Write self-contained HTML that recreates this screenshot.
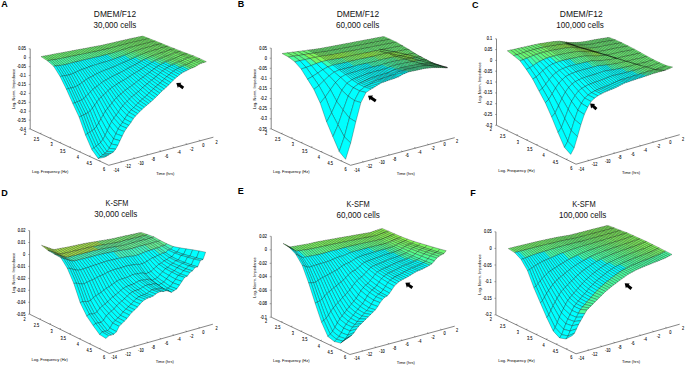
<!DOCTYPE html>
<html><head><meta charset="utf-8"><style>
html,body{margin:0;padding:0;background:#fff;}
svg{display:block;}
text{font-family:"Liberation Sans",sans-serif;}
.tl{font-size:4.6px;fill:#000;stroke:#000;stroke-width:0.08;}
.al{font-size:4px;fill:#000;}
.lt{font-size:9px;font-weight:bold;fill:#000;}
.tt{font-size:9px;fill:#111;}
</style></head><body>
<svg width="685" height="366" viewBox="0 0 685 366">
<rect width="685" height="366" fill="#fff"/>
<path d="M30.2 48.8V129L108.8 165.3L213.4 137.2" fill="none" stroke="#444" stroke-width="0.65"/>
<text transform="translate(25.9 50.3) scale(0.85 1)" text-anchor="end" class="tl">0.05</text>
<text transform="translate(25.9 59.3) scale(0.85 1)" text-anchor="end" class="tl">0</text>
<text transform="translate(25.9 68.2) scale(0.85 1)" text-anchor="end" class="tl">-0.05</text>
<text transform="translate(25.9 77.1) scale(0.85 1)" text-anchor="end" class="tl">-0.1</text>
<text transform="translate(25.9 86) scale(0.85 1)" text-anchor="end" class="tl">-0.15</text>
<text transform="translate(25.9 94.9) scale(0.85 1)" text-anchor="end" class="tl">-0.2</text>
<text transform="translate(25.9 103.8) scale(0.85 1)" text-anchor="end" class="tl">-0.25</text>
<text transform="translate(25.9 112.7) scale(0.85 1)" text-anchor="end" class="tl">-0.3</text>
<text transform="translate(25.9 121.6) scale(0.85 1)" text-anchor="end" class="tl">-0.35</text>
<text transform="translate(25.9 130.6) scale(0.85 1)" text-anchor="end" class="tl">-0.4</text>
<path d="M30.2 48.8h-1.5 M30.2 57.7h-1.5 M30.2 66.6h-1.5 M30.2 75.5h-1.5 M30.2 84.4h-1.5 M30.2 93.4h-1.5 M30.2 102.3h-1.5 M30.2 111.2h-1.5 M30.2 120.1h-1.5 M30.2 129h-1.5" stroke="#333" stroke-width="0.4"/>
<path d="M40 133.5l1.5 -0.4 M49.8 138.1l1.5 -0.4 M59.7 142.6l1.5 -0.4 M69.5 147.2l1.5 -0.4 M79.3 151.7l1.5 -0.4 M89.1 156.2l1.5 -0.4 M99 160.8l1.5 -0.4 M121.9 161.8l-1.5 -0.7 M134.9 158.3l-1.5 -0.7 M148 154.8l-1.5 -0.7 M161.1 151.2l-1.5 -0.7 M174.2 147.7l-1.5 -0.7 M187.2 144.2l-1.5 -0.7 M200.3 140.7l-1.5 -0.7" stroke="#333" stroke-width="0.4"/>
<text transform="translate(25.1 134.8) scale(0.85 1)" text-anchor="middle" class="tl">2</text>
<text transform="translate(36.4 140.6) scale(0.85 1)" text-anchor="middle" class="tl">2.5</text>
<text transform="translate(51.5 146.4) scale(0.85 1)" text-anchor="middle" class="tl">3</text>
<text transform="translate(62.8 152.6) scale(0.85 1)" text-anchor="middle" class="tl">3.5</text>
<text transform="translate(77.9 158.9) scale(0.85 1)" text-anchor="middle" class="tl">4</text>
<text transform="translate(89.2 165) scale(0.85 1)" text-anchor="middle" class="tl">4.5</text>
<text transform="translate(104.2 170.7) scale(0.85 1)" text-anchor="middle" class="tl">6</text>
<text transform="translate(116.3 171.9) scale(0.85 1)" text-anchor="middle" class="tl">-14</text>
<text transform="translate(128 168.2) scale(0.85 1)" text-anchor="middle" class="tl">-12</text>
<text transform="translate(140.9 164.9) scale(0.85 1)" text-anchor="middle" class="tl">-10</text>
<text transform="translate(153.2 161.1) scale(0.85 1)" text-anchor="middle" class="tl">-8</text>
<text transform="translate(166.5 158.1) scale(0.85 1)" text-anchor="middle" class="tl">-6</text>
<text transform="translate(179 154.4) scale(0.85 1)" text-anchor="middle" class="tl">-4</text>
<text transform="translate(191.6 151.1) scale(0.85 1)" text-anchor="middle" class="tl">-2</text>
<text transform="translate(203.4 147.2) scale(0.85 1)" text-anchor="middle" class="tl">0</text>
<text transform="translate(216.7 143.6) scale(0.85 1)" text-anchor="middle" class="tl">2</text>
<text x="50.2" y="173" text-anchor="middle" class="al">Log. Frequency (Hz)</text>
<text x="165.2" y="175" text-anchor="middle" class="al">Time (hrs)</text>
<text transform="translate(15.1 89) rotate(-90)" text-anchor="middle" class="al">Log. Norm. Impedance</text>
<g stroke="#000" stroke-width="0.28" stroke-linejoin="round">
<path d="M140.6 36.6 142.8 36.1 149.2 38.6 146.9 39.1z" fill="#74f567"/>
<path d="M138.4 37 140.6 36.6 146.9 39.1 144.7 39.6z" fill="#74f567"/>
<path d="M136.2 37.5 138.4 37 144.7 39.6 142.5 40.1z" fill="#74f567"/>
<path d="M133.9 38 136.2 37.5 142.5 40.1 140.3 40.6z" fill="#74f567"/>
<path d="M131.7 38.4 133.9 38 140.3 40.6 138.1 41.1z" fill="#74f567"/>
<path d="M129.5 38.9 131.7 38.4 138.1 41.1 135.9 41.6z" fill="#74f567"/>
<path d="M127.3 39.4 129.5 38.9 135.9 41.6 133.7 42.1z" fill="#74f567"/>
<path d="M146.9 39.1 149.2 38.6 155.5 41.1 153.3 41.6z" fill="#74f567"/>
<path d="M125.1 39.9 127.3 39.4 133.7 42.1 131.4 42.6z" fill="#74f567"/>
<path d="M144.7 39.6 146.9 39.1 153.3 41.6 151.1 42.1z" fill="#74f567"/>
<path d="M122.9 40.4 125.1 39.9 131.4 42.6 129.2 43.1z" fill="#74f567"/>
<path d="M142.5 40.1 144.7 39.6 151.1 42.1 148.9 42.6z" fill="#74f567"/>
<path d="M120.7 40.9 122.9 40.4 129.2 43.1 127 43.7z" fill="#73f568"/>
<path d="M140.3 40.6 142.5 40.1 148.9 42.6 146.6 43.2z" fill="#74f567"/>
<path d="M118.5 41.4 120.7 40.9 127 43.7 124.8 44.3z" fill="#72f569"/>
<path d="M138.1 41.1 140.3 40.6 146.6 43.2 144.4 43.8z" fill="#74f567"/>
<path d="M116.2 41.9 118.5 41.4 124.8 44.3 122.6 44.8z" fill="#71f56a"/>
<path d="M135.9 41.6 138.1 41.1 144.4 43.8 142.2 44.3z" fill="#74f567"/>
<path d="M114 42.5 116.2 41.9 122.6 44.8 120.4 45.4z" fill="#71f56b"/>
<path d="M133.7 42.1 135.9 41.6 142.2 44.3 140 44.8z" fill="#74f567"/>
<path d="M153.3 41.6 155.5 41.1 161.9 43.6 159.6 44.2z" fill="#74f567"/>
<path d="M111.8 43 114 42.5 120.4 45.4 118.2 46z" fill="#71f56b"/>
<path d="M131.4 42.6 133.7 42.1 140 44.8 137.8 45.4z" fill="#74f567"/>
<path d="M151.1 42.1 153.3 41.6 159.6 44.2 157.4 44.7z" fill="#74f567"/>
<path d="M109.6 43.5 111.8 43 118.2 46 116 46.6z" fill="#70f56b"/>
<path d="M129.2 43.1 131.4 42.6 137.8 45.4 135.6 46z" fill="#73f569"/>
<path d="M148.9 42.6 151.1 42.1 157.4 44.7 155.2 45.2z" fill="#74f567"/>
<path d="M107.4 44 109.6 43.5 116 46.6 113.7 47.2z" fill="#70f56c"/>
<path d="M127 43.7 129.2 43.1 135.6 46 133.4 46.6z" fill="#71f56a"/>
<path d="M146.6 43.2 148.9 42.6 155.2 45.2 153 45.9z" fill="#74f567"/>
<path d="M105.2 44.5 107.4 44 113.7 47.2 111.5 47.8z" fill="#6ff56c"/>
<path d="M124.8 44.3 127 43.7 133.4 46.6 131.2 47.2z" fill="#70f56c"/>
<path d="M144.4 43.8 146.6 43.2 153 45.9 150.8 46.6z" fill="#74f567"/>
<path d="M103 45 105.2 44.5 111.5 47.8 109.3 48.4z" fill="#6ff56d"/>
<path d="M122.6 44.8 124.8 44.3 131.2 47.2 128.9 47.8z" fill="#6ff56d"/>
<path d="M142.2 44.3 144.4 43.8 150.8 46.6 148.6 47.1z" fill="#74f567"/>
<path d="M100.8 45.5 103 45 109.3 48.4 107.1 48.9z" fill="#6ff56d"/>
<path d="M120.4 45.4 122.6 44.8 128.9 47.8 126.7 48.5z" fill="#6df56f"/>
<path d="M140 44.8 142.2 44.3 148.6 47.1 146.4 47.7z" fill="#74f568"/>
<path d="M159.6 44.2 161.9 43.6 168.2 46.2 166 46.7z" fill="#74f567"/>
<path d="M98.5 45.9 100.8 45.5 107.1 48.9 104.9 49.4z" fill="#6ef56d"/>
<path d="M118.2 46 120.4 45.4 126.7 48.5 124.5 49.2z" fill="#6cf570"/>
<path d="M137.8 45.4 140 44.8 146.4 47.7 144.1 48.3z" fill="#72f569"/>
<path d="M157.4 44.7 159.6 44.2 166 46.7 163.8 47.3z" fill="#74f567"/>
<path d="M96.3 46.3 98.5 45.9 104.9 49.4 102.7 49.9z" fill="#6ef56e"/>
<path d="M116 46.6 118.2 46 124.5 49.2 122.3 49.9z" fill="#6bf571"/>
<path d="M135.6 46 137.8 45.4 144.1 48.3 141.9 49z" fill="#71f56b"/>
<path d="M155.2 45.2 157.4 44.7 163.8 47.3 161.6 47.9z" fill="#74f567"/>
<path d="M94.1 46.7 96.3 46.3 102.7 49.9 100.5 50.4z" fill="#6ef56e"/>
<path d="M113.7 47.2 116 46.6 122.3 49.9 120.1 50.6z" fill="#6bf572"/>
<path d="M133.4 46.6 135.6 46 141.9 49 139.7 49.6z" fill="#6ff56c"/>
<path d="M153 45.9 155.2 45.2 161.6 47.9 159.3 48.6z" fill="#74f567"/>
<path d="M91.9 47.1 94.1 46.7 100.5 50.4 98.2 50.9z" fill="#6ef56e"/>
<path d="M111.5 47.8 113.7 47.2 120.1 50.6 117.9 51.3z" fill="#6af572"/>
<path d="M131.2 47.2 133.4 46.6 139.7 49.6 137.5 50.3z" fill="#6ef56e"/>
<path d="M150.8 46.6 153 45.9 159.3 48.6 157.1 49.4z" fill="#74f567"/>
<path d="M89.7 47.5 91.9 47.1 98.2 50.9 96 51.4z" fill="#6df56f"/>
<path d="M109.3 48.4 111.5 47.8 117.9 51.3 115.7 52z" fill="#69f573"/>
<path d="M128.9 47.8 131.2 47.2 137.5 50.3 135.3 51z" fill="#6cf570"/>
<path d="M148.6 47.1 150.8 46.6 157.1 49.4 154.9 50z" fill="#73f568"/>
<path d="M87.5 48 89.7 47.5 96 51.4 93.8 51.9z" fill="#6df56f"/>
<path d="M107.1 48.9 109.3 48.4 115.7 52 113.5 52.7z" fill="#67f677"/>
<path d="M126.7 48.5 128.9 47.8 135.3 51 133.1 51.8z" fill="#6bf571"/>
<path d="M146.4 47.7 148.6 47.1 154.9 50 152.7 50.6z" fill="#72f56a"/>
<path d="M166 46.7 168.2 46.2 174.6 48.7 172.3 49.3z" fill="#74f567"/>
<path d="M85.3 48.4 87.5 48 93.8 51.9 91.6 52.3z" fill="#6df56f"/>
<path d="M104.9 49.4 107.1 48.9 113.5 52.7 111.2 53.3z" fill="#64f67a"/>
<path d="M124.5 49.2 126.7 48.5 133.1 51.8 130.9 52.6z" fill="#68f575"/>
<path d="M144.1 48.3 146.4 47.7 152.7 50.6 150.5 51.3z" fill="#70f56b"/>
<path d="M163.8 47.3 166 46.7 172.3 49.3 170.1 49.9z" fill="#74f567"/>
<path d="M83 48.8 85.3 48.4 91.6 52.3 89.4 52.7z" fill="#6df56f"/>
<path d="M102.7 49.9 104.9 49.4 111.2 53.3 109 53.9z" fill="#62f77d"/>
<path d="M122.3 49.9 124.5 49.2 130.9 52.6 128.7 53.5z" fill="#61f77f"/>
<path d="M141.9 49 144.1 48.3 150.5 51.3 148.3 52z" fill="#6ff56d"/>
<path d="M161.6 47.9 163.8 47.3 170.1 49.9 167.9 50.5z" fill="#74f567"/>
<path d="M80.8 49.2 83 48.8 89.4 52.7 87.2 53.2z" fill="#6df56f"/>
<path d="M100.5 50.4 102.7 49.9 109 53.9 106.8 54.6z" fill="#60f780"/>
<path d="M120.1 50.6 122.3 49.9 128.7 53.5 126.4 54.4z" fill="#59f989"/>
<path d="M139.7 49.6 141.9 49 148.3 52 146.1 52.7z" fill="#6df56f"/>
<path d="M159.3 48.6 161.6 47.9 167.9 50.5 165.7 51.4z" fill="#74f567"/>
<path d="M78.6 49.6 80.8 49.2 87.2 53.2 85 53.6z" fill="#6cf570"/>
<path d="M98.2 50.9 100.5 50.4 106.8 54.6 104.6 55.2z" fill="#5df884"/>
<path d="M117.9 51.3 120.1 50.6 126.4 54.4 124.2 55.3z" fill="#52fb92"/>
<path d="M137.5 50.3 139.7 49.6 146.1 52.7 143.9 53.5z" fill="#6cf571"/>
<path d="M157.1 49.4 159.3 48.6 165.7 51.4 163.5 52.2z" fill="#73f568"/>
<path d="M76.4 50 78.6 49.6 85 53.6 82.8 54.1z" fill="#6cf570"/>
<path d="M96 51.4 98.2 50.9 104.6 55.2 102.4 55.7z" fill="#5bf987"/>
<path d="M115.7 52 117.9 51.3 124.2 55.3 122 56.1z" fill="#4dfc99"/>
<path d="M135.3 51 137.5 50.3 143.9 53.5 141.6 54.4z" fill="#6af572"/>
<path d="M154.9 50 157.1 49.4 163.5 52.2 161.3 52.9z" fill="#71f56a"/>
<path d="M74.2 50.4 76.4 50 82.8 54.1 80.5 54.5z" fill="#6cf570"/>
<path d="M93.8 51.9 96 51.4 102.4 55.7 100.2 56.3z" fill="#59f989"/>
<path d="M113.5 52.7 115.7 52 122 56.1 119.8 56.9z" fill="#47fea1"/>
<path d="M133.1 51.8 135.3 51 141.6 54.4 139.4 55.3z" fill="#62f77d"/>
<path d="M152.7 50.6 154.9 50 161.3 52.9 159.1 53.5z" fill="#70f56c"/>
<path d="M172.3 49.3 174.6 48.7 180.9 51.2 178.7 51.8z" fill="#74f567"/>
<path d="M72 50.8 74.2 50.4 80.5 54.5 78.3 54.9z" fill="#6cf570"/>
<path d="M91.6 52.3 93.8 51.9 100.2 56.3 98 56.8z" fill="#57fa8c"/>
<path d="M111.2 53.3 113.5 52.7 119.8 56.9 117.6 57.7z" fill="#41ffa9"/>
<path d="M130.9 52.6 133.1 51.8 139.4 55.3 137.2 56.2z" fill="#59f98a"/>
<path d="M150.5 51.3 152.7 50.6 159.1 53.5 156.8 54.3z" fill="#6ef56e"/>
<path d="M170.1 49.9 172.3 49.3 178.7 51.8 176.5 52.4z" fill="#74f567"/>
<path d="M69.8 51.3 72 50.8 78.3 54.9 76.1 55.4z" fill="#6cf570"/>
<path d="M89.4 52.7 91.6 52.3 98 56.8 95.7 57.3z" fill="#55fa8e"/>
<path d="M109 53.9 111.2 53.3 117.6 57.7 115.4 58.5z" fill="#3cffb0"/>
<path d="M128.7 53.5 130.9 52.6 137.2 56.2 135 57.3z" fill="#4ffc96"/>
<path d="M148.3 52 150.5 51.3 156.8 54.3 154.6 55.1z" fill="#6df56f"/>
<path d="M167.9 50.5 170.1 49.9 176.5 52.4 174.3 53.1z" fill="#74f567"/>
<path d="M67.6 51.7 69.8 51.3 76.1 55.4 73.9 55.9z" fill="#6cf570"/>
<path d="M87.2 53.2 89.4 52.7 95.7 57.3 93.5 57.8z" fill="#53fb91"/>
<path d="M106.8 54.6 109 53.9 115.4 58.5 113.2 59.3z" fill="#38ffb5"/>
<path d="M126.4 54.4 128.7 53.5 135 57.3 132.8 58.4z" fill="#46fea2"/>
<path d="M146.1 52.7 148.3 52 154.6 55.1 152.4 55.9z" fill="#6bf571"/>
<path d="M165.7 51.4 167.9 50.5 174.3 53.1 172 54.1z" fill="#74f567"/>
<path d="M65.3 52.1 67.6 51.7 73.9 55.9 71.7 56.3z" fill="#6cf571"/>
<path d="M85 53.6 87.2 53.2 93.5 57.8 91.3 58.3z" fill="#52fb93"/>
<path d="M104.6 55.2 106.8 54.6 113.2 59.3 111 60.1z" fill="#00ffff"/>
<path d="M124.2 55.3 126.4 54.4 132.8 58.4 130.6 59.4z" fill="#3effae"/>
<path d="M143.9 53.5 146.1 52.7 152.4 55.9 150.2 56.8z" fill="#68f575"/>
<path d="M163.5 52.2 165.7 51.4 172 54.1 169.8 55z" fill="#72f56a"/>
<path d="M63.1 52.5 65.3 52.1 71.7 56.3 69.5 56.7z" fill="#6bf571"/>
<path d="M82.8 54.1 85 53.6 91.3 58.3 89.1 58.8z" fill="#51fb94"/>
<path d="M102.4 55.7 104.6 55.2 111 60.1 108.7 60.8z" fill="#00ffff"/>
<path d="M122 56.1 124.2 55.3 130.6 59.4 128.4 60.4z" fill="#00ffff"/>
<path d="M141.6 54.4 143.9 53.5 150.2 56.8 148 57.8z" fill="#5df884"/>
<path d="M161.3 52.9 163.5 52.2 169.8 55 167.6 55.8z" fill="#70f56c"/>
<path d="M60.9 52.9 63.1 52.5 69.5 56.7 67.3 57.2z" fill="#6bf571"/>
<path d="M80.5 54.5 82.8 54.1 89.1 58.8 86.9 59.3z" fill="#50fc95"/>
<path d="M100.2 56.3 102.4 55.7 108.7 60.8 106.5 61.5z" fill="#00ffff"/>
<path d="M119.8 56.9 122 56.1 128.4 60.4 126.2 61.4z" fill="#00ffff"/>
<path d="M139.4 55.3 141.6 54.4 148 57.8 145.8 58.8z" fill="#51fb93"/>
<path d="M159.1 53.5 161.3 52.9 167.6 55.8 165.4 56.4z" fill="#6ef56e"/>
<path d="M178.7 51.8 180.9 51.2 187.2 53.6 185 54.2z" fill="#74f567"/>
<path d="M58.7 53.3 60.9 52.9 67.3 57.2 65.1 57.7z" fill="#6bf571"/>
<path d="M78.3 54.9 80.5 54.5 86.9 59.3 84.7 59.8z" fill="#4ffc96"/>
<path d="M98 56.8 100.2 56.3 106.5 61.5 104.3 62.2z" fill="#00ffff"/>
<path d="M117.6 57.7 119.8 56.9 126.2 61.4 123.9 62.4z" fill="#00ffff"/>
<path d="M137.2 56.2 139.4 55.3 145.8 58.8 143.6 59.9z" fill="#45fea3"/>
<path d="M156.8 54.3 159.1 53.5 165.4 56.4 163.2 57.3z" fill="#6cf570"/>
<path d="M176.5 52.4 178.7 51.8 185 54.2 182.8 54.8z" fill="#74f567"/>
<path d="M56.5 53.7 58.7 53.3 65.1 57.7 62.8 58.1z" fill="#6bf571"/>
<path d="M76.1 55.4 78.3 54.9 84.7 59.8 82.5 60.3z" fill="#4efc98"/>
<path d="M95.7 57.3 98 56.8 104.3 62.2 102.1 62.8z" fill="#00ffff"/>
<path d="M115.4 58.5 117.6 57.7 123.9 62.4 121.7 63.3z" fill="#00ffff"/>
<path d="M135 57.3 137.2 56.2 143.6 59.9 141.4 61.2z" fill="#39ffb4"/>
<path d="M154.6 55.1 156.8 54.3 163.2 57.3 161 58.2z" fill="#6bf572"/>
<path d="M174.3 53.1 176.5 52.4 182.8 54.8 180.6 55.5z" fill="#74f567"/>
<path d="M54.3 54.1 56.5 53.7 62.8 58.1 60.6 58.6z" fill="#6bf571"/>
<path d="M73.9 55.9 76.1 55.4 82.5 60.3 80.3 60.9z" fill="#4dfc99"/>
<path d="M93.5 57.8 95.7 57.3 102.1 62.8 99.9 63.4z" fill="#00ffff"/>
<path d="M113.2 59.3 115.4 58.5 121.7 63.3 119.5 64.3z" fill="#00ffff"/>
<path d="M132.8 58.4 135 57.3 141.4 61.2 139.1 62.4z" fill="#00ffff"/>
<path d="M152.4 55.9 154.6 55.1 161 58.2 158.8 59z" fill="#65f679"/>
<path d="M172 54.1 174.3 53.1 180.6 55.5 178.4 56.7z" fill="#73f568"/>
<path d="M52.1 54.5 54.3 54.1 60.6 58.6 58.4 59z" fill="#6bf571"/>
<path d="M71.7 56.3 73.9 55.9 80.3 60.9 78 61.4z" fill="#4cfd9b"/>
<path d="M91.3 58.3 93.5 57.8 99.9 63.4 97.7 64.1z" fill="#00ffff"/>
<path d="M111 60.1 113.2 59.3 119.5 64.3 117.3 65.3z" fill="#00ffff"/>
<path d="M130.6 59.4 132.8 58.4 139.1 62.4 136.9 63.7z" fill="#00ffff"/>
<path d="M150.2 56.8 152.4 55.9 158.8 59 156.6 60z" fill="#59f989"/>
<path d="M169.8 55 172 54.1 178.4 56.7 176.2 57.8z" fill="#71f56b"/>
<path d="M49.9 55 52.1 54.5 58.4 59 56.2 59.4z" fill="#6bf572"/>
<path d="M69.5 56.7 71.7 56.3 78 61.4 75.8 61.9z" fill="#4bfd9c"/>
<path d="M89.1 58.8 91.3 58.3 97.7 64.1 95.5 64.8z" fill="#00ffff"/>
<path d="M108.7 60.8 111 60.1 117.3 65.3 115.1 66.3z" fill="#00ffff"/>
<path d="M128.4 60.4 130.6 59.4 136.9 63.7 134.7 64.9z" fill="#00ffff"/>
<path d="M148 57.8 150.2 56.8 156.6 60 154.3 61.1z" fill="#4cfc9a"/>
<path d="M167.6 55.8 169.8 55 176.2 57.8 174 58.6z" fill="#6ff56d"/>
<path d="M47.6 55.4 49.9 55 56.2 59.4 54 59.7z" fill="#6bf572"/>
<path d="M67.3 57.2 69.5 56.7 75.8 61.9 73.6 62.4z" fill="#4afd9d"/>
<path d="M86.9 59.3 89.1 58.8 95.5 64.8 93.2 65.5z" fill="#00ffff"/>
<path d="M106.5 61.5 108.7 60.8 115.1 66.3 112.9 67.2z" fill="#00ffff"/>
<path d="M126.2 61.4 128.4 60.4 134.7 64.9 132.5 66.1z" fill="#00ffff"/>
<path d="M145.8 58.8 148 57.8 154.3 61.1 152.1 62.3z" fill="#3fffac"/>
<path d="M165.4 56.4 167.6 55.8 174 58.6 171.8 59.3z" fill="#6df56f"/>
<path d="M185 54.2 187.2 53.6 193.6 55.9 191.4 56.6z" fill="#74f567"/>
<path d="M45.4 55.8 47.6 55.4 54 59.7 51.8 60z" fill="#6bf572"/>
<path d="M65.1 57.7 67.3 57.2 73.6 62.4 71.4 63z" fill="#49fd9e"/>
<path d="M84.7 59.8 86.9 59.3 93.2 65.5 91 66.2z" fill="#00ffff"/>
<path d="M104.3 62.2 106.5 61.5 112.9 67.2 110.7 68z" fill="#00ffff"/>
<path d="M123.9 62.4 126.2 61.4 132.5 66.1 130.3 67.2z" fill="#00ffff"/>
<path d="M143.6 59.9 145.8 58.8 152.1 62.3 149.9 63.6z" fill="#00ffff"/>
<path d="M163.2 57.3 165.4 56.4 171.8 59.3 169.5 60.2z" fill="#6bf571"/>
<path d="M182.8 54.8 185 54.2 191.4 56.6 189.2 57.3z" fill="#74f567"/>
<path d="M43.2 56.2 45.4 55.8 51.8 60 49.6 60.4z" fill="#6af572"/>
<path d="M62.8 58.1 65.1 57.7 71.4 63 69.2 63.6z" fill="#48fda0"/>
<path d="M82.5 60.3 84.7 59.8 91 66.2 88.8 66.9z" fill="#00ffff"/>
<path d="M102.1 62.8 104.3 62.2 110.7 68 108.4 68.9z" fill="#00ffff"/>
<path d="M121.7 63.3 123.9 62.4 130.3 67.2 128.1 68.4z" fill="#00ffff"/>
<path d="M141.4 61.2 143.6 59.9 149.9 63.6 147.7 65z" fill="#00ffff"/>
<path d="M161 58.2 163.2 57.3 169.5 60.2 167.3 61.2z" fill="#66f678"/>
<path d="M180.6 55.5 182.8 54.8 189.2 57.3 187 58z" fill="#74f567"/>
<path d="M41 56.6 43.2 56.2 49.6 60.4 47.4 60.7z" fill="#6af573"/>
<path d="M60.6 58.6 62.8 58.1 69.2 63.6 67 64.2z" fill="#47fea1"/>
<path d="M80.3 60.9 82.5 60.3 88.8 66.9 86.6 67.9z" fill="#00ffff"/>
<path d="M99.9 63.4 102.1 62.8 108.4 68.9 106.2 69.7z" fill="#00ffff"/>
<path d="M119.5 64.3 121.7 63.3 128.1 68.4 125.9 69.6z" fill="#00ffff"/>
<path d="M139.1 62.4 141.4 61.2 147.7 65 145.5 66.5z" fill="#00ffff"/>
<path d="M158.8 59 161 58.2 167.3 61.2 165.1 62.1z" fill="#57fa8c"/>
<path d="M178.4 56.7 180.6 55.5 187 58 184.7 59.2z" fill="#73f569"/>
<path d="M58.4 59 60.6 58.6 67 64.2 64.8 64.7z" fill="#46fea2"/>
<path d="M78 61.4 80.3 60.9 86.6 67.9 84.4 68.7z" fill="#00ffff"/>
<path d="M97.7 64.1 99.9 63.4 106.2 69.7 104 70.6z" fill="#00ffff"/>
<path d="M117.3 65.3 119.5 64.3 125.9 69.6 123.7 70.8z" fill="#00ffff"/>
<path d="M136.9 63.7 139.1 62.4 145.5 66.5 143.3 68z" fill="#00ffff"/>
<path d="M156.6 60 158.8 59 165.1 62.1 162.9 63.2z" fill="#49fd9f"/>
<path d="M176.2 57.8 178.4 56.7 184.7 59.2 182.5 60.5z" fill="#70f56c"/>
<path d="M56.2 59.4 58.4 59 64.8 64.7 62.6 65.1z" fill="#46fea3"/>
<path d="M75.8 61.9 78 61.4 84.4 68.7 82.2 69.4z" fill="#00ffff"/>
<path d="M95.5 64.8 97.7 64.1 104 70.6 101.8 71.5z" fill="#00ffff"/>
<path d="M115.1 66.3 117.3 65.3 123.7 70.8 121.4 72z" fill="#00ffff"/>
<path d="M134.7 64.9 136.9 63.7 143.3 68 141.1 69.3z" fill="#00ffff"/>
<path d="M154.3 61.1 156.6 60 162.9 63.2 160.7 64.5z" fill="#3affb3"/>
<path d="M174 58.6 176.2 57.8 182.5 60.5 180.3 61.4z" fill="#6ef56e"/>
<path d="M54 59.7 56.2 59.4 62.6 65.1 60.3 65.4z" fill="#46fea2"/>
<path d="M73.6 62.4 75.8 61.9 82.2 69.4 80 70.3z" fill="#00ffff"/>
<path d="M93.2 65.5 95.5 64.8 101.8 71.5 99.6 72.5z" fill="#00ffff"/>
<path d="M112.9 67.2 115.1 66.3 121.4 72 119.2 73.2z" fill="#00ffff"/>
<path d="M132.5 66.1 134.7 64.9 141.1 69.3 138.9 70.7z" fill="#00ffff"/>
<path d="M152.1 62.3 154.3 61.1 160.7 64.5 158.5 65.9z" fill="#00ffff"/>
<path d="M171.8 59.3 174 58.6 180.3 61.4 178.1 62.1z" fill="#6cf570"/>
<path d="M191.4 56.6 193.6 55.9 200 58.7 197.7 59.4z" fill="#74f567"/>
<path d="M51.8 60 54 59.7 60.3 65.4 58.1 65.7z" fill="#47fea2"/>
<path d="M71.4 63 73.6 62.4 80 70.3 77.8 71.3z" fill="#00ffff"/>
<path d="M91 66.2 93.2 65.5 99.6 72.5 97.4 73.5z" fill="#00ffff"/>
<path d="M110.7 68 112.9 67.2 119.2 73.2 117 74.2z" fill="#00ffff"/>
<path d="M130.3 67.2 132.5 66.1 138.9 70.7 136.6 72.1z" fill="#00ffff"/>
<path d="M149.9 63.6 152.1 62.3 158.5 65.9 156.3 67.3z" fill="#00ffff"/>
<path d="M169.5 60.2 171.8 59.3 178.1 62.1 175.9 63.1z" fill="#6af572"/>
<path d="M189.2 57.3 191.4 56.6 197.7 59.4 195.5 60.1z" fill="#74f567"/>
<path d="M49.6 60.4 51.8 60 58.1 65.7 55.9 65.9z" fill="#45fea5"/>
<path d="M69.2 63.6 71.4 63 77.8 71.3 75.5 72.4z" fill="#00ffff"/>
<path d="M88.8 66.9 91 66.2 97.4 73.5 95.2 74.5z" fill="#00ffff"/>
<path d="M108.4 68.9 110.7 68 117 74.2 114.8 75.3z" fill="#00ffff"/>
<path d="M128.1 68.4 130.3 67.2 136.6 72.1 134.4 73.4z" fill="#00ffff"/>
<path d="M147.7 65 149.9 63.6 156.3 67.3 154.1 68.9z" fill="#00ffff"/>
<path d="M167.3 61.2 169.5 60.2 175.9 63.1 173.7 64.2z" fill="#59f989"/>
<path d="M187 58 189.2 57.3 195.5 60.1 193.3 60.9z" fill="#74f567"/>
<path d="M47.4 60.7 49.6 60.4 55.9 65.9 53.7 66.2z" fill="#3effad"/>
<path d="M67 64.2 69.2 63.6 75.5 72.4 73.3 73.4z" fill="#00ffff"/>
<path d="M86.6 67.9 88.8 66.9 95.2 74.5 93 75.9z" fill="#00ffff"/>
<path d="M106.2 69.7 108.4 68.9 114.8 75.3 112.6 76.4z" fill="#00ffff"/>
<path d="M125.9 69.6 128.1 68.4 134.4 73.4 132.2 74.8z" fill="#00ffff"/>
<path d="M145.5 66.5 147.7 65 154.1 68.9 151.8 70.7z" fill="#00ffff"/>
<path d="M165.1 62.1 167.3 61.2 173.7 64.2 171.5 65.2z" fill="#47fea1"/>
<path d="M184.7 59.2 187 58 193.3 60.9 191.1 62.2z" fill="#72f56a"/>
<path d="M64.8 64.7 67 64.2 73.3 73.4 71.1 74.3z" fill="#00ffff"/>
<path d="M84.4 68.7 86.6 67.9 93 75.9 90.7 77.1z" fill="#00ffff"/>
<path d="M104 70.6 106.2 69.7 112.6 76.4 110.4 77.5z" fill="#00ffff"/>
<path d="M123.7 70.8 125.9 69.6 132.2 74.8 130 76.3z" fill="#00ffff"/>
<path d="M143.3 68 145.5 66.5 151.8 70.7 149.6 72.4z" fill="#00ffff"/>
<path d="M162.9 63.2 165.1 62.1 171.5 65.2 169.3 66.4z" fill="#00ffff"/>
<path d="M182.5 60.5 184.7 59.2 191.1 62.2 188.9 63.5z" fill="#6ff56d"/>
<path d="M62.6 65.1 64.8 64.7 71.1 74.3 68.9 74.9z" fill="#00ffff"/>
<path d="M82.2 69.4 84.4 68.7 90.7 77.1 88.5 78.2z" fill="#00ffff"/>
<path d="M101.8 71.5 104 70.6 110.4 77.5 108.2 78.8z" fill="#00ffff"/>
<path d="M121.4 72 123.7 70.8 130 76.3 127.8 77.7z" fill="#00ffff"/>
<path d="M141.1 69.3 143.3 68 149.6 72.4 147.4 74z" fill="#00ffff"/>
<path d="M160.7 64.5 162.9 63.2 169.3 66.4 167 67.8z" fill="#00ffff"/>
<path d="M180.3 61.4 182.5 60.5 188.9 63.5 186.7 64.5z" fill="#6df56f"/>
<path d="M60.3 65.4 62.6 65.1 68.9 74.9 66.7 75.4z" fill="#00ffff"/>
<path d="M80 70.3 82.2 69.4 88.5 78.2 86.3 79.5z" fill="#00ffff"/>
<path d="M99.6 72.5 101.8 71.5 108.2 78.8 105.9 80z" fill="#00ffff"/>
<path d="M119.2 73.2 121.4 72 127.8 77.7 125.6 79.1z" fill="#00ffff"/>
<path d="M138.9 70.7 141.1 69.3 147.4 74 145.2 75.6z" fill="#00ffff"/>
<path d="M158.5 65.9 160.7 64.5 167 67.8 164.8 69.3z" fill="#00ffff"/>
<path d="M178.1 62.1 180.3 61.4 186.7 64.5 184.5 65.2z" fill="#6bf572"/>
<path d="M197.7 59.4 200 58.7 206.3 61.7 204.1 62.4z" fill="#70f56c"/>
<path d="M58.1 65.7 60.3 65.4 66.7 75.4 64.5 75.7z" fill="#00ffff"/>
<path d="M77.8 71.3 80 70.3 86.3 79.5 84.1 81z" fill="#00ffff"/>
<path d="M97.4 73.5 99.6 72.5 105.9 80 103.7 81.3z" fill="#00ffff"/>
<path d="M117 74.2 119.2 73.2 125.6 79.1 123.4 80.4z" fill="#00ffff"/>
<path d="M136.6 72.1 138.9 70.7 145.2 75.6 143 77.2z" fill="#00ffff"/>
<path d="M156.3 67.3 158.5 65.9 164.8 69.3 162.6 71z" fill="#00ffff"/>
<path d="M175.9 63.1 178.1 62.1 184.5 65.2 182.2 66.3z" fill="#5df883"/>
<path d="M195.5 60.1 197.7 59.4 204.1 62.4 201.9 63.1z" fill="#6ff56c"/>
<path d="M55.9 65.9 58.1 65.7 64.5 75.7 62.3 76.1z" fill="#00ffff"/>
<path d="M75.5 72.4 77.8 71.3 84.1 81 81.9 82.7z" fill="#00ffff"/>
<path d="M95.2 74.5 97.4 73.5 103.7 81.3 101.5 82.7z" fill="#00ffff"/>
<path d="M114.8 75.3 117 74.2 123.4 80.4 121.1 81.6z" fill="#00ffff"/>
<path d="M134.4 73.4 136.6 72.1 143 77.2 140.8 78.8z" fill="#00ffff"/>
<path d="M154.1 68.9 156.3 67.3 162.6 71 160.4 72.8z" fill="#00ffff"/>
<path d="M173.7 64.2 175.9 63.1 182.2 66.3 180 67.4z" fill="#44fea5"/>
<path d="M193.3 60.9 195.5 60.1 201.9 63.1 199.7 63.9z" fill="#6ff56d"/>
<path d="M53.7 66.2 55.9 65.9 62.3 76.1 60.1 76.5z" fill="#00ffff"/>
<path d="M73.3 73.4 75.5 72.4 81.9 82.7 79.7 84.4z" fill="#00ffff"/>
<path d="M93 75.9 95.2 74.5 101.5 82.7 99.3 84.6z" fill="#00ffff"/>
<path d="M112.6 76.4 114.8 75.3 121.1 81.6 118.9 82.9z" fill="#00ffff"/>
<path d="M132.2 74.8 134.4 73.4 140.8 78.8 138.6 80.4z" fill="#00ffff"/>
<path d="M151.8 70.7 154.1 68.9 160.4 72.8 158.2 74.7z" fill="#00ffff"/>
<path d="M171.5 65.2 173.7 64.2 180 67.4 177.8 68.5z" fill="#00ffff"/>
<path d="M191.1 62.2 193.3 60.9 199.7 63.9 197.4 65.3z" fill="#6ef56e"/>
<path d="M71.1 74.3 73.3 73.4 79.7 84.4 77.5 85.7z" fill="#00ffff"/>
<path d="M90.7 77.1 93 75.9 99.3 84.6 97.1 86.3z" fill="#00ffff"/>
<path d="M110.4 77.5 112.6 76.4 118.9 82.9 116.7 84.4z" fill="#00ffff"/>
<path d="M130 76.3 132.2 74.8 138.6 80.4 136.4 82.1z" fill="#00ffff"/>
<path d="M149.6 72.4 151.8 70.7 158.2 74.7 156 76.7z" fill="#00ffff"/>
<path d="M169.3 66.4 171.5 65.2 177.8 68.5 175.6 69.8z" fill="#00ffff"/>
<path d="M188.9 63.5 191.1 62.2 197.4 65.3 195.2 66.7z" fill="#6df56f"/>
<path d="M68.9 74.9 71.1 74.3 77.5 85.7 75.3 86.8z" fill="#00ffff"/>
<path d="M88.5 78.2 90.7 77.1 97.1 86.3 94.9 87.8z" fill="#00ffff"/>
<path d="M108.2 78.8 110.4 77.5 116.7 84.4 114.5 85.8z" fill="#00ffff"/>
<path d="M127.8 77.7 130 76.3 136.4 82.1 134.1 83.9z" fill="#00ffff"/>
<path d="M147.4 74 149.6 72.4 156 76.7 153.8 78.5z" fill="#00ffff"/>
<path d="M167 67.8 169.3 66.4 175.6 69.8 173.4 71.3z" fill="#00ffff"/>
<path d="M186.7 64.5 188.9 63.5 195.2 66.7 193 67.7z" fill="#6bf571"/>
<path d="M66.7 75.4 68.9 74.9 75.3 86.8 73 87.5z" fill="#00ffff"/>
<path d="M86.3 79.5 88.5 78.2 94.9 87.8 92.7 89.5z" fill="#00ffff"/>
<path d="M105.9 80 108.2 78.8 114.5 85.8 112.3 87.3z" fill="#00ffff"/>
<path d="M125.6 79.1 127.8 77.7 134.1 83.9 131.9 85.6z" fill="#00ffff"/>
<path d="M145.2 75.6 147.4 74 153.8 78.5 151.6 80.3z" fill="#00ffff"/>
<path d="M164.8 69.3 167 67.8 173.4 71.3 171.2 73z" fill="#00ffff"/>
<path d="M184.5 65.2 186.7 64.5 193 67.7 190.8 68.4z" fill="#64f67b"/>
<path d="M64.5 75.7 66.7 75.4 73 87.5 70.8 88z" fill="#00ffff"/>
<path d="M84.1 81 86.3 79.5 92.7 89.5 90.5 91.8z" fill="#00ffff"/>
<path d="M103.7 81.3 105.9 80 112.3 87.3 110.1 88.9z" fill="#00ffff"/>
<path d="M123.4 80.4 125.6 79.1 131.9 85.6 129.7 87.1z" fill="#00ffff"/>
<path d="M143 77.2 145.2 75.6 151.6 80.3 149.3 82.1z" fill="#00ffff"/>
<path d="M162.6 71 164.8 69.3 171.2 73 169 74.8z" fill="#00ffff"/>
<path d="M182.2 66.3 184.5 65.2 190.8 68.4 188.6 69.6z" fill="#46fea3"/>
<path d="M62.3 76.1 64.5 75.7 70.8 88 68.6 88.6z" fill="#00ffff"/>
<path d="M81.9 82.7 84.1 81 90.5 91.8 88.2 94.2z" fill="#00ffff"/>
<path d="M101.5 82.7 103.7 81.3 110.1 88.9 107.9 90.7z" fill="#00ffff"/>
<path d="M121.1 81.6 123.4 80.4 129.7 87.1 127.5 88.7z" fill="#00ffff"/>
<path d="M140.8 78.8 143 77.2 149.3 82.1 147.1 83.9z" fill="#00ffff"/>
<path d="M160.4 72.8 162.6 71 169 74.8 166.8 76.7z" fill="#00ffff"/>
<path d="M180 67.4 182.2 66.3 188.6 69.6 186.4 70.7z" fill="#00ffff"/>
<path d="M60.1 76.5 62.3 76.1 68.6 88.6 66.4 89.2z" fill="#00ffff"/>
<path d="M79.7 84.4 81.9 82.7 88.2 94.2 86 96.5z" fill="#00ffff"/>
<path d="M99.3 84.6 101.5 82.7 107.9 90.7 105.7 93.1z" fill="#00ffff"/>
<path d="M118.9 82.9 121.1 81.6 127.5 88.7 125.3 90.3z" fill="#00ffff"/>
<path d="M138.6 80.4 140.8 78.8 147.1 83.9 144.9 85.8z" fill="#00ffff"/>
<path d="M158.2 74.7 160.4 72.8 166.8 76.7 164.5 78.9z" fill="#00ffff"/>
<path d="M177.8 68.5 180 67.4 186.4 70.7 184.2 71.8z" fill="#00ffff"/>
<path d="M77.5 85.7 79.7 84.4 86 96.5 83.8 98.5z" fill="#00ffff"/>
<path d="M97.1 86.3 99.3 84.6 105.7 93.1 103.4 95.2z" fill="#00ffff"/>
<path d="M116.7 84.4 118.9 82.9 125.3 90.3 123.1 92.1z" fill="#00ffff"/>
<path d="M136.4 82.1 138.6 80.4 144.9 85.8 142.7 87.7z" fill="#00ffff"/>
<path d="M156 76.7 158.2 74.7 164.5 78.9 162.3 81z" fill="#00ffff"/>
<path d="M175.6 69.8 177.8 68.5 184.2 71.8 182 73.1z" fill="#00ffff"/>
<path d="M75.3 86.8 77.5 85.7 83.8 98.5 81.6 100z" fill="#00ffff"/>
<path d="M94.9 87.8 97.1 86.3 103.4 95.2 101.2 97z" fill="#00ffff"/>
<path d="M114.5 85.8 116.7 84.4 123.1 92.1 120.9 94z" fill="#00ffff"/>
<path d="M134.1 83.9 136.4 82.1 142.7 87.7 140.5 89.7z" fill="#00ffff"/>
<path d="M153.8 78.5 156 76.7 162.3 81 160.1 83z" fill="#00ffff"/>
<path d="M173.4 71.3 175.6 69.8 182 73.1 179.7 74.7z" fill="#00ffff"/>
<path d="M73 87.5 75.3 86.8 81.6 100 79.4 101z" fill="#00ffff"/>
<path d="M92.7 89.5 94.9 87.8 101.2 97 99 99.3z" fill="#00ffff"/>
<path d="M112.3 87.3 114.5 85.8 120.9 94 118.6 95.9z" fill="#00ffff"/>
<path d="M131.9 85.6 134.1 83.9 140.5 89.7 138.3 91.7z" fill="#00ffff"/>
<path d="M151.6 80.3 153.8 78.5 160.1 83 157.9 84.9z" fill="#00ffff"/>
<path d="M171.2 73 173.4 71.3 179.7 74.7 177.5 76.5z" fill="#00ffff"/>
<path d="M70.8 88 73 87.5 79.4 101 77.2 101.8z" fill="#00ffff"/>
<path d="M90.5 91.8 92.7 89.5 99 99.3 96.8 102.1z" fill="#00ffff"/>
<path d="M110.1 88.9 112.3 87.3 118.6 95.9 116.4 97.9z" fill="#00ffff"/>
<path d="M129.7 87.1 131.9 85.6 138.3 91.7 136.1 93.5z" fill="#00ffff"/>
<path d="M149.3 82.1 151.6 80.3 157.9 84.9 155.7 86.9z" fill="#00ffff"/>
<path d="M169 74.8 171.2 73 177.5 76.5 175.3 78.3z" fill="#00ffff"/>
<path d="M68.6 88.6 70.8 88 77.2 101.8 75 102.7z" fill="#00ffff"/>
<path d="M88.2 94.2 90.5 91.8 96.8 102.1 94.6 105.2z" fill="#00ffff"/>
<path d="M107.9 90.7 110.1 88.9 116.4 97.9 114.2 100.1z" fill="#00ffff"/>
<path d="M127.5 88.7 129.7 87.1 136.1 93.5 133.8 95.3z" fill="#00ffff"/>
<path d="M147.1 83.9 149.3 82.1 155.7 86.9 153.5 88.9z" fill="#00ffff"/>
<path d="M166.8 76.7 169 74.8 175.3 78.3 173.1 80.4z" fill="#00ffff"/>
<path d="M66.4 89.2 68.6 88.6 75 102.7 72.8 103.5z" fill="#00ffff"/>
<path d="M86 96.5 88.2 94.2 94.6 105.2 92.4 108.2z" fill="#00ffff"/>
<path d="M105.7 93.1 107.9 90.7 114.2 100.1 112 103.2z" fill="#00ffff"/>
<path d="M125.3 90.3 127.5 88.7 133.8 95.3 131.6 97.1z" fill="#00ffff"/>
<path d="M144.9 85.8 147.1 83.9 153.5 88.9 151.3 91z" fill="#00ffff"/>
<path d="M164.5 78.9 166.8 76.7 173.1 80.4 170.9 82.7z" fill="#00ffff"/>
<path d="M83.8 98.5 86 96.5 92.4 108.2 90.2 110.8z" fill="#00ffff"/>
<path d="M103.4 95.2 105.7 93.1 112 103.2 109.8 105.9z" fill="#00ffff"/>
<path d="M123.1 92.1 125.3 90.3 131.6 97.1 129.4 99.2z" fill="#00ffff"/>
<path d="M142.7 87.7 144.9 85.8 151.3 91 149.1 93z" fill="#00ffff"/>
<path d="M162.3 81 164.5 78.9 170.9 82.7 168.7 84.9z" fill="#00ffff"/>
<path d="M81.6 100 83.8 98.5 90.2 110.8 88 112.7z" fill="#00ffff"/>
<path d="M101.2 97 103.4 95.2 109.8 105.9 107.6 108.3z" fill="#00ffff"/>
<path d="M120.9 94 123.1 92.1 129.4 99.2 127.2 101.3z" fill="#00ffff"/>
<path d="M140.5 89.7 142.7 87.7 149.1 93 146.8 95.2z" fill="#00ffff"/>
<path d="M160.1 83 162.3 81 168.7 84.9 166.5 86.9z" fill="#00ffff"/>
<path d="M79.4 101 81.6 100 88 112.7 85.7 113.9z" fill="#00ffff"/>
<path d="M99 99.3 101.2 97 107.6 108.3 105.4 111.2z" fill="#00ffff"/>
<path d="M118.6 95.9 120.9 94 127.2 101.3 125 103.5z" fill="#00ffff"/>
<path d="M138.3 91.7 140.5 89.7 146.8 95.2 144.6 97.3z" fill="#00ffff"/>
<path d="M157.9 84.9 160.1 83 166.5 86.9 164.3 89z" fill="#00ffff"/>
<path d="M77.2 101.8 79.4 101 85.7 113.9 83.5 115z" fill="#00ffff"/>
<path d="M96.8 102.1 99 99.3 105.4 111.2 103.2 115z" fill="#00ffff"/>
<path d="M116.4 97.9 118.6 95.9 125 103.5 122.8 105.9z" fill="#00ffff"/>
<path d="M136.1 93.5 138.3 91.7 144.6 97.3 142.4 99.2z" fill="#00ffff"/>
<path d="M155.7 86.9 157.9 84.9 164.3 89 162 91.1z" fill="#00ffff"/>
<path d="M75 102.7 77.2 101.8 83.5 115 81.3 116z" fill="#00ffff"/>
<path d="M94.6 105.2 96.8 102.1 103.2 115 100.9 119z" fill="#00ffff"/>
<path d="M114.2 100.1 116.4 97.9 122.8 105.9 120.6 108.5z" fill="#00ffff"/>
<path d="M133.8 95.3 136.1 93.5 142.4 99.2 140.2 101.2z" fill="#00ffff"/>
<path d="M153.5 88.9 155.7 86.9 162 91.1 159.8 93.2z" fill="#00ffff"/>
<path d="M72.8 103.5 75 102.7 81.3 116 79.1 117.1z" fill="#00ffff"/>
<path d="M92.4 108.2 94.6 105.2 100.9 119 98.7 123z" fill="#00ffff"/>
<path d="M112 103.2 114.2 100.1 120.6 108.5 118.4 112.1z" fill="#00ffff"/>
<path d="M131.6 97.1 133.8 95.3 140.2 101.2 138 103.1z" fill="#00ffff"/>
<path d="M151.3 91 153.5 88.9 159.8 93.2 157.6 95.4z" fill="#00ffff"/>
<path d="M90.2 110.8 92.4 108.2 98.7 123 96.5 126.4z" fill="#00ffff"/>
<path d="M109.8 105.9 112 103.2 118.4 112.1 116.1 115.2z" fill="#00ffff"/>
<path d="M129.4 99.2 131.6 97.1 138 103.1 135.8 105.3z" fill="#00ffff"/>
<path d="M149.1 93 151.3 91 157.6 95.4 155.4 97.5z" fill="#00ffff"/>
<path d="M88 112.7 90.2 110.8 96.5 126.4 94.3 129z" fill="#00ffff"/>
<path d="M107.6 108.3 109.8 105.9 116.1 115.2 113.9 118.1z" fill="#00ffff"/>
<path d="M127.2 101.3 129.4 99.2 135.8 105.3 133.6 107.6z" fill="#00ffff"/>
<path d="M146.8 95.2 149.1 93 155.4 97.5 153.2 99.7z" fill="#00ffff"/>
<path d="M85.7 113.9 88 112.7 94.3 129 92.1 130.6z" fill="#00ffff"/>
<path d="M105.4 111.2 107.6 108.3 113.9 118.1 111.7 121.5z" fill="#00ffff"/>
<path d="M125 103.5 127.2 101.3 133.6 107.6 131.3 109.9z" fill="#00ffff"/>
<path d="M144.6 97.3 146.8 95.2 153.2 99.7 151 101.8z" fill="#00ffff"/>
<path d="M83.5 115 85.7 113.9 92.1 130.6 89.9 132.1z" fill="#00ffff"/>
<path d="M103.2 115 105.4 111.2 111.7 121.5 109.5 125.9z" fill="#00ffff"/>
<path d="M122.8 105.9 125 103.5 131.3 109.9 129.1 112.4z" fill="#00ffff"/>
<path d="M142.4 99.2 144.6 97.3 151 101.8 148.8 103.6z" fill="#00ffff"/>
<path d="M81.3 116 83.5 115 89.9 132.1 87.7 133.5z" fill="#00ffff"/>
<path d="M100.9 119 103.2 115 109.5 125.9 107.3 130.7z" fill="#00ffff"/>
<path d="M120.6 108.5 122.8 105.9 129.1 112.4 126.9 115.3z" fill="#00ffff"/>
<path d="M140.2 101.2 142.4 99.2 148.8 103.6 146.5 105.4z" fill="#00ffff"/>
<path d="M79.1 117.1 81.3 116 87.7 133.5 85.5 134.9z" fill="#00ffff"/>
<path d="M98.7 123 100.9 119 107.3 130.7 105.1 135.5z" fill="#00ffff"/>
<path d="M118.4 112.1 120.6 108.5 126.9 115.3 124.7 119z" fill="#00ffff"/>
<path d="M138 103.1 140.2 101.2 146.5 105.4 144.3 107.3z" fill="#00ffff"/>
<path d="M96.5 126.4 98.7 123 105.1 135.5 102.9 139.5z" fill="#00ffff"/>
<path d="M116.1 115.2 118.4 112.1 124.7 119 122.5 122.4z" fill="#00ffff"/>
<path d="M135.8 105.3 138 103.1 144.3 107.3 142.1 109.4z" fill="#00ffff"/>
<path d="M94.3 129 96.5 126.4 102.9 139.5 100.7 142.5z" fill="#00ffff"/>
<path d="M113.9 118.1 116.1 115.2 122.5 122.4 120.3 125.5z" fill="#00ffff"/>
<path d="M133.6 107.6 135.8 105.3 142.1 109.4 139.9 111.5z" fill="#00ffff"/>
<path d="M92.1 130.6 94.3 129 100.7 142.5 98.4 144.5z" fill="#00ffff"/>
<path d="M111.7 121.5 113.9 118.1 120.3 125.5 118.1 129.1z" fill="#00ffff"/>
<path d="M131.3 109.9 133.6 107.6 139.9 111.5 137.7 113.7z" fill="#00ffff"/>
<path d="M89.9 132.1 92.1 130.6 98.4 144.5 96.2 146.1z" fill="#00ffff"/>
<path d="M109.5 125.9 111.7 121.5 118.1 129.1 115.9 133.8z" fill="#00ffff"/>
<path d="M129.1 112.4 131.3 109.9 137.7 113.7 135.5 116z" fill="#00ffff"/>
<path d="M87.7 133.5 89.9 132.1 96.2 146.1 94 147.8z" fill="#00ffff"/>
<path d="M107.3 130.7 109.5 125.9 115.9 133.8 113.6 138.9z" fill="#00ffff"/>
<path d="M126.9 115.3 129.1 112.4 135.5 116 133.3 118.7z" fill="#00ffff"/>
<path d="M85.5 134.9 87.7 133.5 94 147.8 91.8 149.5z" fill="#00ffff"/>
<path d="M105.1 135.5 107.3 130.7 113.6 138.9 111.4 144z" fill="#00ffff"/>
<path d="M124.7 119 126.9 115.3 133.3 118.7 131.1 122.3z" fill="#00ffff"/>
<path d="M102.9 139.5 105.1 135.5 111.4 144 109.2 148.3z" fill="#00ffff"/>
<path d="M122.5 122.4 124.7 119 131.1 122.3 128.8 125.4z" fill="#00ffff"/>
<path d="M100.7 142.5 102.9 139.5 109.2 148.3 107 151.5z" fill="#00ffff"/>
<path d="M120.3 125.5 122.5 122.4 128.8 125.4 126.6 128.2z" fill="#00ffff"/>
<path d="M98.4 144.5 100.7 142.5 107 151.5 104.8 153.4z" fill="#00ffff"/>
<path d="M118.1 129.1 120.3 125.5 126.6 128.2 124.4 131.6z" fill="#00ffff"/>
<path d="M96.2 146.1 98.4 144.5 104.8 153.4 102.6 155.1z" fill="#00ffff"/>
<path d="M115.9 133.8 118.1 129.1 124.4 131.6 122.2 136z" fill="#00ffff"/>
<path d="M94 147.8 96.2 146.1 102.6 155.1 100.4 156.8z" fill="#00ffff"/>
<path d="M113.6 138.9 115.9 133.8 122.2 136 120 140.7z" fill="#00ffff"/>
<path d="M91.8 149.5 94 147.8 100.4 156.8 98.2 158.5z" fill="#00ffff"/>
<path d="M111.4 144 113.6 138.9 120 140.7 117.8 145.4z" fill="#00ffff"/>
<path d="M109.2 148.3 111.4 144 117.8 145.4 115.6 149.2z" fill="#00ffff"/>
<path d="M107 151.5 109.2 148.3 115.6 149.2 113.4 152z" fill="#00ffff"/>
<path d="M104.8 153.4 107 151.5 113.4 152 111.1 153.5z" fill="#00ffff"/>
<path d="M102.6 155.1 104.8 153.4 111.1 153.5 108.9 154.8z" fill="#00ffff"/>
<path d="M100.4 156.8 102.6 155.1 108.9 154.8 106.7 156z" fill="#00ffff"/>
<path d="M98.2 158.5 100.4 156.8 106.7 156 104.5 157.3z" fill="#00ffff"/>
</g>

<g transform="translate(176.3 83.1) rotate(34.4)"><path d="M0 0L4 -3.1L4 -1.5L8.5 -1.5L8.5 1.5L4 1.5L4 3.1z" fill="#000"/></g>
<text x="1.2" y="7" class="lt">A</text>
<text x="115" y="17" text-anchor="middle" class="tt" textLength="42.3" lengthAdjust="spacingAndGlyphs">DMEM/F12</text>
<text x="114.9" y="27.7" text-anchor="middle" class="tt" textLength="42.7" lengthAdjust="spacingAndGlyphs">30,000 cells</text>
<path d="M271.2 48.1V128.9L350.6 165.3L454.7 137.7" fill="none" stroke="#444" stroke-width="0.65"/>
<text transform="translate(266.9 49.6) scale(0.85 1)" text-anchor="end" class="tl">0.05</text>
<text transform="translate(266.9 59.8) scale(0.85 1)" text-anchor="end" class="tl">0</text>
<text transform="translate(266.9 69.9) scale(0.85 1)" text-anchor="end" class="tl">-0.05</text>
<text transform="translate(266.9 80) scale(0.85 1)" text-anchor="end" class="tl">-0.1</text>
<text transform="translate(266.9 90) scale(0.85 1)" text-anchor="end" class="tl">-0.15</text>
<text transform="translate(266.9 100.2) scale(0.85 1)" text-anchor="end" class="tl">-0.2</text>
<text transform="translate(266.9 110.3) scale(0.85 1)" text-anchor="end" class="tl">-0.25</text>
<text transform="translate(266.9 120.4) scale(0.85 1)" text-anchor="end" class="tl">-0.3</text>
<text transform="translate(266.9 130.5) scale(0.85 1)" text-anchor="end" class="tl">-0.35</text>
<path d="M271.2 48.1h-1.5 M271.2 58.2h-1.5 M271.2 68.3h-1.5 M271.2 78.4h-1.5 M271.2 88.5h-1.5 M271.2 98.6h-1.5 M271.2 108.7h-1.5 M271.2 118.8h-1.5 M271.2 128.9h-1.5" stroke="#333" stroke-width="0.4"/>
<path d="M281.1 133.5l1.5 -0.4 M291.1 138l1.5 -0.4 M301 142.6l1.5 -0.4 M310.9 147.1l1.5 -0.4 M320.8 151.7l1.5 -0.4 M330.8 156.2l1.5 -0.4 M340.7 160.8l1.5 -0.4 M363.6 161.9l-1.5 -0.7 M376.6 158.4l-1.5 -0.7 M389.6 154.9l-1.5 -0.7 M402.6 151.5l-1.5 -0.7 M415.7 148.1l-1.5 -0.7 M428.7 144.6l-1.5 -0.7 M441.7 141.1l-1.5 -0.7" stroke="#333" stroke-width="0.4"/>
<text transform="translate(266.2 134.8) scale(0.85 1)" text-anchor="middle" class="tl">2</text>
<text transform="translate(277.7 140.6) scale(0.85 1)" text-anchor="middle" class="tl">2.5</text>
<text transform="translate(292.8 146.2) scale(0.85 1)" text-anchor="middle" class="tl">3</text>
<text transform="translate(304.6 152.6) scale(0.85 1)" text-anchor="middle" class="tl">3.5</text>
<text transform="translate(318.9 158.9) scale(0.85 1)" text-anchor="middle" class="tl">4</text>
<text transform="translate(330.2 164.9) scale(0.85 1)" text-anchor="middle" class="tl">4.5</text>
<text transform="translate(345.5 171.4) scale(0.85 1)" text-anchor="middle" class="tl">6</text>
<text transform="translate(356.8 171.9) scale(0.85 1)" text-anchor="middle" class="tl">-14</text>
<text transform="translate(369.4 167.7) scale(0.85 1)" text-anchor="middle" class="tl">-12</text>
<text transform="translate(381.9 164.4) scale(0.85 1)" text-anchor="middle" class="tl">-10</text>
<text transform="translate(394.5 160.6) scale(0.85 1)" text-anchor="middle" class="tl">-8</text>
<text transform="translate(407 157.4) scale(0.85 1)" text-anchor="middle" class="tl">-6</text>
<text transform="translate(419.6 153.9) scale(0.85 1)" text-anchor="middle" class="tl">-4</text>
<text transform="translate(432.9 150.1) scale(0.85 1)" text-anchor="middle" class="tl">-2</text>
<text transform="translate(444.7 146.2) scale(0.85 1)" text-anchor="middle" class="tl">0</text>
<text transform="translate(457.2 143.1) scale(0.85 1)" text-anchor="middle" class="tl">2</text>
<text x="291.3" y="173" text-anchor="middle" class="al">Log. Frequency (Hz)</text>
<text x="405.8" y="174.8" text-anchor="middle" class="al">Time (hrs)</text>
<text transform="translate(255.7 89) rotate(-90)" text-anchor="middle" class="al">Log. Norm. Impedance</text>
<g stroke="#000" stroke-width="0.28" stroke-linejoin="round">
<path d="M381.8 36.9 383.9 36.5 390.2 39.3 388.1 39.7z" fill="#6af573"/>
<path d="M379.7 37.3 381.8 36.9 388.1 39.7 386 40.1z" fill="#6af573"/>
<path d="M377.5 37.7 379.7 37.3 386 40.1 383.9 40.5z" fill="#6af573"/>
<path d="M375.4 38.1 377.5 37.7 383.9 40.5 381.8 40.9z" fill="#6af573"/>
<path d="M373.3 38.5 375.4 38.1 381.8 40.9 379.6 41.3z" fill="#6af573"/>
<path d="M371.2 38.9 373.3 38.5 379.6 41.3 377.5 41.7z" fill="#6af573"/>
<path d="M388.1 39.7 390.2 39.3 396.6 42.3 394.5 42.6z" fill="#6af573"/>
<path d="M369.1 39.3 371.2 38.9 377.5 41.7 375.4 42.1z" fill="#6af573"/>
<path d="M386 40.1 388.1 39.7 394.5 42.6 392.4 43z" fill="#6af573"/>
<path d="M366.9 39.7 369.1 39.3 375.4 42.1 373.3 42.5z" fill="#6af573"/>
<path d="M383.9 40.5 386 40.1 392.4 43 390.2 43.4z" fill="#6af573"/>
<path d="M364.8 40.1 366.9 39.7 373.3 42.5 371.2 42.9z" fill="#6af573"/>
<path d="M381.8 40.9 383.9 40.5 390.2 43.4 388.1 43.8z" fill="#6af573"/>
<path d="M362.7 40.5 364.8 40.1 371.2 42.9 369 43.3z" fill="#6af573"/>
<path d="M379.6 41.3 381.8 40.9 388.1 43.8 386 44.2z" fill="#6af573"/>
<path d="M360.6 40.9 362.7 40.5 369 43.3 366.9 43.7z" fill="#6af573"/>
<path d="M377.5 41.7 379.6 41.3 386 44.2 383.9 44.6z" fill="#6af573"/>
<path d="M394.5 42.6 396.6 42.3 402.9 45.9 400.8 46z" fill="#6af573"/>
<path d="M358.4 41.3 360.6 40.9 366.9 43.7 364.8 44.2z" fill="#6af573"/>
<path d="M375.4 42.1 377.5 41.7 383.9 44.6 381.8 45z" fill="#6af573"/>
<path d="M392.4 43 394.5 42.6 400.8 46 398.7 46.4z" fill="#6af573"/>
<path d="M356.3 41.7 358.4 41.3 364.8 44.2 362.7 44.6z" fill="#6af573"/>
<path d="M373.3 42.5 375.4 42.1 381.8 45 379.6 45.4z" fill="#6af573"/>
<path d="M390.2 43.4 392.4 43 398.7 46.4 396.6 46.8z" fill="#6af573"/>
<path d="M354.2 42.1 356.3 41.7 362.7 44.6 360.6 45z" fill="#6af573"/>
<path d="M371.2 42.9 373.3 42.5 379.6 45.4 377.5 45.8z" fill="#6af573"/>
<path d="M388.1 43.8 390.2 43.4 396.6 46.8 394.5 47.2z" fill="#6af573"/>
<path d="M352.1 42.5 354.2 42.1 360.6 45 358.4 45.4z" fill="#6af573"/>
<path d="M369 43.3 371.2 42.9 377.5 45.8 375.4 46.2z" fill="#6af573"/>
<path d="M386 44.2 388.1 43.8 394.5 47.2 392.3 47.6z" fill="#6af573"/>
<path d="M350 42.9 352.1 42.5 358.4 45.4 356.3 45.8z" fill="#6af573"/>
<path d="M366.9 43.7 369 43.3 375.4 46.2 373.3 46.6z" fill="#6af573"/>
<path d="M383.9 44.6 386 44.2 392.3 47.6 390.2 48z" fill="#6af573"/>
<path d="M347.8 43.3 350 42.9 356.3 45.8 354.2 46.2z" fill="#6af573"/>
<path d="M400.8 46 402.9 45.9 409.3 49.7 407.2 49.5z" fill="#6af573"/>
<path d="M364.8 44.2 366.9 43.7 373.3 46.6 371.1 47.1z" fill="#6af573"/>
<path d="M381.8 45 383.9 44.6 390.2 48 388.1 48.4z" fill="#6af573"/>
<path d="M345.7 43.7 347.8 43.3 354.2 46.2 352.1 46.6z" fill="#6af573"/>
<path d="M398.7 46.4 400.8 46 407.2 49.5 405.1 49.9z" fill="#6af573"/>
<path d="M362.7 44.6 364.8 44.2 371.1 47.1 369 47.5z" fill="#6af573"/>
<path d="M379.6 45.4 381.8 45 388.1 48.4 386 48.8z" fill="#6af573"/>
<path d="M343.6 44.1 345.7 43.7 352.1 46.6 350 47z" fill="#6af573"/>
<path d="M396.6 46.8 398.7 46.4 405.1 49.9 402.9 50.3z" fill="#6af573"/>
<path d="M360.6 45 362.7 44.6 369 47.5 366.9 47.9z" fill="#6af573"/>
<path d="M377.5 45.8 379.6 45.4 386 48.8 383.9 49.2z" fill="#6af573"/>
<path d="M341.5 44.5 343.6 44.1 350 47 347.8 47.4z" fill="#6af573"/>
<path d="M394.5 47.2 396.6 46.8 402.9 50.3 400.8 50.7z" fill="#6af573"/>
<path d="M358.4 45.4 360.6 45 366.9 47.9 364.8 48.3z" fill="#6af573"/>
<path d="M375.4 46.2 377.5 45.8 383.9 49.2 381.7 49.6z" fill="#6af573"/>
<path d="M339.4 44.9 341.5 44.5 347.8 47.4 345.7 47.8z" fill="#6af573"/>
<path d="M392.3 47.6 394.5 47.2 400.8 50.7 398.7 51.1z" fill="#6af573"/>
<path d="M356.3 45.8 358.4 45.4 364.8 48.3 362.7 48.7z" fill="#6af573"/>
<path d="M373.3 46.6 375.4 46.2 381.7 49.6 379.6 50z" fill="#6af573"/>
<path d="M337.2 45.3 339.4 44.9 345.7 47.8 343.6 48.2z" fill="#6af573"/>
<path d="M390.2 48 392.3 47.6 398.7 51.1 396.6 51.5z" fill="#68f574"/>
<path d="M354.2 46.2 356.3 45.8 362.7 48.7 360.5 49.2z" fill="#6af573"/>
<path d="M407.2 49.5 409.3 49.7 415.6 53.8 413.5 53.3z" fill="#6af573"/>
<path d="M371.1 47.1 373.3 46.6 379.6 50 377.5 50.5z" fill="#6af573"/>
<path d="M335.1 45.7 337.2 45.3 343.6 48.2 341.5 48.6z" fill="#6af573"/>
<path d="M388.1 48.4 390.2 48 396.6 51.5 394.5 51.9z" fill="#67f576"/>
<path d="M352.1 46.6 354.2 46.2 360.5 49.2 358.4 49.6z" fill="#6af573"/>
<path d="M405.1 49.9 407.2 49.5 413.5 53.3 411.4 53.7z" fill="#6af573"/>
<path d="M369 47.5 371.1 47.1 377.5 50.5 375.4 50.9z" fill="#69f574"/>
<path d="M333 46.1 335.1 45.7 341.5 48.6 339.4 49z" fill="#6af573"/>
<path d="M386 48.8 388.1 48.4 394.5 51.9 392.3 52.3z" fill="#6df56f"/>
<path d="M350 47 352.1 46.6 358.4 49.6 356.3 50z" fill="#6af573"/>
<path d="M402.9 50.3 405.1 49.9 411.4 53.7 409.3 54.1z" fill="#6af573"/>
<path d="M366.9 47.9 369 47.5 375.4 50.9 373.3 51.3z" fill="#67f576"/>
<path d="M330.9 46.5 333 46.1 339.4 49 337.2 49.4z" fill="#6af573"/>
<path d="M383.9 49.2 386 48.8 392.3 52.3 390.2 52.7z" fill="#71f56a"/>
<path d="M347.8 47.4 350 47 356.3 50 354.2 50.4z" fill="#6af573"/>
<path d="M400.8 50.7 402.9 50.3 409.3 54.1 407.2 54.5z" fill="#6ef56e"/>
<path d="M364.8 48.3 366.9 47.9 373.3 51.3 371.1 51.8z" fill="#66f678"/>
<path d="M328.8 46.9 330.9 46.5 337.2 49.4 335.1 49.8z" fill="#6af573"/>
<path d="M381.7 49.6 383.9 49.2 390.2 52.7 388.1 53.1z" fill="#75f566"/>
<path d="M345.7 47.8 347.8 47.4 354.2 50.4 352.1 50.8z" fill="#6af573"/>
<path d="M398.7 51.1 400.8 50.7 407.2 54.5 405 54.9z" fill="#76f566"/>
<path d="M362.7 48.7 364.8 48.3 371.1 51.8 369 52.3z" fill="#64f67a"/>
<path d="M326.6 47.3 328.8 46.9 335.1 49.8 333 50.2z" fill="#6af573"/>
<path d="M379.6 50 381.7 49.6 388.1 53.1 386 53.5z" fill="#79f562"/>
<path d="M343.6 48.2 345.7 47.8 352.1 50.8 349.9 51.2z" fill="#6af573"/>
<path d="M396.6 51.5 398.7 51.1 405 54.9 402.9 55.3z" fill="#7ef55d"/>
<path d="M360.5 49.2 362.7 48.7 369 52.3 366.9 52.7z" fill="#64f67b"/>
<path d="M324.5 47.7 326.6 47.3 333 50.2 330.9 50.6z" fill="#6af573"/>
<path d="M413.5 53.3 415.6 53.8 422 57.4 419.9 56.7z" fill="#6af573"/>
<path d="M377.5 50.5 379.6 50 386 53.5 383.8 53.9z" fill="#7df55d"/>
<path d="M341.5 48.6 343.6 48.2 349.9 51.2 347.8 51.6z" fill="#6af573"/>
<path d="M394.5 51.9 396.6 51.5 402.9 55.3 400.8 55.7z" fill="#86f554"/>
<path d="M358.4 49.6 360.5 49.2 366.9 52.7 364.8 53.1z" fill="#6cf570"/>
<path d="M322.4 48.1 324.5 47.7 330.9 50.6 328.7 51z" fill="#6af573"/>
<path d="M411.4 53.7 413.5 53.3 419.9 56.7 417.8 57z" fill="#69f574"/>
<path d="M375.4 50.9 377.5 50.5 383.8 53.9 381.7 54.4z" fill="#82f559"/>
<path d="M339.4 49 341.5 48.6 347.8 51.6 345.7 52z" fill="#6af573"/>
<path d="M392.3 52.3 394.5 51.9 400.8 55.7 398.7 56.1z" fill="#8ef54b"/>
<path d="M356.3 50 358.4 49.6 364.8 53.1 362.7 53.5z" fill="#70f56c"/>
<path d="M320.3 48.5 322.4 48.1 328.7 51 326.6 51.4z" fill="#6af573"/>
<path d="M409.3 54.1 411.4 53.7 417.8 57 415.6 57.3z" fill="#75f567"/>
<path d="M373.3 51.3 375.4 50.9 381.7 54.4 379.6 54.9z" fill="#86f554"/>
<path d="M337.2 49.4 339.4 49 345.7 52 343.6 52.4z" fill="#6af573"/>
<path d="M390.2 52.7 392.3 52.3 398.7 56.1 396.6 56.5z" fill="#96f543"/>
<path d="M354.2 50.4 356.3 50 362.7 53.5 360.5 54z" fill="#74f568"/>
<path d="M318.2 48.8 320.3 48.5 326.6 51.4 324.5 51.7z" fill="#6af573"/>
<path d="M407.2 54.5 409.3 54.1 415.6 57.3 413.5 57.7z" fill="#80f55a"/>
<path d="M371.1 51.8 373.3 51.3 379.6 54.9 377.5 55.3z" fill="#8bf54f"/>
<path d="M335.1 49.8 337.2 49.4 343.6 52.4 341.5 52.8z" fill="#6af573"/>
<path d="M388.1 53.1 390.2 52.7 396.6 56.5 394.4 56.9z" fill="#92f546"/>
<path d="M352.1 50.8 354.2 50.4 360.5 54 358.4 54.4z" fill="#77f564"/>
<path d="M316 49.1 318.2 48.8 324.5 51.7 322.4 52z" fill="#6af573"/>
<path d="M405 54.9 407.2 54.5 413.5 57.7 411.4 58z" fill="#8cf54d"/>
<path d="M369 52.3 371.1 51.8 377.5 55.3 375.4 55.9z" fill="#8ff54a"/>
<path d="M333 50.2 335.1 49.8 341.5 52.8 339.3 53.3z" fill="#69f574"/>
<path d="M386 53.5 388.1 53.1 394.4 56.9 392.3 57.3z" fill="#8af54f"/>
<path d="M349.9 51.2 352.1 50.8 358.4 54.4 356.3 54.8z" fill="#7bf560"/>
<path d="M313.9 49.4 316 49.1 322.4 52 320.3 52.3z" fill="#6af573"/>
<path d="M402.9 55.3 405 54.9 411.4 58 409.3 58.4z" fill="#98f541"/>
<path d="M366.9 52.7 369 52.3 375.4 55.9 373.2 56.4z" fill="#94f544"/>
<path d="M330.9 50.6 333 50.2 339.3 53.3 337.2 53.7z" fill="#68f575"/>
<path d="M419.9 56.7 422 57.4 428.3 60.8 426.2 59.8z" fill="#66f678"/>
<path d="M383.8 53.9 386 53.5 392.3 57.3 390.2 57.7z" fill="#86f554"/>
<path d="M347.8 51.6 349.9 51.2 356.3 54.8 354.2 55.2z" fill="#7ff55c"/>
<path d="M311.8 49.7 313.9 49.4 320.3 52.3 318.1 52.6z" fill="#6af573"/>
<path d="M400.8 55.7 402.9 55.3 409.3 58.4 407.2 58.8z" fill="#8cf54d"/>
<path d="M364.8 53.1 366.9 52.7 373.2 56.4 371.1 56.9z" fill="#97f541"/>
<path d="M328.7 51 330.9 50.6 337.2 53.7 335.1 54.1z" fill="#6af572"/>
<path d="M417.8 57 419.9 56.7 426.2 59.8 424.1 60z" fill="#65f679"/>
<path d="M381.7 54.4 383.8 53.9 390.2 57.7 388.1 58.2z" fill="#82f559"/>
<path d="M345.7 52 347.8 51.6 354.2 55.2 352.1 55.7z" fill="#82f558"/>
<path d="M309.7 49.9 311.8 49.7 318.1 52.6 316 52.9z" fill="#6af573"/>
<path d="M398.7 56.1 400.8 55.7 407.2 58.8 405 59.2z" fill="#84f556"/>
<path d="M362.7 53.5 364.8 53.1 371.1 56.9 369 57.3z" fill="#93f546"/>
<path d="M326.6 51.4 328.7 51 335.1 54.1 333 54.6z" fill="#6df56e"/>
<path d="M415.6 57.3 417.8 57 424.1 60 422 60.2z" fill="#62f77d"/>
<path d="M379.6 54.9 381.7 54.4 388.1 58.2 386 58.7z" fill="#7df55e"/>
<path d="M343.6 52.4 345.7 52 352.1 55.7 349.9 56.1z" fill="#86f554"/>
<path d="M307.6 50.2 309.7 49.9 316 52.9 313.9 53.2z" fill="#6af573"/>
<path d="M396.6 56.5 398.7 56.1 405 59.2 402.9 59.6z" fill="#7cf55f"/>
<path d="M360.5 54 362.7 53.5 369 57.3 366.9 57.8z" fill="#8ff54a"/>
<path d="M324.5 51.7 326.6 51.4 333 54.6 330.9 54.9z" fill="#70f56b"/>
<path d="M413.5 57.7 415.6 57.3 422 60.2 419.9 60.5z" fill="#60f780"/>
<path d="M377.5 55.3 379.6 54.9 386 58.7 383.8 59.1z" fill="#78f563"/>
<path d="M341.5 52.8 343.6 52.4 349.9 56.1 347.8 56.5z" fill="#8af550"/>
<path d="M302.5 50.9 307.6 50.2 313.9 53.2 308.8 53.9z" fill="#6af573"/>
<path d="M394.4 56.9 396.6 56.5 402.9 59.6 400.8 60.1z" fill="#74f568"/>
<path d="M358.4 54.4 360.5 54 366.9 57.8 364.8 58.2z" fill="#8af54f"/>
<path d="M322.4 52 324.5 51.7 330.9 54.9 328.7 55.2z" fill="#72f569"/>
<path d="M411.4 58 413.5 57.7 419.9 60.5 417.7 60.8z" fill="#5ef883"/>
<path d="M375.4 55.9 377.5 55.3 383.8 59.1 381.7 59.6z" fill="#73f568"/>
<path d="M339.3 53.3 341.5 52.8 347.8 56.5 345.7 57z" fill="#8df54c"/>
<path d="M297.4 51.5 302.5 50.9 308.8 53.9 303.7 54.7z" fill="#6af573"/>
<path d="M392.3 57.3 394.4 56.9 400.8 60.1 398.7 60.5z" fill="#6cf570"/>
<path d="M356.3 54.8 358.4 54.4 364.8 58.2 362.6 58.7z" fill="#86f554"/>
<path d="M320.3 52.3 322.4 52 328.7 55.2 326.6 55.5z" fill="#74f567"/>
<path d="M409.3 58.4 411.4 58 417.7 60.8 415.6 61.1z" fill="#8cf54d"/>
<path d="M373.2 56.4 375.4 55.9 381.7 59.6 379.6 60.2z" fill="#6ef56e"/>
<path d="M337.2 53.7 339.3 53.3 345.7 57 343.6 57.4z" fill="#91f548"/>
<path d="M426.2 59.8 428.3 60.8 434.7 64 432.6 63z" fill="#61f77e"/>
<path d="M292.3 52.2 297.4 51.5 303.7 54.7 298.6 55.5z" fill="#6af573"/>
<path d="M390.2 57.7 392.3 57.3 398.7 60.5 396.6 60.9z" fill="#51fb94"/>
<path d="M354.2 55.2 356.3 54.8 362.6 58.7 360.5 59.1z" fill="#82f558"/>
<path d="M318.1 52.6 320.3 52.3 326.6 55.5 324.5 55.8z" fill="#76f565"/>
<path d="M407.2 58.8 409.3 58.4 415.6 61.1 413.5 61.4z" fill="#81f55a"/>
<path d="M371.1 56.9 373.2 56.4 379.6 60.2 377.5 60.8z" fill="#4dfc9a"/>
<path d="M335.1 54.1 337.2 53.7 343.6 57.4 341.4 57.9z" fill="#95f543"/>
<path d="M424.1 60 426.2 59.8 432.6 63 430.5 63.1z" fill="#61f77f"/>
<path d="M287.2 52.8 292.3 52.2 298.6 55.5 293.5 56.2z" fill="#6af573"/>
<path d="M388.1 58.2 390.2 57.7 396.6 60.9 394.4 61.3z" fill="#4ffc97"/>
<path d="M352.1 55.7 354.2 55.2 360.5 59.1 358.4 59.6z" fill="#7ef55c"/>
<path d="M316 52.9 318.1 52.6 324.5 55.8 322.4 56.1z" fill="#78f563"/>
<path d="M405 59.2 407.2 58.8 413.5 61.4 411.4 61.9z" fill="#75f567"/>
<path d="M369 57.3 371.1 56.9 377.5 60.8 375.4 61.4z" fill="#4bfd9c"/>
<path d="M333 54.6 335.1 54.1 341.4 57.9 339.3 58.4z" fill="#97f541"/>
<path d="M422 60.2 424.1 60 430.5 63.1 428.3 63.3z" fill="#5ef882"/>
<path d="M282.1 53.5 287.2 52.8 293.5 56.2 288.5 57z" fill="#6af573"/>
<path d="M386 58.7 388.1 58.2 394.4 61.3 392.3 61.7z" fill="#4dfc99"/>
<path d="M349.9 56.1 352.1 55.7 358.4 59.6 356.3 60z" fill="#7bf560"/>
<path d="M313.9 53.2 316 52.9 322.4 56.1 320.2 56.4z" fill="#7af561"/>
<path d="M402.9 59.6 405 59.2 411.4 61.9 409.3 62.3z" fill="#55fa8f"/>
<path d="M366.9 57.8 369 57.3 375.4 61.4 373.2 61.8z" fill="#49fd9f"/>
<path d="M330.9 54.9 333 54.6 339.3 58.4 337.2 58.7z" fill="#94f545"/>
<path d="M419.9 60.5 422 60.2 428.3 63.3 426.2 63.4z" fill="#5cf986"/>
<path d="M383.8 59.1 386 58.7 392.3 61.7 390.2 62.3z" fill="#4bfd9c"/>
<path d="M347.8 56.5 349.9 56.1 356.3 60 354.2 60.5z" fill="#77f564"/>
<path d="M308.8 53.9 313.9 53.2 320.2 56.4 315.2 57.3z" fill="#7ef55c"/>
<path d="M400.8 60.1 402.9 59.6 409.3 62.3 407.1 62.7z" fill="#52fb92"/>
<path d="M364.8 58.2 366.9 57.8 373.2 61.8 371.1 62.3z" fill="#47fea1"/>
<path d="M328.7 55.2 330.9 54.9 337.2 58.7 335.1 59.1z" fill="#91f548"/>
<path d="M417.7 60.8 419.9 60.5 426.2 63.4 424.1 63.6z" fill="#59f989"/>
<path d="M381.7 59.6 383.8 59.1 390.2 62.3 388.1 62.8z" fill="#49fd9f"/>
<path d="M345.7 57 347.8 56.5 354.2 60.5 352 60.9z" fill="#73f569"/>
<path d="M303.7 54.7 308.8 53.9 315.2 57.3 310.1 58.4z" fill="#85f555"/>
<path d="M398.7 60.5 400.8 60.1 407.1 62.7 405 63.1z" fill="#50fc95"/>
<path d="M362.6 58.7 364.8 58.2 371.1 62.3 369 62.8z" fill="#46fea3"/>
<path d="M326.6 55.5 328.7 55.2 335.1 59.1 333 59.4z" fill="#8ef54b"/>
<path d="M415.6 61.1 417.7 60.8 424.1 63.6 422 63.9z" fill="#57fa8c"/>
<path d="M379.6 60.2 381.7 59.6 388.1 62.8 385.9 63.4z" fill="#46fea2"/>
<path d="M343.6 57.4 345.7 57 352 60.9 349.9 61.4z" fill="#6ff56d"/>
<path d="M432.6 63 434.7 64 441 66 438.9 65.3z" fill="#5df884"/>
<path d="M298.6 55.5 303.7 54.7 310.1 58.4 305 59.6z" fill="#5df883"/>
<path d="M396.6 60.9 398.7 60.5 405 63.1 402.9 63.6z" fill="#4dfc99"/>
<path d="M360.5 59.1 362.6 58.7 369 62.8 366.9 63.3z" fill="#44ffa5"/>
<path d="M324.5 55.8 326.6 55.5 333 59.4 330.8 59.8z" fill="#8cf54d"/>
<path d="M413.5 61.4 415.6 61.1 422 63.9 419.9 64.1z" fill="#55fa8e"/>
<path d="M377.5 60.8 379.6 60.2 385.9 63.4 383.8 64z" fill="#43ffa6"/>
<path d="M341.4 57.9 343.6 57.4 349.9 61.4 347.8 62z" fill="#6af572"/>
<path d="M430.5 63.1 432.6 63 438.9 65.3 436.8 65.3z" fill="#5cf885"/>
<path d="M293.5 56.2 298.6 55.5 305 59.6 299.9 60.7z" fill="#56fa8d"/>
<path d="M394.4 61.3 396.6 60.9 402.9 63.6 400.8 64z" fill="#4bfd9c"/>
<path d="M358.4 59.6 360.5 59.1 366.9 63.3 364.8 63.7z" fill="#43ffa7"/>
<path d="M322.4 56.1 324.5 55.8 330.8 59.8 328.7 60.1z" fill="#8af550"/>
<path d="M411.4 61.9 413.5 61.4 419.9 64.1 417.7 64.4z" fill="#54fb90"/>
<path d="M375.4 61.4 377.5 60.8 383.8 64 381.7 64.8z" fill="#40ffaa"/>
<path d="M339.3 58.4 341.4 57.9 347.8 62 345.7 62.5z" fill="#47fea1"/>
<path d="M428.3 63.3 430.5 63.1 436.8 65.3 434.7 65.3z" fill="#5af988"/>
<path d="M288.5 57 293.5 56.2 299.9 60.7 294.8 61.8z" fill="#49fd9f"/>
<path d="M392.3 61.7 394.4 61.3 400.8 64 398.7 64.4z" fill="#48fda0"/>
<path d="M356.3 60 358.4 59.6 364.8 63.7 362.6 64.2z" fill="#41ffa9"/>
<path d="M320.2 56.4 322.4 56.1 328.7 60.1 326.6 60.5z" fill="#87f552"/>
<path d="M409.3 62.3 411.4 61.9 417.7 64.4 415.6 64.8z" fill="#52fb93"/>
<path d="M373.2 61.8 375.4 61.4 381.7 64.8 379.6 65.4z" fill="#3effad"/>
<path d="M337.2 58.7 339.3 58.4 345.7 62.5 343.6 62.9z" fill="#46fea3"/>
<path d="M426.2 63.4 428.3 63.3 434.7 65.3 432.6 65.4z" fill="#58fa8b"/>
<path d="M390.2 62.3 392.3 61.7 398.7 64.4 396.5 64.8z" fill="#46fea3"/>
<path d="M354.2 60.5 356.3 60 362.6 64.2 360.5 64.7z" fill="#3fffac"/>
<path d="M315.2 57.3 320.2 56.4 326.6 60.5 321.5 61.8z" fill="#81f559"/>
<path d="M407.1 62.7 409.3 62.3 415.6 64.8 413.5 65.3z" fill="#50fc95"/>
<path d="M371.1 62.3 373.2 61.8 379.6 65.4 377.5 65.9z" fill="#3cffb0"/>
<path d="M335.1 59.1 337.2 58.7 343.6 62.9 341.4 63.4z" fill="#45fea4"/>
<path d="M424.1 63.6 426.2 63.4 432.6 65.4 430.4 65.4z" fill="#56fa8e"/>
<path d="M388.1 62.8 390.2 62.3 396.5 64.8 394.4 65.4z" fill="#44ffa6"/>
<path d="M352 60.9 354.2 60.5 360.5 64.7 358.4 65.1z" fill="#3dffae"/>
<path d="M310.1 58.4 315.2 57.3 321.5 61.8 316.4 63.5z" fill="#76f565"/>
<path d="M405 63.1 407.1 62.7 413.5 65.3 411.4 65.7z" fill="#4efc99"/>
<path d="M369 62.8 371.1 62.3 377.5 65.9 375.3 66.4z" fill="#3affb2"/>
<path d="M333 59.4 335.1 59.1 341.4 63.4 339.3 63.8z" fill="#43ffa6"/>
<path d="M422 63.9 424.1 63.6 430.4 65.4 428.3 65.5z" fill="#54fb90"/>
<path d="M385.9 63.4 388.1 62.8 394.4 65.4 392.3 66.1z" fill="#41ffa9"/>
<path d="M349.9 61.4 352 60.9 358.4 65.1 356.3 65.6z" fill="#3bffb1"/>
<path d="M438.9 65.3 441 66 447.4 67.9 445.3 67.8z" fill="#56fa8d"/>
<path d="M305 59.6 310.1 58.4 316.4 63.5 311.3 65.5z" fill="#41ffaa"/>
<path d="M402.9 63.6 405 63.1 411.4 65.7 409.2 66.1z" fill="#4bfd9c"/>
<path d="M366.9 63.3 369 62.8 375.3 66.4 373.2 66.9z" fill="#39ffb5"/>
<path d="M330.8 59.8 333 59.4 339.3 63.8 337.2 64.2z" fill="#42ffa8"/>
<path d="M419.9 64.1 422 63.9 428.3 65.5 426.2 65.7z" fill="#52fb93"/>
<path d="M383.8 64 385.9 63.4 392.3 66.1 390.2 66.7z" fill="#3effad"/>
<path d="M347.8 62 349.9 61.4 356.3 65.6 354.1 66.2z" fill="#39ffb3"/>
<path d="M436.8 65.3 438.9 65.3 445.3 67.8 443.2 67.7z" fill="#55fa8e"/>
<path d="M299.9 60.7 305 59.6 311.3 65.5 306.2 67.4z" fill="#00ffff"/>
<path d="M400.8 64 402.9 63.6 409.2 66.1 407.1 66.6z" fill="#48fd9f"/>
<path d="M364.8 63.7 366.9 63.3 373.2 66.9 371.1 67.4z" fill="#00ffff"/>
<path d="M328.7 60.1 330.8 59.8 337.2 64.2 335.1 64.6z" fill="#41ffaa"/>
<path d="M417.7 64.4 419.9 64.1 426.2 65.7 424.1 65.9z" fill="#50fc95"/>
<path d="M381.7 64.8 383.8 64 390.2 66.7 388.1 67.6z" fill="#3bffb1"/>
<path d="M345.7 62.5 347.8 62 354.1 66.2 352 66.9z" fill="#00ffff"/>
<path d="M434.7 65.3 436.8 65.3 443.2 67.7 441 67.6z" fill="#53fb91"/>
<path d="M294.8 61.8 299.9 60.7 306.2 67.4 301.2 69.1z" fill="#00ffff"/>
<path d="M398.7 64.4 400.8 64 407.1 66.6 405 67z" fill="#46fea3"/>
<path d="M362.6 64.2 364.8 63.7 371.1 67.4 369 68z" fill="#00ffff"/>
<path d="M326.6 60.5 328.7 60.1 335.1 64.6 332.9 65.1z" fill="#3fffac"/>
<path d="M415.6 64.8 417.7 64.4 424.1 65.9 422 66.2z" fill="#4efc98"/>
<path d="M379.6 65.4 381.7 64.8 388.1 67.6 385.9 68.4z" fill="#00ffff"/>
<path d="M343.6 62.9 345.7 62.5 352 66.9 349.9 67.4z" fill="#00ffff"/>
<path d="M432.6 65.4 434.7 65.3 441 67.6 438.9 67.6z" fill="#52fb93"/>
<path d="M396.5 64.8 398.7 64.4 405 67 402.9 67.4z" fill="#43ffa6"/>
<path d="M360.5 64.7 362.6 64.2 369 68 366.9 68.5z" fill="#00ffff"/>
<path d="M321.5 61.8 326.6 60.5 332.9 65.1 327.9 66.9z" fill="#3bffb2"/>
<path d="M413.5 65.3 415.6 64.8 422 66.2 419.8 66.6z" fill="#4cfc9a"/>
<path d="M377.5 65.9 379.6 65.4 385.9 68.4 383.8 69.2z" fill="#00ffff"/>
<path d="M341.4 63.4 343.6 62.9 349.9 67.4 347.8 67.9z" fill="#00ffff"/>
<path d="M430.4 65.4 432.6 65.4 438.9 67.6 436.8 67.6z" fill="#51fb94"/>
<path d="M394.4 65.4 396.5 64.8 402.9 67.4 400.8 67.9z" fill="#41ffaa"/>
<path d="M358.4 65.1 360.5 64.7 366.9 68.5 364.7 69z" fill="#00ffff"/>
<path d="M316.4 63.5 321.5 61.8 327.9 66.9 322.8 69.7z" fill="#00ffff"/>
<path d="M411.4 65.7 413.5 65.3 419.8 66.6 417.7 67z" fill="#4bfd9c"/>
<path d="M375.3 66.4 377.5 65.9 383.8 69.2 381.7 69.8z" fill="#00ffff"/>
<path d="M339.3 63.8 341.4 63.4 347.8 67.9 345.7 68.4z" fill="#00ffff"/>
<path d="M428.3 65.5 430.4 65.4 436.8 67.6 434.7 67.6z" fill="#50fc96"/>
<path d="M392.3 66.1 394.4 65.4 400.8 67.9 398.6 68.5z" fill="#3effae"/>
<path d="M356.3 65.6 358.4 65.1 364.7 69 362.6 69.5z" fill="#00ffff"/>
<path d="M311.3 65.5 316.4 63.5 322.8 69.7 317.7 73z" fill="#00ffff"/>
<path d="M409.2 66.1 411.4 65.7 417.7 67 415.6 67.5z" fill="#49fd9e"/>
<path d="M373.2 66.9 375.3 66.4 381.7 69.8 379.6 70.4z" fill="#00ffff"/>
<path d="M337.2 64.2 339.3 63.8 345.7 68.4 343.5 68.9z" fill="#00ffff"/>
<path d="M426.2 65.7 428.3 65.5 434.7 67.6 432.6 67.6z" fill="#4efc97"/>
<path d="M390.2 66.7 392.3 66.1 398.6 68.5 396.5 69.2z" fill="#3bffb2"/>
<path d="M354.1 66.2 356.3 65.6 362.6 69.5 360.5 70.1z" fill="#00ffff"/>
<path d="M306.2 67.4 311.3 65.5 317.7 73 312.6 76.4z" fill="#00ffff"/>
<path d="M407.1 66.6 409.2 66.1 415.6 67.5 413.5 67.9z" fill="#48fea0"/>
<path d="M371.1 67.4 373.2 66.9 379.6 70.4 377.4 70.9z" fill="#00ffff"/>
<path d="M335.1 64.6 337.2 64.2 343.5 68.9 341.4 69.4z" fill="#00ffff"/>
<path d="M424.1 65.9 426.2 65.7 432.6 67.6 430.4 67.8z" fill="#4dfc9a"/>
<path d="M388.1 67.6 390.2 66.7 396.5 69.2 394.4 69.9z" fill="#00ffff"/>
<path d="M352 66.9 354.1 66.2 360.5 70.1 358.4 70.8z" fill="#00ffff"/>
<path d="M301.2 69.1 306.2 67.4 312.6 76.4 307.5 79.2z" fill="#00ffff"/>
<path d="M405 67 407.1 66.6 413.5 67.9 411.4 68.4z" fill="#45fea4"/>
<path d="M369 68 371.1 67.4 377.4 70.9 375.3 71.5z" fill="#00ffff"/>
<path d="M332.9 65.1 335.1 64.6 341.4 69.4 339.3 69.9z" fill="#00ffff"/>
<path d="M422 66.2 424.1 65.9 430.4 67.8 428.3 68z" fill="#4bfd9c"/>
<path d="M385.9 68.4 388.1 67.6 394.4 69.9 392.3 70.9z" fill="#00ffff"/>
<path d="M349.9 67.4 352 66.9 358.4 70.8 356.3 71.5z" fill="#00ffff"/>
<path d="M402.9 67.4 405 67 411.4 68.4 409.2 68.8z" fill="#42ffa7"/>
<path d="M366.9 68.5 369 68 375.3 71.5 373.2 72.1z" fill="#00ffff"/>
<path d="M327.9 66.9 332.9 65.1 339.3 69.9 334.2 72.1z" fill="#00ffff"/>
<path d="M419.8 66.6 422 66.2 428.3 68 426.2 68.2z" fill="#49fd9e"/>
<path d="M383.8 69.2 385.9 68.4 392.3 70.9 390.2 72z" fill="#00ffff"/>
<path d="M347.8 67.9 349.9 67.4 356.3 71.5 354.1 72.1z" fill="#00ffff"/>
<path d="M400.8 67.9 402.9 67.4 409.2 68.8 407.1 69.2z" fill="#40ffab"/>
<path d="M364.7 69 366.9 68.5 373.2 72.1 371.1 72.7z" fill="#00ffff"/>
<path d="M322.8 69.7 327.9 66.9 334.2 72.1 329.1 75.8z" fill="#00ffff"/>
<path d="M417.7 67 419.8 66.6 426.2 68.2 424.1 68.6z" fill="#48fea0"/>
<path d="M381.7 69.8 383.8 69.2 390.2 72 388 72.8z" fill="#00ffff"/>
<path d="M345.7 68.4 347.8 67.9 354.1 72.1 352 72.7z" fill="#00ffff"/>
<path d="M398.6 68.5 400.8 67.9 407.1 69.2 405 69.7z" fill="#3dffaf"/>
<path d="M362.6 69.5 364.7 69 371.1 72.7 369 73.2z" fill="#00ffff"/>
<path d="M317.7 73 322.8 69.7 329.1 75.8 324 80.6z" fill="#00ffff"/>
<path d="M415.6 67.5 417.7 67 424.1 68.6 421.9 69z" fill="#46fea3"/>
<path d="M379.6 70.4 381.7 69.8 388 72.8 385.9 73.4z" fill="#00ffff"/>
<path d="M343.5 68.9 345.7 68.4 352 72.7 349.9 73.3z" fill="#00ffff"/>
<path d="M396.5 69.2 398.6 68.5 405 69.7 402.9 70.4z" fill="#3affb3"/>
<path d="M360.5 70.1 362.6 69.5 369 73.2 366.8 73.9z" fill="#00ffff"/>
<path d="M312.6 76.4 317.7 73 324 80.6 318.9 85.5z" fill="#00ffff"/>
<path d="M413.5 67.9 415.6 67.5 421.9 69 419.8 69.5z" fill="#44fea5"/>
<path d="M377.4 70.9 379.6 70.4 385.9 73.4 383.8 74.1z" fill="#00ffff"/>
<path d="M341.4 69.4 343.5 68.9 349.9 73.3 347.8 74z" fill="#00ffff"/>
<path d="M394.4 69.9 396.5 69.2 402.9 70.4 400.8 71.2z" fill="#00ffff"/>
<path d="M358.4 70.8 360.5 70.1 366.8 73.9 364.7 74.7z" fill="#00ffff"/>
<path d="M307.5 79.2 312.6 76.4 318.9 85.5 313.9 89.4z" fill="#00ffff"/>
<path d="M411.4 68.4 413.5 67.9 419.8 69.5 417.7 69.9z" fill="#43ffa7"/>
<path d="M375.3 71.5 377.4 70.9 383.8 74.1 381.7 74.7z" fill="#00ffff"/>
<path d="M339.3 69.9 341.4 69.4 347.8 74 345.7 74.6z" fill="#00ffff"/>
<path d="M392.3 70.9 394.4 69.9 400.8 71.2 398.6 72z" fill="#00ffff"/>
<path d="M356.3 71.5 358.4 70.8 364.7 74.7 362.6 75.5z" fill="#00ffff"/>
<path d="M409.2 68.8 411.4 68.4 417.7 69.9 415.6 70.4z" fill="#42ffa9"/>
<path d="M373.2 72.1 375.3 71.5 381.7 74.7 379.6 75.3z" fill="#00ffff"/>
<path d="M334.2 72.1 339.3 69.9 345.7 74.6 340.6 77.4z" fill="#00ffff"/>
<path d="M390.2 72 392.3 70.9 398.6 72 396.5 73.2z" fill="#00ffff"/>
<path d="M354.1 72.1 356.3 71.5 362.6 75.5 360.5 76.3z" fill="#00ffff"/>
<path d="M407.1 69.2 409.2 68.8 415.6 70.4 413.5 70.8z" fill="#40ffaa"/>
<path d="M371.1 72.7 373.2 72.1 379.6 75.3 377.4 75.9z" fill="#00ffff"/>
<path d="M329.1 75.8 334.2 72.1 340.6 77.4 335.5 82.5z" fill="#00ffff"/>
<path d="M388 72.8 390.2 72 396.5 73.2 394.4 74.4z" fill="#00ffff"/>
<path d="M352 72.7 354.1 72.1 360.5 76.3 358.4 77.2z" fill="#00ffff"/>
<path d="M405 69.7 407.1 69.2 413.5 70.8 411.3 71.3z" fill="#3effae"/>
<path d="M369 73.2 371.1 72.7 377.4 75.9 375.3 76.6z" fill="#00ffff"/>
<path d="M324 80.6 329.1 75.8 335.5 82.5 330.4 89.7z" fill="#00ffff"/>
<path d="M385.9 73.4 388 72.8 394.4 74.4 392.3 75.2z" fill="#00ffff"/>
<path d="M349.9 73.3 352 72.7 358.4 77.2 356.2 78z" fill="#00ffff"/>
<path d="M402.9 70.4 405 69.7 411.3 71.3 409.2 71.7z" fill="#3bffb2"/>
<path d="M366.8 73.9 369 73.2 375.3 76.6 373.2 77.2z" fill="#00ffff"/>
<path d="M318.9 85.5 324 80.6 330.4 89.7 325.3 97z" fill="#00ffff"/>
<path d="M383.8 74.1 385.9 73.4 392.3 75.2 390.1 75.9z" fill="#00ffff"/>
<path d="M347.8 74 349.9 73.3 356.2 78 354.1 78.8z" fill="#00ffff"/>
<path d="M400.8 71.2 402.9 70.4 409.2 71.7 407.1 72.5z" fill="#00ffff"/>
<path d="M364.7 74.7 366.8 73.9 373.2 77.2 371.1 78z" fill="#00ffff"/>
<path d="M313.9 89.4 318.9 85.5 325.3 97 320.2 103z" fill="#00ffff"/>
<path d="M381.7 74.7 383.8 74.1 390.1 75.9 388 76.6z" fill="#00ffff"/>
<path d="M345.7 74.6 347.8 74 354.1 78.8 352 79.7z" fill="#00ffff"/>
<path d="M398.6 72 400.8 71.2 407.1 72.5 405 73.4z" fill="#00ffff"/>
<path d="M362.6 75.5 364.7 74.7 371.1 78 369 78.9z" fill="#00ffff"/>
<path d="M379.6 75.3 381.7 74.7 388 76.6 385.9 77.3z" fill="#00ffff"/>
<path d="M340.6 77.4 345.7 74.6 352 79.7 346.9 83.3z" fill="#00ffff"/>
<path d="M396.5 73.2 398.6 72 405 73.4 402.9 74.2z" fill="#00ffff"/>
<path d="M360.5 76.3 362.6 75.5 369 78.9 366.8 79.9z" fill="#00ffff"/>
<path d="M377.4 75.9 379.6 75.3 385.9 77.3 383.8 78z" fill="#00ffff"/>
<path d="M335.5 82.5 340.6 77.4 346.9 83.3 341.8 90.4z" fill="#00ffff"/>
<path d="M394.4 74.4 396.5 73.2 402.9 74.2 400.7 75.6z" fill="#00ffff"/>
<path d="M358.4 77.2 360.5 76.3 366.8 79.9 364.7 80.9z" fill="#00ffff"/>
<path d="M375.3 76.6 377.4 75.9 383.8 78 381.7 78.7z" fill="#00ffff"/>
<path d="M330.4 89.7 335.5 82.5 341.8 90.4 336.7 101.3z" fill="#00ffff"/>
<path d="M392.3 75.2 394.4 74.4 400.7 75.6 398.6 76.8z" fill="#00ffff"/>
<path d="M356.2 78 358.4 77.2 364.7 80.9 362.6 82z" fill="#00ffff"/>
<path d="M373.2 77.2 375.3 76.6 381.7 78.7 379.5 79.4z" fill="#00ffff"/>
<path d="M325.3 97 330.4 89.7 336.7 101.3 331.6 112.8z" fill="#00ffff"/>
<path d="M390.1 75.9 392.3 75.2 398.6 76.8 396.5 77.6z" fill="#00ffff"/>
<path d="M354.1 78.8 356.2 78 362.6 82 360.5 82.9z" fill="#00ffff"/>
<path d="M371.1 78 373.2 77.2 379.5 79.4 377.4 80.1z" fill="#00ffff"/>
<path d="M320.2 103 325.3 97 331.6 112.8 326.6 121.8z" fill="#00ffff"/>
<path d="M388 76.6 390.1 75.9 396.5 77.6 394.4 78.4z" fill="#00ffff"/>
<path d="M352 79.7 354.1 78.8 360.5 82.9 358.4 84z" fill="#00ffff"/>
<path d="M369 78.9 371.1 78 377.4 80.1 375.3 81z" fill="#00ffff"/>
<path d="M385.9 77.3 388 76.6 394.4 78.4 392.3 79.1z" fill="#00ffff"/>
<path d="M346.9 83.3 352 79.7 358.4 84 353.3 87.7z" fill="#00ffff"/>
<path d="M366.8 79.9 369 78.9 375.3 81 373.2 82.2z" fill="#00ffff"/>
<path d="M383.8 78 385.9 77.3 392.3 79.1 390.1 79.8z" fill="#00ffff"/>
<path d="M341.8 90.4 346.9 83.3 353.3 87.7 348.2 96.2z" fill="#00ffff"/>
<path d="M364.7 80.9 366.8 79.9 373.2 82.2 371.1 83.4z" fill="#00ffff"/>
<path d="M381.7 78.7 383.8 78 390.1 79.8 388 80.5z" fill="#00ffff"/>
<path d="M336.7 101.3 341.8 90.4 348.2 96.2 343.1 110.1z" fill="#00ffff"/>
<path d="M362.6 82 364.7 80.9 371.1 83.4 368.9 84.6z" fill="#00ffff"/>
<path d="M379.5 79.4 381.7 78.7 388 80.5 385.9 81.3z" fill="#00ffff"/>
<path d="M331.6 112.8 336.7 101.3 343.1 110.1 338 125z" fill="#00ffff"/>
<path d="M360.5 82.9 362.6 82 368.9 84.6 366.8 85.8z" fill="#00ffff"/>
<path d="M377.4 80.1 379.5 79.4 385.9 81.3 383.8 82z" fill="#00ffff"/>
<path d="M326.6 121.8 331.6 112.8 338 125 332.9 136.7z" fill="#00ffff"/>
<path d="M358.4 84 360.5 82.9 366.8 85.8 364.7 87z" fill="#00ffff"/>
<path d="M375.3 81 377.4 80.1 383.8 82 381.7 82.7z" fill="#00ffff"/>
<path d="M353.3 87.7 358.4 84 364.7 87 359.6 90.9z" fill="#00ffff"/>
<path d="M373.2 82.2 375.3 81 381.7 82.7 379.5 83.9z" fill="#00ffff"/>
<path d="M348.2 96.2 353.3 87.7 359.6 90.9 354.5 100.6z" fill="#00ffff"/>
<path d="M371.1 83.4 373.2 82.2 379.5 83.9 377.4 85.2z" fill="#00ffff"/>
<path d="M343.1 110.1 348.2 96.2 354.5 100.6 349.4 118z" fill="#00ffff"/>
<path d="M368.9 84.6 371.1 83.4 377.4 85.2 375.3 86.6z" fill="#00ffff"/>
<path d="M338 125 343.1 110.1 349.4 118 344.3 136.9z" fill="#00ffff"/>
<path d="M366.8 85.8 368.9 84.6 375.3 86.6 373.2 87.9z" fill="#00ffff"/>
<path d="M332.9 136.7 338 125 344.3 136.9 339.2 151.5z" fill="#00ffff"/>
<path d="M364.7 87 366.8 85.8 373.2 87.9 371.1 89.1z" fill="#00ffff"/>
<path d="M359.6 90.9 364.7 87 371.1 89.1 366 92.5z" fill="#00ffff"/>
<path d="M354.5 100.6 359.6 90.9 366 92.5 360.9 102.6z" fill="#00ffff"/>
<path d="M349.4 118 354.5 100.6 360.9 102.6 355.8 121.8z" fill="#00ffff"/>
<path d="M344.3 136.9 349.4 118 355.8 121.8 350.7 143z" fill="#00ffff"/>
<path d="M339.2 151.5 344.3 136.9 350.7 143 345.6 159.3z" fill="#00ffff"/>
</g>
<path d="M380 49.2 395 52 410.6 55.3 431 62.5 447 67.4" fill="none" stroke="#000" stroke-opacity="0.7" stroke-width="0.6" stroke-linecap="round"/>
<path d="M380 51.2 395 54.5 410.6 57.9 425 62 441 66 447 67.4" fill="none" stroke="#000" stroke-opacity="0.7" stroke-width="0.6" stroke-linecap="round"/>
<path d="M390.2 54.3 405 59 420.9 63.5 435 66.5 447 67.4" fill="none" stroke="#000" stroke-opacity="0.7" stroke-width="0.5" stroke-linecap="round"/>
<g transform="translate(368 95.7) rotate(34.2)"><path d="M0 0L4 -3.1L4 -1.5L9.4 -1.5L9.4 1.5L4 1.5L4 3.1z" fill="#000"/></g>
<text x="237.8" y="7" class="lt">B</text>
<text x="357.9" y="17" text-anchor="middle" class="tt" textLength="42.5" lengthAdjust="spacingAndGlyphs">DMEM/F12</text>
<text x="357.6" y="27.7" text-anchor="middle" class="tt" textLength="43.4" lengthAdjust="spacingAndGlyphs">60,000 cells</text>
<path d="M496.5 38.8V125.3L576 164.2L679.7 134.7" fill="none" stroke="#444" stroke-width="0.65"/>
<text transform="translate(492.2 40.3) scale(0.85 1)" text-anchor="end" class="tl">0.1</text>
<text transform="translate(492.2 51.2) scale(0.85 1)" text-anchor="end" class="tl">0.05</text>
<text transform="translate(492.2 62) scale(0.85 1)" text-anchor="end" class="tl">0</text>
<text transform="translate(492.2 72.8) scale(0.85 1)" text-anchor="end" class="tl">-0.05</text>
<text transform="translate(492.2 83.6) scale(0.85 1)" text-anchor="end" class="tl">-0.1</text>
<text transform="translate(492.2 94.4) scale(0.85 1)" text-anchor="end" class="tl">-0.15</text>
<text transform="translate(492.2 105.2) scale(0.85 1)" text-anchor="end" class="tl">-0.2</text>
<text transform="translate(492.2 116) scale(0.85 1)" text-anchor="end" class="tl">-0.25</text>
<text transform="translate(492.2 126.8) scale(0.85 1)" text-anchor="end" class="tl">-0.3</text>
<path d="M496.5 38.8h-1.5 M496.5 49.6h-1.5 M496.5 60.4h-1.5 M496.5 71.2h-1.5 M496.5 82h-1.5 M496.5 92.9h-1.5 M496.5 103.7h-1.5 M496.5 114.5h-1.5 M496.5 125.3h-1.5" stroke="#333" stroke-width="0.4"/>
<path d="M506.4 130.2l1.5 -0.4 M516.4 135l1.5 -0.4 M526.3 139.9l1.5 -0.4 M536.2 144.8l1.5 -0.4 M546.2 149.6l1.5 -0.4 M556.1 154.5l1.5 -0.4 M566.1 159.3l1.5 -0.4 M589 160.5l-1.4 -0.7 M601.9 156.8l-1.4 -0.7 M614.9 153.1l-1.4 -0.7 M627.9 149.4l-1.4 -0.7 M640.8 145.8l-1.4 -0.7 M653.8 142.1l-1.4 -0.7 M666.7 138.4l-1.4 -0.7" stroke="#333" stroke-width="0.4"/>
<text transform="translate(490.9 131) scale(0.85 1)" text-anchor="middle" class="tl">2</text>
<text transform="translate(502.7 137.6) scale(0.85 1)" text-anchor="middle" class="tl">2.5</text>
<text transform="translate(517.8 143.8) scale(0.85 1)" text-anchor="middle" class="tl">3</text>
<text transform="translate(529.6 150.6) scale(0.85 1)" text-anchor="middle" class="tl">3.5</text>
<text transform="translate(543.6 156.9) scale(0.85 1)" text-anchor="middle" class="tl">4</text>
<text transform="translate(555.4 163.7) scale(0.85 1)" text-anchor="middle" class="tl">4.5</text>
<text transform="translate(571.3 169.9) scale(0.85 1)" text-anchor="middle" class="tl">6</text>
<text transform="translate(581.3 170.7) scale(0.85 1)" text-anchor="middle" class="tl">-14</text>
<text transform="translate(594.6 166.4) scale(0.85 1)" text-anchor="middle" class="tl">-12</text>
<text transform="translate(607.7 163.2) scale(0.85 1)" text-anchor="middle" class="tl">-10</text>
<text transform="translate(619.7 159.4) scale(0.85 1)" text-anchor="middle" class="tl">-8</text>
<text transform="translate(632.8 155.6) scale(0.85 1)" text-anchor="middle" class="tl">-6</text>
<text transform="translate(645.3 152.1) scale(0.85 1)" text-anchor="middle" class="tl">-4</text>
<text transform="translate(658.4 148.1) scale(0.85 1)" text-anchor="middle" class="tl">-2</text>
<text transform="translate(670.4 144.2) scale(0.85 1)" text-anchor="middle" class="tl">0</text>
<text transform="translate(683 140.6) scale(0.85 1)" text-anchor="middle" class="tl">2</text>
<text x="516.5" y="172.2" text-anchor="middle" class="al">Log. Frequency (Hz)</text>
<text x="631" y="173.8" text-anchor="middle" class="al">Time (hrs)</text>
<text transform="translate(481.4 82.7) rotate(-90)" text-anchor="middle" class="al">Log. Norm. Impedance</text>
<g stroke="#000" stroke-width="0.28" stroke-linejoin="round">
<path d="M607 37.7 609.2 37.4 615.5 39.9 613.4 40.3z" fill="#6af573"/>
<path d="M604.9 38.1 607 37.7 613.4 40.3 611.2 40.7z" fill="#6af573"/>
<path d="M602.7 38.4 604.9 38.1 611.2 40.7 609.1 41z" fill="#6af573"/>
<path d="M600.6 38.7 602.7 38.4 609.1 41 606.9 41.3z" fill="#6af573"/>
<path d="M598.4 39.1 600.6 38.7 606.9 41.3 604.7 41.7z" fill="#6af573"/>
<path d="M596.2 39.4 598.4 39.1 604.7 41.7 602.6 42z" fill="#6af573"/>
<path d="M613.4 40.3 615.5 39.9 621.9 42.8 619.7 43.2z" fill="#6af573"/>
<path d="M594.1 39.8 596.2 39.4 602.6 42 600.4 42.4z" fill="#6af573"/>
<path d="M611.2 40.7 613.4 40.3 619.7 43.2 617.6 43.6z" fill="#6af573"/>
<path d="M591.9 40.2 594.1 39.8 600.4 42.4 598.2 42.9z" fill="#6af573"/>
<path d="M609.1 41 611.2 40.7 617.6 43.6 615.4 43.9z" fill="#6af573"/>
<path d="M589.7 40.7 591.9 40.2 598.2 42.9 596.1 43.3z" fill="#6af573"/>
<path d="M606.9 41.3 609.1 41 615.4 43.9 613.2 44.3z" fill="#6af573"/>
<path d="M587.6 41.1 589.7 40.7 596.1 43.3 593.9 43.8z" fill="#6af573"/>
<path d="M604.7 41.7 606.9 41.3 613.2 44.3 611.1 44.6z" fill="#6af573"/>
<path d="M585.4 41.6 587.6 41.1 593.9 43.8 591.8 44.2z" fill="#6af573"/>
<path d="M602.6 42 604.7 41.7 611.1 44.6 608.9 45z" fill="#6af573"/>
<path d="M583.3 41.8 585.4 41.6 591.8 44.2 589.6 44.5z" fill="#6af573"/>
<path d="M619.7 43.2 621.9 42.8 628.2 46 626.1 46.4z" fill="#6af573"/>
<path d="M600.4 42.4 602.6 42 608.9 45 606.7 45.4z" fill="#6af573"/>
<path d="M581.1 42.1 583.3 41.8 589.6 44.5 587.4 44.8z" fill="#6af573"/>
<path d="M617.6 43.6 619.7 43.2 626.1 46.4 623.9 46.8z" fill="#6af573"/>
<path d="M598.2 42.9 600.4 42.4 606.7 45.4 604.6 45.8z" fill="#6af573"/>
<path d="M578.9 42.3 581.1 42.1 587.4 44.8 585.3 45z" fill="#6af573"/>
<path d="M615.4 43.9 617.6 43.6 623.9 46.8 621.7 47.2z" fill="#6af573"/>
<path d="M596.1 43.3 598.2 42.9 604.6 45.8 602.4 46.3z" fill="#6af573"/>
<path d="M576.8 42.5 578.9 42.3 585.3 45 583.1 45.2z" fill="#6af573"/>
<path d="M613.2 44.3 615.4 43.9 621.7 47.2 619.6 47.6z" fill="#6af573"/>
<path d="M593.9 43.8 596.1 43.3 602.4 46.3 600.3 46.8z" fill="#6af573"/>
<path d="M574.6 42.5 576.8 42.5 583.1 45.2 581 45.2z" fill="#6af573"/>
<path d="M611.1 44.6 613.2 44.3 619.6 47.6 617.4 48z" fill="#6af573"/>
<path d="M591.8 44.2 593.9 43.8 600.3 46.8 598.1 47.2z" fill="#6af573"/>
<path d="M572.5 42.5 574.6 42.5 581 45.2 578.8 45.3z" fill="#6af573"/>
<path d="M608.9 45 611.1 44.6 617.4 48 615.3 48.3z" fill="#6af573"/>
<path d="M589.6 44.5 591.8 44.2 598.1 47.2 595.9 47.5z" fill="#6af573"/>
<path d="M626.1 46.4 628.2 46 634.6 49.3 632.4 49.8z" fill="#6af573"/>
<path d="M570.3 42.5 572.5 42.5 578.8 45.3 576.6 45.3z" fill="#6df56f"/>
<path d="M606.7 45.4 608.9 45 615.3 48.3 613.1 48.7z" fill="#6af573"/>
<path d="M587.4 44.8 589.6 44.5 595.9 47.5 593.8 47.8z" fill="#6af573"/>
<path d="M623.9 46.8 626.1 46.4 632.4 49.8 630.2 50.3z" fill="#6af573"/>
<path d="M568.1 42.4 570.3 42.5 576.6 45.3 574.5 45.2z" fill="#72f56a"/>
<path d="M604.6 45.8 606.7 45.4 613.1 48.7 610.9 49.2z" fill="#6af573"/>
<path d="M585.3 45 587.4 44.8 593.8 47.8 591.6 48.1z" fill="#6af573"/>
<path d="M621.7 47.2 623.9 46.8 630.2 50.3 628.1 50.7z" fill="#6af573"/>
<path d="M566 42.1 568.1 42.4 574.5 45.2 572.3 44.9z" fill="#75f566"/>
<path d="M602.4 46.3 604.6 45.8 610.9 49.2 608.8 49.7z" fill="#6af573"/>
<path d="M583.1 45.2 585.3 45 591.6 48.1 589.5 48.3z" fill="#6af573"/>
<path d="M619.6 47.6 621.7 47.2 628.1 50.7 625.9 51.1z" fill="#6af573"/>
<path d="M563.8 41.8 566 42.1 572.3 44.9 570.1 44.6z" fill="#78f563"/>
<path d="M600.3 46.8 602.4 46.3 608.8 49.7 606.6 50.2z" fill="#6af573"/>
<path d="M581 45.2 583.1 45.2 589.5 48.3 587.3 48.3z" fill="#71f56b"/>
<path d="M617.4 48 619.6 47.6 625.9 51.1 623.8 51.5z" fill="#6af573"/>
<path d="M561.6 41.5 563.8 41.8 570.1 44.6 568 44.4z" fill="#76f566"/>
<path d="M598.1 47.2 600.3 46.8 606.6 50.2 604.4 50.7z" fill="#6af573"/>
<path d="M578.8 45.3 581 45.2 587.3 48.3 585.1 48.4z" fill="#77f564"/>
<path d="M615.3 48.3 617.4 48 623.8 51.5 621.6 51.9z" fill="#6af573"/>
<path d="M559.5 41.2 561.6 41.5 568 44.4 565.8 44.2z" fill="#74f568"/>
<path d="M595.9 47.5 598.1 47.2 604.4 50.7 602.3 51z" fill="#6af573"/>
<path d="M632.4 49.8 634.6 49.3 640.9 52.8 638.7 53.4z" fill="#6af573"/>
<path d="M576.6 45.3 578.8 45.3 585.1 48.4 583 48.4z" fill="#7df55e"/>
<path d="M613.1 48.7 615.3 48.3 621.6 51.9 619.4 52.3z" fill="#6af573"/>
<path d="M557.3 41.3 559.5 41.2 565.8 44.2 563.7 44.3z" fill="#74f567"/>
<path d="M593.8 47.8 595.9 47.5 602.3 51 600.1 51.3z" fill="#6af573"/>
<path d="M630.2 50.3 632.4 49.8 638.7 53.4 636.6 53.9z" fill="#6af573"/>
<path d="M574.5 45.2 576.6 45.3 583 48.4 580.8 48.3z" fill="#82f559"/>
<path d="M610.9 49.2 613.1 48.7 619.4 52.3 617.3 52.8z" fill="#6af573"/>
<path d="M555.2 41.5 557.3 41.3 563.7 44.3 561.5 44.5z" fill="#77f565"/>
<path d="M591.6 48.1 593.8 47.8 600.1 51.3 598 51.6z" fill="#6df56f"/>
<path d="M628.1 50.7 630.2 50.3 636.6 53.9 634.4 54.4z" fill="#6af573"/>
<path d="M572.3 44.9 574.5 45.2 580.8 48.3 578.6 48.1z" fill="#85f555"/>
<path d="M608.8 49.7 610.9 49.2 617.3 52.8 615.1 53.3z" fill="#6af573"/>
<path d="M553 41.6 555.2 41.5 561.5 44.5 559.3 44.7z" fill="#79f562"/>
<path d="M589.5 48.3 591.6 48.1 598 51.6 595.8 51.8z" fill="#77f564"/>
<path d="M625.9 51.1 628.1 50.7 634.4 54.4 632.3 54.9z" fill="#6af573"/>
<path d="M570.1 44.6 572.3 44.9 578.6 48.1 576.5 47.9z" fill="#88f552"/>
<path d="M606.6 50.2 608.8 49.7 615.1 53.3 612.9 53.8z" fill="#6af573"/>
<path d="M550.8 42 553 41.6 559.3 44.7 557.2 45z" fill="#7df55e"/>
<path d="M587.3 48.3 589.5 48.3 595.8 51.8 593.6 51.9z" fill="#80f55b"/>
<path d="M623.8 51.5 625.9 51.1 632.3 54.9 630.1 55.3z" fill="#6af573"/>
<path d="M568 44.4 570.1 44.6 576.5 47.9 574.3 47.6z" fill="#8bf54f"/>
<path d="M604.4 50.7 606.6 50.2 612.9 53.8 610.8 54.3z" fill="#6af573"/>
<path d="M548.7 42.3 550.8 42 557.2 45 555 45.4z" fill="#7ef55c"/>
<path d="M585.1 48.4 587.3 48.3 593.6 51.9 591.5 52z" fill="#87f552"/>
<path d="M621.6 51.9 623.8 51.5 630.1 55.3 627.9 55.7z" fill="#6af573"/>
<path d="M565.8 44.2 568 44.4 574.3 47.6 572.2 47.4z" fill="#8ef54c"/>
<path d="M602.3 51 604.4 50.7 610.8 54.3 608.6 54.7z" fill="#6af573"/>
<path d="M638.7 53.4 640.9 52.8 647.2 56.3 645.1 56.9z" fill="#6af573"/>
<path d="M546.5 42.6 548.7 42.3 555 45.4 552.9 45.7z" fill="#80f55b"/>
<path d="M583 48.4 585.1 48.4 591.5 52 589.3 52.1z" fill="#8ff54a"/>
<path d="M619.4 52.3 621.6 51.9 627.9 55.7 625.8 56.2z" fill="#6af573"/>
<path d="M563.7 44.3 565.8 44.2 572.2 47.4 570 47.6z" fill="#93f546"/>
<path d="M600.1 51.3 602.3 51 608.6 54.7 606.5 55z" fill="#6af573"/>
<path d="M636.6 53.9 638.7 53.4 645.1 56.9 642.9 57.5z" fill="#6af573"/>
<path d="M544.4 43 546.5 42.6 552.9 45.7 550.7 46.1z" fill="#81f559"/>
<path d="M580.8 48.3 583 48.4 589.3 52.1 587.2 52.1z" fill="#91f547"/>
<path d="M617.3 52.8 619.4 52.3 625.8 56.2 623.6 56.7z" fill="#6af573"/>
<path d="M561.5 44.5 563.7 44.3 570 47.6 567.8 47.8z" fill="#92f547"/>
<path d="M598 51.6 600.1 51.3 606.5 55 604.3 55.4z" fill="#6af573"/>
<path d="M634.4 54.4 636.6 53.9 642.9 57.5 640.8 58.1z" fill="#6af573"/>
<path d="M542.2 43.3 544.4 43 550.7 46.1 548.5 46.4z" fill="#82f558"/>
<path d="M578.6 48.1 580.8 48.3 587.2 52.1 585 51.9z" fill="#8df54c"/>
<path d="M615.1 53.3 617.3 52.8 623.6 56.7 621.4 57.2z" fill="#6af573"/>
<path d="M559.3 44.7 561.5 44.5 567.8 47.8 565.7 48z" fill="#8ff54a"/>
<path d="M595.8 51.8 598 51.6 604.3 55.4 602.1 55.7z" fill="#6af573"/>
<path d="M632.3 54.9 634.4 54.4 640.8 58.1 638.6 58.6z" fill="#6af573"/>
<path d="M540 43.6 542.2 43.3 548.5 46.4 546.4 46.8z" fill="#84f556"/>
<path d="M576.5 47.9 578.6 48.1 585 51.9 582.8 51.8z" fill="#8af54f"/>
<path d="M612.9 53.8 615.1 53.3 621.4 57.2 619.3 57.7z" fill="#6af573"/>
<path d="M557.2 45 559.3 44.7 565.7 48 563.5 48.4z" fill="#8bf54e"/>
<path d="M593.6 51.9 595.8 51.8 602.1 55.7 600 55.8z" fill="#92f546"/>
<path d="M630.1 55.3 632.3 54.9 638.6 58.6 636.4 59z" fill="#6af573"/>
<path d="M537.9 44 540 43.6 546.4 46.8 544.2 47.2z" fill="#85f555"/>
<path d="M574.3 47.6 576.5 47.9 582.8 51.8 580.7 51.6z" fill="#87f553"/>
<path d="M610.8 54.3 612.9 53.8 619.3 57.7 617.1 58.3z" fill="#6af573"/>
<path d="M555 45.4 557.2 45 563.5 48.4 561.4 48.8z" fill="#87f553"/>
<path d="M591.5 52 593.6 51.9 600 55.8 597.8 56z" fill="#8df54c"/>
<path d="M627.9 55.7 630.1 55.3 636.4 59 634.3 59.5z" fill="#6af573"/>
<path d="M534.5 44.7 537.9 44 544.2 47.2 540.8 47.9z" fill="#6af573"/>
<path d="M572.2 47.4 574.3 47.6 580.7 51.6 578.5 51.5z" fill="#83f557"/>
<path d="M608.6 54.7 610.8 54.3 617.1 58.3 615 58.7z" fill="#6af573"/>
<path d="M645.1 56.9 647.2 56.3 653.6 59.8 651.4 60.4z" fill="#6af573"/>
<path d="M552.9 45.7 555 45.4 561.4 48.8 559.2 49.2z" fill="#82f558"/>
<path d="M589.3 52.1 591.5 52 597.8 56 595.7 56.2z" fill="#85f555"/>
<path d="M625.8 56.2 627.9 55.7 634.3 59.5 632.1 60z" fill="#6af573"/>
<path d="M531.1 45.4 534.5 44.7 540.8 47.9 537.4 48.7z" fill="#6af573"/>
<path d="M570 47.6 572.2 47.4 578.5 51.5 576.3 51.8z" fill="#7df55d"/>
<path d="M606.5 55 608.6 54.7 615 58.7 612.8 59.1z" fill="#6af573"/>
<path d="M642.9 57.5 645.1 56.9 651.4 60.4 649.3 61.1z" fill="#6af573"/>
<path d="M550.7 46.1 552.9 45.7 559.2 49.2 557 49.5z" fill="#7df55d"/>
<path d="M587.2 52.1 589.3 52.1 595.7 56.2 593.5 56.2z" fill="#7df55e"/>
<path d="M623.6 56.7 625.8 56.2 632.1 60 629.9 60.5z" fill="#6af573"/>
<path d="M527.7 46.2 531.1 45.4 537.4 48.7 534 49.5z" fill="#6af573"/>
<path d="M567.8 47.8 570 47.6 576.3 51.8 574.2 52.1z" fill="#75f566"/>
<path d="M604.3 55.4 606.5 55 612.8 59.1 610.6 59.5z" fill="#6af573"/>
<path d="M640.8 58.1 642.9 57.5 649.3 61.1 647.1 61.8z" fill="#6af573"/>
<path d="M548.5 46.4 550.7 46.1 557 49.5 554.9 49.9z" fill="#7cf55f"/>
<path d="M585 51.9 587.2 52.1 593.5 56.2 591.3 56.1z" fill="#76f565"/>
<path d="M621.4 57.2 623.6 56.7 629.9 60.5 627.8 61z" fill="#6af573"/>
<path d="M524.3 47 527.7 46.2 534 49.5 530.6 50.5z" fill="#6af573"/>
<path d="M565.7 48 567.8 47.8 574.2 52.1 572 52.4z" fill="#6ef56e"/>
<path d="M602.1 55.7 604.3 55.4 610.6 59.5 608.5 59.9z" fill="#6af573"/>
<path d="M638.6 58.6 640.8 58.1 647.1 61.8 644.9 62.4z" fill="#6af573"/>
<path d="M546.4 46.8 548.5 46.4 554.9 49.9 552.7 50.3z" fill="#7af560"/>
<path d="M582.8 51.8 585 51.9 591.3 56.1 589.2 56.1z" fill="#71f56b"/>
<path d="M619.3 57.7 621.4 57.2 627.8 61 625.6 61.6z" fill="#6af573"/>
<path d="M520.9 47.7 524.3 47 530.6 50.5 527.2 51.4z" fill="#6af573"/>
<path d="M563.5 48.4 565.7 48 572 52.4 569.9 52.8z" fill="#6af573"/>
<path d="M600 55.8 602.1 55.7 608.5 59.9 606.3 60.1z" fill="#6af573"/>
<path d="M636.4 59 638.6 58.6 644.9 62.4 642.8 62.9z" fill="#6af573"/>
<path d="M544.2 47.2 546.4 46.8 552.7 50.3 550.5 50.7z" fill="#79f562"/>
<path d="M580.7 51.6 582.8 51.8 589.2 56.1 587 56z" fill="#6bf571"/>
<path d="M617.1 58.3 619.3 57.7 625.6 61.6 623.5 62.2z" fill="#6af573"/>
<path d="M517.5 48.5 520.9 47.7 527.2 51.4 523.8 52.5z" fill="#6af573"/>
<path d="M561.4 48.8 563.5 48.4 569.9 52.8 567.7 53.2z" fill="#6af573"/>
<path d="M597.8 56 600 55.8 606.3 60.1 604.2 60.3z" fill="#6af573"/>
<path d="M634.3 59.5 636.4 59 642.8 62.9 640.6 63.3z" fill="#6af573"/>
<path d="M540.8 47.9 544.2 47.2 550.5 50.7 547.2 51.4z" fill="#76f566"/>
<path d="M578.5 51.5 580.7 51.6 587 56 584.8 56z" fill="#6af573"/>
<path d="M615 58.7 617.1 58.3 623.5 62.2 621.3 62.6z" fill="#6af573"/>
<path d="M651.4 60.4 653.6 59.8 659.9 62.8 657.8 63.5z" fill="#6af573"/>
<path d="M514.1 49.3 517.5 48.5 523.8 52.5 520.4 53.6z" fill="#6af573"/>
<path d="M559.2 49.2 561.4 48.8 567.7 53.2 565.5 53.6z" fill="#6af573"/>
<path d="M595.7 56.2 597.8 56 604.2 60.3 602 60.6z" fill="#6af573"/>
<path d="M632.1 60 634.3 59.5 640.6 63.3 638.4 63.8z" fill="#6af573"/>
<path d="M537.4 48.7 540.8 47.9 547.2 51.4 543.8 52.3z" fill="#71f56b"/>
<path d="M576.3 51.8 578.5 51.5 584.8 56 582.7 56.4z" fill="#6af573"/>
<path d="M612.8 59.1 615 58.7 621.3 62.6 619.1 63.1z" fill="#6af573"/>
<path d="M649.3 61.1 651.4 60.4 657.8 63.5 655.6 64.3z" fill="#6af573"/>
<path d="M510.7 50 514.1 49.3 520.4 53.6 517 54.7z" fill="#6af573"/>
<path d="M557 49.5 559.2 49.2 565.5 53.6 563.4 54z" fill="#6af573"/>
<path d="M593.5 56.2 595.7 56.2 602 60.6 599.8 60.7z" fill="#6af573"/>
<path d="M629.9 60.5 632.1 60 638.4 63.8 636.3 64.4z" fill="#6af573"/>
<path d="M534 49.5 537.4 48.7 543.8 52.3 540.4 53.2z" fill="#6af573"/>
<path d="M574.2 52.1 576.3 51.8 582.7 56.4 580.5 56.7z" fill="#6af573"/>
<path d="M610.6 59.5 612.8 59.1 619.1 63.1 617 63.5z" fill="#6af573"/>
<path d="M647.1 61.8 649.3 61.1 655.6 64.3 653.4 65.1z" fill="#6af573"/>
<path d="M507.3 50.8 510.7 50 517 54.7 513.6 55.6z" fill="#6af573"/>
<path d="M554.9 49.9 557 49.5 563.4 54 561.2 54.4z" fill="#6af573"/>
<path d="M591.3 56.1 593.5 56.2 599.8 60.7 597.7 60.8z" fill="#69f574"/>
<path d="M627.8 61 629.9 60.5 636.3 64.4 634.1 65z" fill="#6af573"/>
<path d="M530.6 50.5 534 49.5 540.4 53.2 537 54.3z" fill="#6af573"/>
<path d="M572 52.4 574.2 52.1 580.5 56.7 578.4 57.1z" fill="#6af573"/>
<path d="M608.5 59.9 610.6 59.5 617 63.5 614.8 63.9z" fill="#6af573"/>
<path d="M644.9 62.4 647.1 61.8 653.4 65.1 651.3 65.7z" fill="#6af573"/>
<path d="M552.7 50.3 554.9 49.9 561.2 54.4 559.1 54.8z" fill="#6af573"/>
<path d="M589.2 56.1 591.3 56.1 597.7 60.8 595.5 60.8z" fill="#66f678"/>
<path d="M625.6 61.6 627.8 61 634.1 65 632 65.6z" fill="#6af573"/>
<path d="M527.2 51.4 530.6 50.5 537 54.3 533.6 55.4z" fill="#6af573"/>
<path d="M569.9 52.8 572 52.4 578.4 57.1 576.2 57.6z" fill="#69f574"/>
<path d="M606.3 60.1 608.5 59.9 614.8 63.9 612.7 64.3z" fill="#66f678"/>
<path d="M642.8 62.9 644.9 62.4 651.3 65.7 649.1 66.3z" fill="#6af573"/>
<path d="M550.5 50.7 552.7 50.3 559.1 54.8 556.9 55.3z" fill="#6af573"/>
<path d="M587 56 589.2 56.1 595.5 60.8 593.3 60.9z" fill="#63f77c"/>
<path d="M623.5 62.2 625.6 61.6 632 65.6 629.8 66.2z" fill="#6af573"/>
<path d="M523.8 52.5 527.2 51.4 533.6 55.4 530.2 56.8z" fill="#6af573"/>
<path d="M567.7 53.2 569.9 52.8 576.2 57.6 574 58z" fill="#65f679"/>
<path d="M604.2 60.3 606.3 60.1 612.7 64.3 610.5 64.6z" fill="#60f780"/>
<path d="M640.6 63.3 642.8 62.9 649.1 66.3 647 66.8z" fill="#6af573"/>
<path d="M547.2 51.4 550.5 50.7 556.9 55.3 553.5 56.2z" fill="#6af573"/>
<path d="M584.8 56 587 56 593.3 60.9 591.2 61z" fill="#60f780"/>
<path d="M621.3 62.6 623.5 62.2 629.8 66.2 627.6 66.7z" fill="#6af573"/>
<path d="M657.8 63.5 659.9 62.8 666.3 65.6 664.1 66.4z" fill="#6af573"/>
<path d="M520.4 53.6 523.8 52.5 530.2 56.8 526.8 58.2z" fill="#6af573"/>
<path d="M565.5 53.6 567.7 53.2 574 58 571.9 58.5z" fill="#61f77e"/>
<path d="M602 60.6 604.2 60.3 610.5 64.6 608.3 64.9z" fill="#5af988"/>
<path d="M638.4 63.8 640.6 63.3 647 66.8 644.8 67.3z" fill="#6af573"/>
<path d="M543.8 52.3 547.2 51.4 553.5 56.2 550.1 57.1z" fill="#6af573"/>
<path d="M582.7 56.4 584.8 56 591.2 61 589 61.5z" fill="#5bf986"/>
<path d="M619.1 63.1 621.3 62.6 627.6 66.7 625.5 67.2z" fill="#67f576"/>
<path d="M655.6 64.3 657.8 63.5 664.1 66.4 661.9 67.3z" fill="#6af573"/>
<path d="M517 54.7 520.4 53.6 526.8 58.2 523.4 59.7z" fill="#64f67a"/>
<path d="M563.4 54 565.5 53.6 571.9 58.5 569.7 58.9z" fill="#5df883"/>
<path d="M599.8 60.7 602 60.6 608.3 64.9 606.2 65.1z" fill="#54fb90"/>
<path d="M636.3 64.4 638.4 63.8 644.8 67.3 642.6 67.9z" fill="#6af573"/>
<path d="M540.4 53.2 543.8 52.3 550.1 57.1 546.7 58.2z" fill="#64f67a"/>
<path d="M580.5 56.7 582.7 56.4 589 61.5 586.9 62z" fill="#56fa8e"/>
<path d="M617 63.5 619.1 63.1 625.5 67.2 623.3 67.7z" fill="#5ff881"/>
<path d="M653.4 65.1 655.6 64.3 661.9 67.3 659.8 68.2z" fill="#6af573"/>
<path d="M513.6 55.6 517 54.7 523.4 59.7 520 60.8z" fill="#48fea1"/>
<path d="M561.2 54.4 563.4 54 569.7 58.9 567.6 59.4z" fill="#59f989"/>
<path d="M597.7 60.8 599.8 60.7 606.2 65.1 604 65.3z" fill="#50fc96"/>
<path d="M634.1 65 636.3 64.4 642.6 67.9 640.5 68.5z" fill="#6af573"/>
<path d="M537 54.3 540.4 53.2 546.7 58.2 543.3 59.7z" fill="#5df884"/>
<path d="M578.4 57.1 580.5 56.7 586.9 62 584.7 62.4z" fill="#50fb95"/>
<path d="M614.8 63.9 617 63.5 623.3 67.7 621.2 68.2z" fill="#56fa8d"/>
<path d="M651.3 65.7 653.4 65.1 659.8 68.2 657.6 68.9z" fill="#6af573"/>
<path d="M559.1 54.8 561.2 54.4 567.6 59.4 565.4 59.9z" fill="#55fa8f"/>
<path d="M595.5 60.8 597.7 60.8 604 65.3 601.8 65.5z" fill="#4cfd9b"/>
<path d="M632 65.6 634.1 65 640.5 68.5 638.3 69.2z" fill="#6af573"/>
<path d="M533.6 55.4 537 54.3 543.3 59.7 539.9 61.3z" fill="#54fb90"/>
<path d="M576.2 57.6 578.4 57.1 584.7 62.4 582.5 63z" fill="#4afd9d"/>
<path d="M612.7 64.3 614.8 63.9 621.2 68.2 619 68.7z" fill="#4efc97"/>
<path d="M649.1 66.3 651.3 65.7 657.6 68.9 655.5 69.5z" fill="#6af573"/>
<path d="M556.9 55.3 559.1 54.8 565.4 59.9 563.2 60.4z" fill="#50fb95"/>
<path d="M593.3 60.9 595.5 60.8 601.8 65.5 599.7 65.6z" fill="#48fda0"/>
<path d="M629.8 66.2 632 65.6 638.3 69.2 636.1 69.8z" fill="#64f67b"/>
<path d="M530.2 56.8 533.6 55.4 539.9 61.3 536.5 63.3z" fill="#48fea0"/>
<path d="M574 58 576.2 57.6 582.5 63 580.4 63.5z" fill="#45fea4"/>
<path d="M610.5 64.6 612.7 64.3 619 68.7 616.8 69.1z" fill="#47fea1"/>
<path d="M647 66.8 649.1 66.3 655.5 69.5 653.3 70z" fill="#6af573"/>
<path d="M553.5 56.2 556.9 55.3 563.2 60.4 559.8 61.3z" fill="#49fd9f"/>
<path d="M591.2 61 593.3 60.9 599.7 65.6 597.5 65.9z" fill="#44ffa5"/>
<path d="M627.6 66.7 629.8 66.2 636.1 69.8 634 70.4z" fill="#5af987"/>
<path d="M664.1 66.4 666.3 65.6 672.6 67.1 670.4 68z" fill="#6af573"/>
<path d="M526.8 58.2 530.2 56.8 536.5 63.3 533.1 65.6z" fill="#3affb3"/>
<path d="M571.9 58.5 574 58 580.4 63.5 578.2 64z" fill="#40ffaa"/>
<path d="M608.3 64.9 610.5 64.6 616.8 69.1 614.7 69.5z" fill="#40ffab"/>
<path d="M644.8 67.3 647 66.8 653.3 70 651.1 70.6z" fill="#6af573"/>
<path d="M550.1 57.1 553.5 56.2 559.8 61.3 556.4 62.5z" fill="#3effad"/>
<path d="M589 61.5 591.2 61 597.5 65.9 595.4 66.5z" fill="#3effad"/>
<path d="M625.5 67.2 627.6 66.7 634 70.4 631.8 71z" fill="#51fb94"/>
<path d="M661.9 67.3 664.1 66.4 670.4 68 668.3 68.9z" fill="#6af573"/>
<path d="M523.4 59.7 526.8 58.2 533.1 65.6 529.7 67.8z" fill="#00ffff"/>
<path d="M569.7 58.9 571.9 58.5 578.2 64 576.1 64.5z" fill="#3bffb1"/>
<path d="M606.2 65.1 608.3 64.9 614.7 69.5 612.5 69.9z" fill="#39ffb4"/>
<path d="M642.6 67.9 644.8 67.3 651.1 70.6 649 71.2z" fill="#6af573"/>
<path d="M546.7 58.2 550.1 57.1 556.4 62.5 553 63.8z" fill="#00ffff"/>
<path d="M586.9 62 589 61.5 595.4 66.5 593.2 67.1z" fill="#38ffb5"/>
<path d="M623.3 67.7 625.5 67.2 631.8 71 629.7 71.6z" fill="#47fea2"/>
<path d="M659.8 68.2 661.9 67.3 668.3 68.9 666.1 69.8z" fill="#6af573"/>
<path d="M520 60.8 523.4 59.7 529.7 67.8 526.3 69.4z" fill="#00ffff"/>
<path d="M567.6 59.4 569.7 58.9 576.1 64.5 573.9 65.1z" fill="#00ffff"/>
<path d="M604 65.3 606.2 65.1 612.5 69.9 610.3 70.2z" fill="#00ffff"/>
<path d="M640.5 68.5 642.6 67.9 649 71.2 646.8 71.8z" fill="#64f67a"/>
<path d="M543.3 59.7 546.7 58.2 553 63.8 549.6 65.6z" fill="#00ffff"/>
<path d="M584.7 62.4 586.9 62 593.2 67.1 591 67.7z" fill="#00ffff"/>
<path d="M621.2 68.2 623.3 67.7 629.7 71.6 627.5 72.2z" fill="#3dffaf"/>
<path d="M657.6 68.9 659.8 68.2 666.1 69.8 664 70.6z" fill="#6af573"/>
<path d="M565.4 59.9 567.6 59.4 573.9 65.1 571.7 65.6z" fill="#00ffff"/>
<path d="M601.8 65.5 604 65.3 610.3 70.2 608.2 70.5z" fill="#00ffff"/>
<path d="M638.3 69.2 640.5 68.5 646.8 71.8 644.6 72.5z" fill="#5bf986"/>
<path d="M539.9 61.3 543.3 59.7 549.6 65.6 546.2 67.8z" fill="#00ffff"/>
<path d="M582.5 63 584.7 62.4 591 67.7 588.9 68.3z" fill="#00ffff"/>
<path d="M619 68.7 621.2 68.2 627.5 72.2 625.3 72.7z" fill="#00ffff"/>
<path d="M655.5 69.5 657.6 68.9 664 70.6 661.8 71.2z" fill="#6af573"/>
<path d="M563.2 60.4 565.4 59.9 571.7 65.6 569.6 66.2z" fill="#00ffff"/>
<path d="M599.7 65.6 601.8 65.5 608.2 70.5 606 70.8z" fill="#00ffff"/>
<path d="M636.1 69.8 638.3 69.2 644.6 72.5 642.5 73.2z" fill="#51fb93"/>
<path d="M536.5 63.3 539.9 61.3 546.2 67.8 542.9 70.7z" fill="#00ffff"/>
<path d="M580.4 63.5 582.5 63 588.9 68.3 586.7 68.9z" fill="#00ffff"/>
<path d="M616.8 69.1 619 68.7 625.3 72.7 623.2 73.3z" fill="#00ffff"/>
<path d="M653.3 70 655.5 69.5 661.8 71.2 659.6 71.7z" fill="#68f574"/>
<path d="M559.8 61.3 563.2 60.4 569.6 66.2 566.2 67.3z" fill="#00ffff"/>
<path d="M597.5 65.9 599.7 65.6 606 70.8 603.9 71.3z" fill="#00ffff"/>
<path d="M634 70.4 636.1 69.8 642.5 73.2 640.3 73.9z" fill="#47fea1"/>
<path d="M533.1 65.6 536.5 63.3 542.9 70.7 539.5 73.9z" fill="#00ffff"/>
<path d="M578.2 64 580.4 63.5 586.7 68.9 584.6 69.4z" fill="#00ffff"/>
<path d="M614.7 69.5 616.8 69.1 623.2 73.3 621 73.8z" fill="#00ffff"/>
<path d="M651.1 70.6 653.3 70 659.6 71.7 657.5 72.3z" fill="#66f678"/>
<path d="M556.4 62.5 559.8 61.3 566.2 67.3 562.8 68.6z" fill="#00ffff"/>
<path d="M595.4 66.5 597.5 65.9 603.9 71.3 601.7 72.1z" fill="#00ffff"/>
<path d="M631.8 71 634 70.4 640.3 73.9 638.2 74.6z" fill="#3cffaf"/>
<path d="M529.7 67.8 533.1 65.6 539.5 73.9 536.1 77z" fill="#00ffff"/>
<path d="M576.1 64.5 578.2 64 584.6 69.4 582.4 70z" fill="#00ffff"/>
<path d="M612.5 69.9 614.7 69.5 621 73.8 618.9 74.3z" fill="#00ffff"/>
<path d="M649 71.2 651.1 70.6 657.5 72.3 655.3 72.9z" fill="#61f77e"/>
<path d="M553 63.8 556.4 62.5 562.8 68.6 559.4 70.3z" fill="#00ffff"/>
<path d="M593.2 67.1 595.4 66.5 601.7 72.1 599.5 72.8z" fill="#00ffff"/>
<path d="M629.7 71.6 631.8 71 638.2 74.6 636 75.3z" fill="#00ffff"/>
<path d="M526.3 69.4 529.7 67.8 536.1 77 532.7 79z" fill="#00ffff"/>
<path d="M573.9 65.1 576.1 64.5 582.4 70 580.2 70.6z" fill="#00ffff"/>
<path d="M610.3 70.2 612.5 69.9 618.9 74.3 616.7 74.8z" fill="#00ffff"/>
<path d="M646.8 71.8 649 71.2 655.3 72.9 653.1 73.6z" fill="#58f98a"/>
<path d="M549.6 65.6 553 63.8 559.4 70.3 556 72.7z" fill="#00ffff"/>
<path d="M591 67.7 593.2 67.1 599.5 72.8 597.4 73.5z" fill="#00ffff"/>
<path d="M627.5 72.2 629.7 71.6 636 75.3 633.8 75.9z" fill="#00ffff"/>
<path d="M571.7 65.6 573.9 65.1 580.2 70.6 578.1 71.2z" fill="#00ffff"/>
<path d="M608.2 70.5 610.3 70.2 616.7 74.8 614.5 75.3z" fill="#00ffff"/>
<path d="M644.6 72.5 646.8 71.8 653.1 73.6 651 74.3z" fill="#4ffc97"/>
<path d="M546.2 67.8 549.6 65.6 556 72.7 552.6 75.6z" fill="#00ffff"/>
<path d="M588.9 68.3 591 67.7 597.4 73.5 595.2 74.2z" fill="#00ffff"/>
<path d="M625.3 72.7 627.5 72.2 633.8 75.9 631.7 76.6z" fill="#00ffff"/>
<path d="M569.6 66.2 571.7 65.6 578.1 71.2 575.9 71.9z" fill="#00ffff"/>
<path d="M606 70.8 608.2 70.5 614.5 75.3 612.4 75.8z" fill="#00ffff"/>
<path d="M642.5 73.2 644.6 72.5 651 74.3 648.8 75z" fill="#46fea3"/>
<path d="M542.9 70.7 546.2 67.8 552.6 75.6 549.2 79.6z" fill="#00ffff"/>
<path d="M586.7 68.9 588.9 68.3 595.2 74.2 593.1 74.9z" fill="#00ffff"/>
<path d="M623.2 73.3 625.3 72.7 631.7 76.6 629.5 77.3z" fill="#00ffff"/>
<path d="M566.2 67.3 569.6 66.2 575.9 71.9 572.5 73.2z" fill="#00ffff"/>
<path d="M603.9 71.3 606 70.8 612.4 75.8 610.2 76.5z" fill="#00ffff"/>
<path d="M640.3 73.9 642.5 73.2 648.8 75 646.7 75.8z" fill="#3dffaf"/>
<path d="M539.5 73.9 542.9 70.7 549.2 79.6 545.8 84.1z" fill="#00ffff"/>
<path d="M584.6 69.4 586.7 68.9 593.1 74.9 590.9 75.5z" fill="#00ffff"/>
<path d="M621 73.8 623.2 73.3 629.5 77.3 627.4 77.9z" fill="#00ffff"/>
<path d="M562.8 68.6 566.2 67.3 572.5 73.2 569.1 74.7z" fill="#00ffff"/>
<path d="M601.7 72.1 603.9 71.3 610.2 76.5 608 77.4z" fill="#00ffff"/>
<path d="M638.2 74.6 640.3 73.9 646.7 75.8 644.5 76.5z" fill="#00ffff"/>
<path d="M536.1 77 539.5 73.9 545.8 84.1 542.4 88.4z" fill="#00ffff"/>
<path d="M582.4 70 584.6 69.4 590.9 75.5 588.7 76.2z" fill="#00ffff"/>
<path d="M618.9 74.3 621 73.8 627.4 77.9 625.2 78.6z" fill="#00ffff"/>
<path d="M559.4 70.3 562.8 68.6 569.1 74.7 565.7 76.5z" fill="#00ffff"/>
<path d="M599.5 72.8 601.7 72.1 608 77.4 605.9 78.3z" fill="#00ffff"/>
<path d="M636 75.3 638.2 74.6 644.5 76.5 642.3 77.2z" fill="#00ffff"/>
<path d="M532.7 79 536.1 77 542.4 88.4 539 91.1z" fill="#00ffff"/>
<path d="M580.2 70.6 582.4 70 588.7 76.2 586.6 76.8z" fill="#00ffff"/>
<path d="M616.7 74.8 618.9 74.3 625.2 78.6 623 79.2z" fill="#00ffff"/>
<path d="M556 72.7 559.4 70.3 565.7 76.5 562.3 79.5z" fill="#00ffff"/>
<path d="M597.4 73.5 599.5 72.8 605.9 78.3 603.7 79.2z" fill="#00ffff"/>
<path d="M633.8 75.9 636 75.3 642.3 77.2 640.2 77.9z" fill="#00ffff"/>
<path d="M578.1 71.2 580.2 70.6 586.6 76.8 584.4 77.6z" fill="#00ffff"/>
<path d="M614.5 75.3 616.7 74.8 623 79.2 620.9 79.8z" fill="#00ffff"/>
<path d="M552.6 75.6 556 72.7 562.3 79.5 558.9 83.2z" fill="#00ffff"/>
<path d="M595.2 74.2 597.4 73.5 603.7 79.2 601.6 80z" fill="#00ffff"/>
<path d="M631.7 76.6 633.8 75.9 640.2 77.9 638 78.6z" fill="#00ffff"/>
<path d="M575.9 71.9 578.1 71.2 584.4 77.6 582.2 78.3z" fill="#00ffff"/>
<path d="M612.4 75.8 614.5 75.3 620.9 79.8 618.7 80.5z" fill="#00ffff"/>
<path d="M549.2 79.6 552.6 75.6 558.9 83.2 555.5 88.1z" fill="#00ffff"/>
<path d="M593.1 74.9 595.2 74.2 601.6 80 599.4 80.8z" fill="#00ffff"/>
<path d="M629.5 77.3 631.7 76.6 638 78.6 635.9 79.3z" fill="#00ffff"/>
<path d="M572.5 73.2 575.9 71.9 582.2 78.3 578.9 79.8z" fill="#00ffff"/>
<path d="M610.2 76.5 612.4 75.8 618.7 80.5 616.5 81.5z" fill="#00ffff"/>
<path d="M545.8 84.1 549.2 79.6 555.5 88.1 552.1 93.9z" fill="#00ffff"/>
<path d="M590.9 75.5 593.1 74.9 599.4 80.8 597.2 81.5z" fill="#00ffff"/>
<path d="M627.4 77.9 629.5 77.3 635.9 79.3 633.7 80z" fill="#00ffff"/>
<path d="M569.1 74.7 572.5 73.2 578.9 79.8 575.5 81.5z" fill="#00ffff"/>
<path d="M608 77.4 610.2 76.5 616.5 81.5 614.4 82.5z" fill="#00ffff"/>
<path d="M542.4 88.4 545.8 84.1 552.1 93.9 548.7 99.4z" fill="#00ffff"/>
<path d="M588.7 76.2 590.9 75.5 597.2 81.5 595.1 82.2z" fill="#00ffff"/>
<path d="M625.2 78.6 627.4 77.9 633.7 80 631.5 80.7z" fill="#00ffff"/>
<path d="M565.7 76.5 569.1 74.7 575.5 81.5 572.1 83.8z" fill="#00ffff"/>
<path d="M605.9 78.3 608 77.4 614.4 82.5 612.2 83.5z" fill="#00ffff"/>
<path d="M539 91.1 542.4 88.4 548.7 99.4 545.3 102.7z" fill="#00ffff"/>
<path d="M586.6 76.8 588.7 76.2 595.1 82.2 592.9 83z" fill="#00ffff"/>
<path d="M623 79.2 625.2 78.6 631.5 80.7 629.4 81.5z" fill="#00ffff"/>
<path d="M562.3 79.5 565.7 76.5 572.1 83.8 568.7 87.5z" fill="#00ffff"/>
<path d="M603.7 79.2 605.9 78.3 612.2 83.5 610.1 84.6z" fill="#00ffff"/>
<path d="M584.4 77.6 586.6 76.8 592.9 83 590.8 83.8z" fill="#00ffff"/>
<path d="M620.9 79.8 623 79.2 629.4 81.5 627.2 82.2z" fill="#00ffff"/>
<path d="M558.9 83.2 562.3 79.5 568.7 87.5 565.3 92.1z" fill="#00ffff"/>
<path d="M601.6 80 603.7 79.2 610.1 84.6 607.9 85.5z" fill="#00ffff"/>
<path d="M582.2 78.3 584.4 77.6 590.8 83.8 588.6 84.7z" fill="#00ffff"/>
<path d="M618.7 80.5 620.9 79.8 627.2 82.2 625 82.9z" fill="#00ffff"/>
<path d="M555.5 88.1 558.9 83.2 565.3 92.1 561.9 98.5z" fill="#00ffff"/>
<path d="M599.4 80.8 601.6 80 607.9 85.5 605.7 86.3z" fill="#00ffff"/>
<path d="M578.9 79.8 582.2 78.3 588.6 84.7 585.2 86.4z" fill="#00ffff"/>
<path d="M616.5 81.5 618.7 80.5 625 82.9 622.9 84z" fill="#00ffff"/>
<path d="M552.1 93.9 555.5 88.1 561.9 98.5 558.5 105.9z" fill="#00ffff"/>
<path d="M597.2 81.5 599.4 80.8 605.7 86.3 603.6 87.2z" fill="#00ffff"/>
<path d="M575.5 81.5 578.9 79.8 585.2 86.4 581.8 88.4z" fill="#00ffff"/>
<path d="M614.4 82.5 616.5 81.5 622.9 84 620.7 85.1z" fill="#00ffff"/>
<path d="M548.7 99.4 552.1 93.9 558.5 105.9 555.1 113z" fill="#00ffff"/>
<path d="M595.1 82.2 597.2 81.5 603.6 87.2 601.4 88z" fill="#00ffff"/>
<path d="M572.1 83.8 575.5 81.5 581.8 88.4 578.4 91.1z" fill="#00ffff"/>
<path d="M612.2 83.5 614.4 82.5 620.7 85.1 618.6 86.2z" fill="#00ffff"/>
<path d="M545.3 102.7 548.7 99.4 555.1 113 551.7 117.1z" fill="#00ffff"/>
<path d="M592.9 83 595.1 82.2 601.4 88 599.3 88.8z" fill="#00ffff"/>
<path d="M568.7 87.5 572.1 83.8 578.4 91.1 575 95.6z" fill="#00ffff"/>
<path d="M610.1 84.6 612.2 83.5 618.6 86.2 616.4 87.3z" fill="#00ffff"/>
<path d="M590.8 83.8 592.9 83 599.3 88.8 597.1 89.8z" fill="#00ffff"/>
<path d="M565.3 92.1 568.7 87.5 575 95.6 571.6 101.4z" fill="#00ffff"/>
<path d="M607.9 85.5 610.1 84.6 616.4 87.3 614.2 88.3z" fill="#00ffff"/>
<path d="M588.6 84.7 590.8 83.8 597.1 89.8 594.9 90.8z" fill="#00ffff"/>
<path d="M561.9 98.5 565.3 92.1 571.6 101.4 568.2 109.3z" fill="#00ffff"/>
<path d="M605.7 86.3 607.9 85.5 614.2 88.3 612.1 89.2z" fill="#00ffff"/>
<path d="M585.2 86.4 588.6 84.7 594.9 90.8 591.5 92.7z" fill="#00ffff"/>
<path d="M558.5 105.9 561.9 98.5 568.2 109.3 564.8 118.6z" fill="#00ffff"/>
<path d="M603.6 87.2 605.7 86.3 612.1 89.2 609.9 90z" fill="#00ffff"/>
<path d="M581.8 88.4 585.2 86.4 591.5 92.7 588.1 95z" fill="#00ffff"/>
<path d="M555.1 113 558.5 105.9 564.8 118.6 561.4 127.5z" fill="#00ffff"/>
<path d="M601.4 88 603.6 87.2 609.9 90 607.8 90.9z" fill="#00ffff"/>
<path d="M578.4 91.1 581.8 88.4 588.1 95 584.7 98.1z" fill="#00ffff"/>
<path d="M551.7 117.1 555.1 113 561.4 127.5 558 132.5z" fill="#00ffff"/>
<path d="M599.3 88.8 601.4 88 607.8 90.9 605.6 91.8z" fill="#00ffff"/>
<path d="M575 95.6 578.4 91.1 584.7 98.1 581.3 103.4z" fill="#00ffff"/>
<path d="M597.1 89.8 599.3 88.8 605.6 91.8 603.4 92.8z" fill="#00ffff"/>
<path d="M571.6 101.4 575 95.6 581.3 103.4 577.9 110.2z" fill="#00ffff"/>
<path d="M594.9 90.8 597.1 89.8 603.4 92.8 601.3 93.9z" fill="#00ffff"/>
<path d="M568.2 109.3 571.6 101.4 577.9 110.2 574.6 119.6z" fill="#00ffff"/>
<path d="M591.5 92.7 594.9 90.8 601.3 93.9 597.9 95.8z" fill="#00ffff"/>
<path d="M564.8 118.6 568.2 109.3 574.6 119.6 571.2 130.7z" fill="#00ffff"/>
<path d="M588.1 95 591.5 92.7 597.9 95.8 594.5 98.2z" fill="#00ffff"/>
<path d="M561.4 127.5 564.8 118.6 571.2 130.7 567.8 141.3z" fill="#00ffff"/>
<path d="M584.7 98.1 588.1 95 594.5 98.2 591.1 101.5z" fill="#00ffff"/>
<path d="M558 132.5 561.4 127.5 567.8 141.3 564.4 147.3z" fill="#00ffff"/>
<path d="M581.3 103.4 584.7 98.1 591.1 101.5 587.7 107.2z" fill="#00ffff"/>
<path d="M577.9 110.2 581.3 103.4 587.7 107.2 584.3 114.5z" fill="#00ffff"/>
<path d="M574.6 119.6 577.9 110.2 584.3 114.5 580.9 124.7z" fill="#00ffff"/>
<path d="M571.2 130.7 574.6 119.6 580.9 124.7 577.5 136.6z" fill="#00ffff"/>
<path d="M567.8 141.3 571.2 130.7 577.5 136.6 574.1 148z" fill="#00ffff"/>
<path d="M564.4 147.3 567.8 141.3 574.1 148 570.7 154.4z" fill="#00ffff"/>
</g>
<path d="M566 42.8 580.2 47.5 589.4 50.1 602.6 54 615.7 58" fill="none" stroke="#000" stroke-opacity="0.7" stroke-width="1.2" stroke-linecap="round"/>
<path d="M615.7 58 628.8 62 640 65.2" fill="none" stroke="#000" stroke-opacity="0.7" stroke-width="0.8" stroke-linecap="round"/>
<path d="M640 65.2 655 69.5 665 70.5" fill="none" stroke="#000" stroke-opacity="0.7" stroke-width="0.5" stroke-linecap="round"/>
<g transform="translate(590.1 103.6) rotate(41.1)"><path d="M0 0L4 -3.1L4 -1.5L8.4 -1.5L8.4 1.5L4 1.5L4 3.1z" fill="#000"/></g>
<text x="472" y="7.5" class="lt">C</text>
<text x="581.2" y="17" text-anchor="middle" class="tt" textLength="42.9" lengthAdjust="spacingAndGlyphs">DMEM/F12</text>
<text x="580" y="27.7" text-anchor="middle" class="tt" textLength="47.6" lengthAdjust="spacingAndGlyphs">100,000 cells</text>
<path d="M29.6 230.6V314.2L109.2 353.5L212.9 324.2" fill="none" stroke="#444" stroke-width="0.65"/>
<text transform="translate(25.3 232.2) scale(0.85 1)" text-anchor="end" class="tl">0.02</text>
<text transform="translate(25.3 244.1) scale(0.85 1)" text-anchor="end" class="tl">0.01</text>
<text transform="translate(25.3 256) scale(0.85 1)" text-anchor="end" class="tl">0</text>
<text transform="translate(25.3 268) scale(0.85 1)" text-anchor="end" class="tl">-0.01</text>
<text transform="translate(25.3 279.9) scale(0.85 1)" text-anchor="end" class="tl">-0.02</text>
<text transform="translate(25.3 291.9) scale(0.85 1)" text-anchor="end" class="tl">-0.03</text>
<text transform="translate(25.3 303.8) scale(0.85 1)" text-anchor="end" class="tl">-0.04</text>
<text transform="translate(25.3 315.8) scale(0.85 1)" text-anchor="end" class="tl">-0.05</text>
<path d="M29.6 230.6h-1.5 M29.6 242.5h-1.5 M29.6 254.5h-1.5 M29.6 266.4h-1.5 M29.6 278.4h-1.5 M29.6 290.3h-1.5 M29.6 302.3h-1.5 M29.6 314.2h-1.5" stroke="#333" stroke-width="0.4"/>
<path d="M39.5 319.1l1.5 -0.4 M49.5 324l1.5 -0.4 M59.5 328.9l1.5 -0.4 M69.4 333.9l1.5 -0.4 M79.3 338.8l1.5 -0.4 M89.3 343.7l1.5 -0.4 M99.2 348.6l1.5 -0.4 M122.2 349.8l-1.4 -0.7 M135.1 346.2l-1.4 -0.7 M148.1 342.5l-1.4 -0.7 M161.1 338.9l-1.4 -0.7 M174 335.2l-1.4 -0.7 M187 331.5l-1.4 -0.7 M199.9 327.9l-1.4 -0.7" stroke="#333" stroke-width="0.4"/>
<text transform="translate(24.6 320.8) scale(0.85 1)" text-anchor="middle" class="tl">2</text>
<text transform="translate(36.4 327.1) scale(0.85 1)" text-anchor="middle" class="tl">2.5</text>
<text transform="translate(51.5 333.2) scale(0.85 1)" text-anchor="middle" class="tl">3</text>
<text transform="translate(63.3 339.9) scale(0.85 1)" text-anchor="middle" class="tl">3.5</text>
<text transform="translate(77.8 346.4) scale(0.85 1)" text-anchor="middle" class="tl">4</text>
<text transform="translate(89.1 352.2) scale(0.85 1)" text-anchor="middle" class="tl">4.5</text>
<text transform="translate(104.2 359.2) scale(0.85 1)" text-anchor="middle" class="tl">6</text>
<text transform="translate(114 359.4) scale(0.85 1)" text-anchor="middle" class="tl">-14</text>
<text transform="translate(128 355.9) scale(0.85 1)" text-anchor="middle" class="tl">-12</text>
<text transform="translate(140.9 352.2) scale(0.85 1)" text-anchor="middle" class="tl">-10</text>
<text transform="translate(153.2 348.9) scale(0.85 1)" text-anchor="middle" class="tl">-8</text>
<text transform="translate(166.5 345.1) scale(0.85 1)" text-anchor="middle" class="tl">-6</text>
<text transform="translate(179 341.4) scale(0.85 1)" text-anchor="middle" class="tl">-4</text>
<text transform="translate(191.6 337.9) scale(0.85 1)" text-anchor="middle" class="tl">-2</text>
<text transform="translate(203.4 334.1) scale(0.85 1)" text-anchor="middle" class="tl">0</text>
<text transform="translate(216.7 330.1) scale(0.85 1)" text-anchor="middle" class="tl">2</text>
<text x="49.7" y="361.3" text-anchor="middle" class="al">Log. Frequency (Hz)</text>
<text x="164.7" y="363.3" text-anchor="middle" class="al">Time (hrs)</text>
<text transform="translate(15.1 273) rotate(-90)" text-anchor="middle" class="al">Log. Norm. Impedance</text>
<g stroke="#000" stroke-width="0.28" stroke-linejoin="round">
<path d="M138.5 233 141.1 232.4 147.5 234.6 144.9 235.5z" fill="#78eb78"/>
<path d="M135.9 233.6 138.5 233 144.9 235.5 142.3 236.1z" fill="#78eb78"/>
<path d="M133.2 234.2 135.9 233.6 142.3 236.1 139.7 236.9z" fill="#78eb78"/>
<path d="M130.6 234.7 133.2 234.2 139.7 236.9 137.1 237.5z" fill="#78eb78"/>
<path d="M128 235.3 130.6 234.7 137.1 237.5 134.4 238.1z" fill="#78eb78"/>
<path d="M125.4 235.8 128 235.3 134.4 238.1 131.8 238.7z" fill="#78eb78"/>
<path d="M144.9 235.5 147.5 234.6 154 236.9 151.4 237.9z" fill="#64f096"/>
<path d="M122.8 236.4 125.4 235.8 131.8 238.7 129.2 239.4z" fill="#78eb78"/>
<path d="M142.3 236.1 144.9 235.5 151.4 237.9 148.8 238.5z" fill="#64f096"/>
<path d="M120.1 237 122.8 236.4 129.2 239.4 126.6 240z" fill="#78eb78"/>
<path d="M139.7 236.9 142.3 236.1 148.8 238.5 146.1 239.5z" fill="#64f096"/>
<path d="M117.5 237.6 120.1 237 126.6 240 124 240.7z" fill="#78eb78"/>
<path d="M137.1 237.5 139.7 236.9 146.1 239.5 143.5 240z" fill="#64f096"/>
<path d="M114.9 238.2 117.5 237.6 124 240.7 121.3 241.5z" fill="#78eb78"/>
<path d="M134.4 238.1 137.1 237.5 143.5 240 140.9 240.7z" fill="#64f096"/>
<path d="M112.3 238.8 114.9 238.2 121.3 241.5 118.7 242.2z" fill="#78eb78"/>
<path d="M131.8 238.7 134.4 238.1 140.9 240.7 138.3 241.3z" fill="#64f096"/>
<path d="M151.4 237.9 154 236.9 160.4 240.5 157.8 241.5z" fill="#64f096"/>
<path d="M109.6 239.3 112.3 238.8 118.7 242.2 116.1 242.7z" fill="#78eb78"/>
<path d="M129.2 239.4 131.8 238.7 138.3 241.3 135.7 242.1z" fill="#64f096"/>
<path d="M148.8 238.5 151.4 237.9 157.8 241.5 155.2 242.1z" fill="#64f096"/>
<path d="M107 239.7 109.6 239.3 116.1 242.7 113.5 243.2z" fill="#78eb78"/>
<path d="M126.6 240 129.2 239.4 135.7 242.1 133 242.7z" fill="#64f096"/>
<path d="M146.1 239.5 148.8 238.5 155.2 242.1 152.6 243z" fill="#64f096"/>
<path d="M104.4 240.2 107 239.7 113.5 243.2 110.9 243.6z" fill="#78eb78"/>
<path d="M124 240.7 126.6 240 133 242.7 130.4 243.5z" fill="#64f096"/>
<path d="M143.5 240 146.1 239.5 152.6 243 150 243.6z" fill="#64f096"/>
<path d="M101.8 240.6 104.4 240.2 110.9 243.6 108.2 244z" fill="#78eb78"/>
<path d="M121.3 241.5 124 240.7 130.4 243.5 127.8 244.3z" fill="#64f096"/>
<path d="M140.9 240.7 143.5 240 150 243.6 147.3 244.3z" fill="#64f096"/>
<path d="M99.2 241 101.8 240.6 108.2 244 105.6 244.5z" fill="#78eb78"/>
<path d="M118.7 242.2 121.3 241.5 127.8 244.3 125.2 245.1z" fill="#64f096"/>
<path d="M138.3 241.3 140.9 240.7 147.3 244.3 144.7 244.9z" fill="#64f096"/>
<path d="M157.8 241.5 160.4 240.5 166.9 243.8 164.3 245.5z" fill="#64f096"/>
<path d="M96.5 241.5 99.2 241 105.6 244.5 103 244.9z" fill="#78eb78"/>
<path d="M116.1 242.7 118.7 242.2 125.2 245.1 122.5 245.6z" fill="#64f096"/>
<path d="M135.7 242.1 138.3 241.3 144.7 244.9 142.1 245.7z" fill="#64f096"/>
<path d="M155.2 242.1 157.8 241.5 164.3 245.5 161.7 246.1z" fill="#64f096"/>
<path d="M93.9 241.9 96.5 241.5 103 244.9 100.4 245.3z" fill="#a5e14b"/>
<path d="M113.5 243.2 116.1 242.7 122.5 245.6 119.9 246.1z" fill="#64f096"/>
<path d="M133 242.7 135.7 242.1 142.1 245.7 139.5 246.3z" fill="#64f096"/>
<path d="M152.6 243 155.2 242.1 161.7 246.1 159 247.6z" fill="#64f096"/>
<path d="M91.3 242.3 93.9 241.9 100.4 245.3 97.8 245.8z" fill="#a5e14b"/>
<path d="M110.9 243.6 113.5 243.2 119.9 246.1 117.3 246.5z" fill="#64f096"/>
<path d="M130.4 243.5 133 242.7 139.5 246.3 136.9 247.1z" fill="#64f096"/>
<path d="M150 243.6 152.6 243 159 247.6 156.4 248.2z" fill="#64f096"/>
<path d="M88.7 242.8 91.3 242.3 97.8 245.8 95.1 246.3z" fill="#a5e14b"/>
<path d="M108.2 244 110.9 243.6 117.3 246.5 114.7 246.9z" fill="#64f096"/>
<path d="M127.8 244.3 130.4 243.5 136.9 247.1 134.2 247.9z" fill="#64f096"/>
<path d="M147.3 244.3 150 243.6 156.4 248.2 153.8 249.1z" fill="#64f096"/>
<path d="M86.1 243.2 88.7 242.8 95.1 246.3 92.5 246.8z" fill="#a5e14b"/>
<path d="M105.6 244.5 108.2 244 114.7 246.9 112.1 247.3z" fill="#64f096"/>
<path d="M125.2 245.1 127.8 244.3 134.2 247.9 131.6 248.7z" fill="#64f096"/>
<path d="M144.7 244.9 147.3 244.3 153.8 249.1 151.2 249.9z" fill="#64f096"/>
<path d="M164.3 245.5 166.9 243.8 173.3 246.5 170.7 249.3z" fill="#40f5bf"/>
<path d="M83.4 243.7 86.1 243.2 92.5 246.8 89.9 247.3z" fill="#a5e14b"/>
<path d="M103 244.9 105.6 244.5 112.1 247.3 109.4 247.7z" fill="#64f096"/>
<path d="M122.5 245.6 125.2 245.1 131.6 248.7 129 249.2z" fill="#64f096"/>
<path d="M142.1 245.7 144.7 244.9 151.2 249.9 148.6 250.9z" fill="#40f5bf"/>
<path d="M161.7 246.1 164.3 245.5 170.7 249.3 168.1 250.1z" fill="#40f5bf"/>
<path d="M80.8 244.3 83.4 243.7 89.9 247.3 87.3 247.9z" fill="#a5e14b"/>
<path d="M100.4 245.3 103 244.9 109.4 247.7 106.8 248.2z" fill="#64f096"/>
<path d="M119.9 246.1 122.5 245.6 129 249.2 126.4 249.8z" fill="#64f096"/>
<path d="M139.5 246.3 142.1 245.7 148.6 250.9 145.9 251.6z" fill="#40f5bf"/>
<path d="M159 247.6 161.7 246.1 168.1 250.1 165.5 252.5z" fill="#40f5bf"/>
<path d="M78.2 244.8 80.8 244.3 87.3 247.9 84.6 248.5z" fill="#a5e14b"/>
<path d="M97.8 245.8 100.4 245.3 106.8 248.2 104.2 248.7z" fill="#64f096"/>
<path d="M117.3 246.5 119.9 246.1 126.4 249.8 123.8 250.1z" fill="#64f096"/>
<path d="M136.9 247.1 139.5 246.3 145.9 251.6 143.3 252.7z" fill="#40f5bf"/>
<path d="M156.4 248.2 159 247.6 165.5 252.5 162.9 253.1z" fill="#40f5bf"/>
<path d="M75.6 245.4 78.2 244.8 84.6 248.5 82 249.1z" fill="#a5e14b"/>
<path d="M95.1 246.3 97.8 245.8 104.2 248.7 101.6 249.2z" fill="#64f096"/>
<path d="M114.7 246.9 117.3 246.5 123.8 250.1 121.1 250.5z" fill="#64f096"/>
<path d="M134.2 247.9 136.9 247.1 143.3 252.7 140.7 253.8z" fill="#40f5bf"/>
<path d="M153.8 249.1 156.4 248.2 162.9 253.1 160.2 254.5z" fill="#40f5bf"/>
<path d="M73 245.9 75.6 245.4 82 249.1 79.4 249.8z" fill="#a5e14b"/>
<path d="M92.5 246.8 95.1 246.3 101.6 249.2 99 249.7z" fill="#64f096"/>
<path d="M112.1 247.3 114.7 246.9 121.1 250.5 118.5 250.9z" fill="#40f5bf"/>
<path d="M131.6 248.7 134.2 247.9 140.7 253.8 138.1 254.9z" fill="#40f5bf"/>
<path d="M151.2 249.9 153.8 249.1 160.2 254.5 157.6 255.5z" fill="#00ffff"/>
<path d="M170.7 249.3 173.3 246.5 179.8 247.8 177.2 252.2z" fill="#00ffff"/>
<path d="M70.3 246.5 73 245.9 79.4 249.8 76.8 250.4z" fill="#a5e14b"/>
<path d="M89.9 247.3 92.5 246.8 99 249.7 96.3 250.3z" fill="#a5e14b"/>
<path d="M109.4 247.7 112.1 247.3 118.5 250.9 115.9 251.4z" fill="#40f5bf"/>
<path d="M129 249.2 131.6 248.7 138.1 254.9 135.4 255.6z" fill="#40f5bf"/>
<path d="M148.6 250.9 151.2 249.9 157.6 255.5 155 257z" fill="#00ffff"/>
<path d="M168.1 250.1 170.7 249.3 177.2 252.2 174.6 253.1z" fill="#00ffff"/>
<path d="M67.7 247.1 70.3 246.5 76.8 250.4 74.2 251z" fill="#a5e14b"/>
<path d="M87.3 247.9 89.9 247.3 96.3 250.3 93.7 250.8z" fill="#a5e14b"/>
<path d="M106.8 248.2 109.4 247.7 115.9 251.4 113.3 251.8z" fill="#40f5bf"/>
<path d="M126.4 249.8 129 249.2 135.4 255.6 132.8 256.2z" fill="#40f5bf"/>
<path d="M145.9 251.6 148.6 250.9 155 257 152.4 257.9z" fill="#00ffff"/>
<path d="M165.5 252.5 168.1 250.1 174.6 253.1 171.9 256.9z" fill="#00ffff"/>
<path d="M65.1 247.6 67.7 247.1 74.2 251 71.5 251.6z" fill="#a5e14b"/>
<path d="M84.6 248.5 87.3 247.9 93.7 250.8 91.1 251.5z" fill="#a5e14b"/>
<path d="M104.2 248.7 106.8 248.2 113.3 251.8 110.7 252.3z" fill="#40f5bf"/>
<path d="M123.8 250.1 126.4 249.8 132.8 256.2 130.2 256.3z" fill="#40f5bf"/>
<path d="M143.3 252.7 145.9 251.6 152.4 257.9 149.8 259.6z" fill="#00ffff"/>
<path d="M162.9 253.1 165.5 252.5 171.9 256.9 169.3 257.6z" fill="#00ffff"/>
<path d="M62.5 248 65.1 247.6 71.5 251.6 68.9 252.3z" fill="#a5e14b"/>
<path d="M82 249.1 84.6 248.5 91.1 251.5 88.5 252.2z" fill="#a5e14b"/>
<path d="M101.6 249.2 104.2 248.7 110.7 252.3 108 252.9z" fill="#40f5bf"/>
<path d="M121.1 250.5 123.8 250.1 130.2 256.3 127.6 256.7z" fill="#40f5bf"/>
<path d="M140.7 253.8 143.3 252.7 149.8 259.6 147.1 261.2z" fill="#00ffff"/>
<path d="M160.2 254.5 162.9 253.1 169.3 257.6 166.7 259.6z" fill="#00ffff"/>
<path d="M59.8 248.5 62.5 248 68.9 252.3 66.3 252.8z" fill="#a5e14b"/>
<path d="M79.4 249.8 82 249.1 88.5 252.2 85.9 252.9z" fill="#a5e14b"/>
<path d="M99 249.7 101.6 249.2 108 252.9 105.4 253.3z" fill="#40f5bf"/>
<path d="M118.5 250.9 121.1 250.5 127.6 256.7 125 257.2z" fill="#40f5bf"/>
<path d="M138.1 254.9 140.7 253.8 147.1 261.2 144.5 262.8z" fill="#00ffff"/>
<path d="M157.6 255.5 160.2 254.5 166.7 259.6 164.1 260.9z" fill="#00ffff"/>
<path d="M177.2 252.2 179.8 247.8 186.2 248.8 183.6 254.4z" fill="#00ffff"/>
<path d="M57.2 249 59.8 248.5 66.3 252.8 63.7 253.4z" fill="#a5e14b"/>
<path d="M76.8 250.4 79.4 249.8 85.9 252.9 83.2 253.5z" fill="#a5e14b"/>
<path d="M96.3 250.3 99 249.7 105.4 253.3 102.8 253.9z" fill="#40f5bf"/>
<path d="M115.9 251.4 118.5 250.9 125 257.2 122.3 257.6z" fill="#40f5bf"/>
<path d="M135.4 255.6 138.1 254.9 144.5 262.8 141.9 263.7z" fill="#00ffff"/>
<path d="M155 257 157.6 255.5 164.1 260.9 161.5 263.1z" fill="#00ffff"/>
<path d="M174.6 253.1 177.2 252.2 183.6 254.4 181 255.4z" fill="#00ffff"/>
<path d="M54.6 249.5 57.2 249 63.7 253.4 61.1 254z" fill="#a5e14b"/>
<path d="M74.2 251 76.8 250.4 83.2 253.5 80.6 254.2z" fill="#a5e14b"/>
<path d="M93.7 250.8 96.3 250.3 102.8 253.9 100.2 254.5z" fill="#40f5bf"/>
<path d="M113.3 251.8 115.9 251.4 122.3 257.6 119.7 258.1z" fill="#40f5bf"/>
<path d="M132.8 256.2 135.4 255.6 141.9 263.7 139.3 264.6z" fill="#00ffff"/>
<path d="M152.4 257.9 155 257 161.5 263.1 158.8 264.2z" fill="#00ffff"/>
<path d="M171.9 256.9 174.6 253.1 181 255.4 178.4 260.1z" fill="#00ffff"/>
<path d="M52 249.1 54.6 249.5 61.1 254 58.4 253.8z" fill="#a5e14b"/>
<path d="M71.5 251.6 74.2 251 80.6 254.2 78 254.8z" fill="#a5e14b"/>
<path d="M91.1 251.5 93.7 250.8 100.2 254.5 97.5 255.1z" fill="#40f5bf"/>
<path d="M110.7 252.3 113.3 251.8 119.7 258.1 117.1 258.7z" fill="#00ffff"/>
<path d="M130.2 256.3 132.8 256.2 139.3 264.6 136.7 264.3z" fill="#00ffff"/>
<path d="M149.8 259.6 152.4 257.9 158.8 264.2 156.2 266.7z" fill="#00ffff"/>
<path d="M169.3 257.6 171.9 256.9 178.4 260.1 175.8 260.8z" fill="#00ffff"/>
<path d="M49.4 248.1 52 249.1 58.4 253.8 55.8 253z" fill="#a5e14b"/>
<path d="M68.9 252.3 71.5 251.6 78 254.8 75.4 255.5z" fill="#a5e14b"/>
<path d="M88.5 252.2 91.1 251.5 97.5 255.1 94.9 255.8z" fill="#40f5bf"/>
<path d="M108 252.9 110.7 252.3 117.1 258.7 114.5 259.4z" fill="#00ffff"/>
<path d="M127.6 256.7 130.2 256.3 136.7 264.3 134 264.7z" fill="#00ffff"/>
<path d="M147.1 261.2 149.8 259.6 156.2 266.7 153.6 269.1z" fill="#00ffff"/>
<path d="M166.7 259.6 169.3 257.6 175.8 260.8 173.1 263.3z" fill="#00ffff"/>
<path d="M46.7 247.2 49.4 248.1 55.8 253 53.2 252.1z" fill="#a5e14b"/>
<path d="M66.3 252.8 68.9 252.3 75.4 255.5 72.7 256.1z" fill="#a5e14b"/>
<path d="M85.9 252.9 88.5 252.2 94.9 255.8 92.3 256.5z" fill="#40f5bf"/>
<path d="M105.4 253.3 108 252.9 114.5 259.4 111.9 260z" fill="#00ffff"/>
<path d="M125 257.2 127.6 256.7 134 264.7 131.4 265.2z" fill="#00ffff"/>
<path d="M144.5 262.8 147.1 261.2 153.6 269.1 151 271.5z" fill="#00ffff"/>
<path d="M164.1 260.9 166.7 259.6 173.1 263.3 170.5 264.8z" fill="#00ffff"/>
<path d="M183.6 254.4 186.2 248.8 192.7 249.8 190.1 256.1z" fill="#00ffff"/>
<path d="M44.1 246.2 46.7 247.2 53.2 252.1 50.6 251.2z" fill="#a5e14b"/>
<path d="M63.7 253.4 66.3 252.8 72.7 256.1 70.1 256.7z" fill="#a5e14b"/>
<path d="M83.2 253.5 85.9 252.9 92.3 256.5 89.7 257.2z" fill="#40f5bf"/>
<path d="M102.8 253.9 105.4 253.3 111.9 260 109.2 260.5z" fill="#00ffff"/>
<path d="M122.3 257.6 125 257.2 131.4 265.2 128.8 265.5z" fill="#00ffff"/>
<path d="M141.9 263.7 144.5 262.8 151 271.5 148.3 272.7z" fill="#00ffff"/>
<path d="M161.5 263.1 164.1 260.9 170.5 264.8 167.9 267.5z" fill="#00ffff"/>
<path d="M181 255.4 183.6 254.4 190.1 256.1 187.5 257.2z" fill="#00ffff"/>
<path d="M41.5 245.3 44.1 246.2 50.6 251.2 48 250.4z" fill="#a5e14b"/>
<path d="M61.1 254 63.7 253.4 70.1 256.7 67.5 257.3z" fill="#a5e14b"/>
<path d="M80.6 254.2 83.2 253.5 89.7 257.2 87.1 257.8z" fill="#40f5bf"/>
<path d="M100.2 254.5 102.8 253.9 109.2 260.5 106.6 261.2z" fill="#00ffff"/>
<path d="M119.7 258.1 122.3 257.6 128.8 265.5 126.2 266z" fill="#00ffff"/>
<path d="M139.3 264.6 141.9 263.7 148.3 272.7 145.7 273.9z" fill="#00ffff"/>
<path d="M158.8 264.2 161.5 263.1 167.9 267.5 165.3 268.7z" fill="#00ffff"/>
<path d="M178.4 260.1 181 255.4 187.5 257.2 184.8 262.5z" fill="#00ffff"/>
<path d="M58.4 253.8 61.1 254 67.5 257.3 64.9 257.2z" fill="#a5e14b"/>
<path d="M78 254.8 80.6 254.2 87.1 257.8 84.4 258.5z" fill="#40f5bf"/>
<path d="M97.5 255.1 100.2 254.5 106.6 261.2 104 262z" fill="#00ffff"/>
<path d="M117.1 258.7 119.7 258.1 126.2 266 123.5 266.9z" fill="#00ffff"/>
<path d="M136.7 264.3 139.3 264.6 145.7 273.9 143.1 273z" fill="#00ffff"/>
<path d="M156.2 266.7 158.8 264.2 165.3 268.7 162.7 271.8z" fill="#00ffff"/>
<path d="M175.8 260.8 178.4 260.1 184.8 262.5 182.2 263.3z" fill="#00ffff"/>
<path d="M55.8 253 58.4 253.8 64.9 257.2 62.3 256.5z" fill="#a5e14b"/>
<path d="M75.4 255.5 78 254.8 84.4 258.5 81.8 259.1z" fill="#40f5bf"/>
<path d="M94.9 255.8 97.5 255.1 104 262 101.4 262.9z" fill="#00ffff"/>
<path d="M114.5 259.4 117.1 258.7 123.5 266.9 120.9 267.9z" fill="#00ffff"/>
<path d="M134 264.7 136.7 264.3 143.1 273 140.5 273.3z" fill="#00ffff"/>
<path d="M153.6 269.1 156.2 266.7 162.7 271.8 160 274.7z" fill="#00ffff"/>
<path d="M173.1 263.3 175.8 260.8 182.2 263.3 179.6 266.1z" fill="#00ffff"/>
<path d="M53.2 252.1 55.8 253 62.3 256.5 59.6 255.6z" fill="#a5e14b"/>
<path d="M72.7 256.1 75.4 255.5 81.8 259.1 79.2 259.8z" fill="#40f5bf"/>
<path d="M92.3 256.5 94.9 255.8 101.4 262.9 98.8 263.8z" fill="#00ffff"/>
<path d="M111.9 260 114.5 259.4 120.9 267.9 118.3 268.5z" fill="#00ffff"/>
<path d="M131.4 265.2 134 264.7 140.5 273.3 137.9 274z" fill="#00ffff"/>
<path d="M151 271.5 153.6 269.1 160 274.7 157.4 277.6z" fill="#00ffff"/>
<path d="M170.5 264.8 173.1 263.3 179.6 266.1 177 267.7z" fill="#00ffff"/>
<path d="M190.1 256.1 192.7 249.8 199.2 250.9 196.5 258z" fill="#00ffff"/>
<path d="M50.6 251.2 53.2 252.1 59.6 255.6 57 254.8z" fill="#a5e14b"/>
<path d="M70.1 256.7 72.7 256.1 79.2 259.8 76.6 260.4z" fill="#40f5bf"/>
<path d="M89.7 257.2 92.3 256.5 98.8 263.8 96.1 264.7z" fill="#00ffff"/>
<path d="M109.2 260.5 111.9 260 118.3 268.5 115.7 269.2z" fill="#00ffff"/>
<path d="M128.8 265.5 131.4 265.2 137.9 274 135.2 274.1z" fill="#00ffff"/>
<path d="M148.3 272.7 151 271.5 157.4 277.6 154.8 279z" fill="#00ffff"/>
<path d="M167.9 267.5 170.5 264.8 177 267.7 174.4 270.8z" fill="#00ffff"/>
<path d="M187.5 257.2 190.1 256.1 196.5 258 193.9 259.1z" fill="#00ffff"/>
<path d="M48 250.4 50.6 251.2 57 254.8 54.4 254.1z" fill="#40f5bf"/>
<path d="M67.5 257.3 70.1 256.7 76.6 260.4 74 261z" fill="#40f5bf"/>
<path d="M87.1 257.8 89.7 257.2 96.1 264.7 93.5 265.5z" fill="#00ffff"/>
<path d="M106.6 261.2 109.2 260.5 115.7 269.2 113.1 270z" fill="#00ffff"/>
<path d="M126.2 266 128.8 265.5 135.2 274.1 132.6 274.8z" fill="#00ffff"/>
<path d="M145.7 273.9 148.3 272.7 154.8 279 152.2 280.4z" fill="#00ffff"/>
<path d="M165.3 268.7 167.9 267.5 174.4 270.8 171.7 272.1z" fill="#00ffff"/>
<path d="M184.8 262.5 187.5 257.2 193.9 259.1 191.3 265z" fill="#00ffff"/>
<path d="M64.9 257.2 67.5 257.3 74 261 71.3 260.9z" fill="#40f5bf"/>
<path d="M84.4 258.5 87.1 257.8 93.5 265.5 90.9 266.4z" fill="#00ffff"/>
<path d="M104 262 106.6 261.2 113.1 270 110.4 271z" fill="#00ffff"/>
<path d="M123.5 266.9 126.2 266 132.6 274.8 130 276z" fill="#00ffff"/>
<path d="M143.1 273 145.7 273.9 152.2 280.4 149.6 279.2z" fill="#00ffff"/>
<path d="M162.7 271.8 165.3 268.7 171.7 272.1 169.1 275.5z" fill="#00ffff"/>
<path d="M182.2 263.3 184.8 262.5 191.3 265 188.7 265.9z" fill="#00ffff"/>
<path d="M62.3 256.5 64.9 257.2 71.3 260.9 68.7 260.2z" fill="#40f5bf"/>
<path d="M81.8 259.1 84.4 258.5 90.9 266.4 88.3 267.4z" fill="#00ffff"/>
<path d="M101.4 262.9 104 262 110.4 271 107.8 272.2z" fill="#00ffff"/>
<path d="M120.9 267.9 123.5 266.9 130 276 127.4 277.3z" fill="#00ffff"/>
<path d="M140.5 273.3 143.1 273 149.6 279.2 146.9 279.4z" fill="#00ffff"/>
<path d="M160 274.7 162.7 271.8 169.1 275.5 166.5 278.9z" fill="#00ffff"/>
<path d="M179.6 266.1 182.2 263.3 188.7 265.9 186 268.9z" fill="#00ffff"/>
<path d="M59.6 255.6 62.3 256.5 68.7 260.2 66.1 259.3z" fill="#40f5bf"/>
<path d="M79.2 259.8 81.8 259.1 88.3 267.4 85.6 268.2z" fill="#00ffff"/>
<path d="M98.8 263.8 101.4 262.9 107.8 272.2 105.2 273.6z" fill="#00ffff"/>
<path d="M118.3 268.5 120.9 267.9 127.4 277.3 124.8 278.1z" fill="#00ffff"/>
<path d="M137.9 274 140.5 273.3 146.9 279.4 144.3 280.1z" fill="#00ffff"/>
<path d="M157.4 277.6 160 274.7 166.5 278.9 163.9 282.1z" fill="#00ffff"/>
<path d="M177 267.7 179.6 266.1 186 268.9 183.4 270.7z" fill="#00ffff"/>
<path d="M196.5 258 199.2 250.9 205.6 252.2 203 259.5z" fill="#00ffff"/>
<path d="M57 254.8 59.6 255.6 66.1 259.3 63.5 258.5z" fill="#40f5bf"/>
<path d="M76.6 260.4 79.2 259.8 85.6 268.2 83 269z" fill="#00ffff"/>
<path d="M96.1 264.7 98.8 263.8 105.2 273.6 102.6 274.9z" fill="#00ffff"/>
<path d="M115.7 269.2 118.3 268.5 124.8 278.1 122.1 278.9z" fill="#00ffff"/>
<path d="M135.2 274.1 137.9 274 144.3 280.1 141.7 280.2z" fill="#00ffff"/>
<path d="M154.8 279 157.4 277.6 163.9 282.1 161.2 283.7z" fill="#00ffff"/>
<path d="M174.4 270.8 177 267.7 183.4 270.7 180.8 274.1z" fill="#00ffff"/>
<path d="M193.9 259.1 196.5 258 203 259.5 200.4 260.6z" fill="#00ffff"/>
<path d="M54.4 254.1 57 254.8 63.5 258.5 60.9 257.8z" fill="#40f5bf"/>
<path d="M74 261 76.6 260.4 83 269 80.4 269.8z" fill="#00ffff"/>
<path d="M93.5 265.5 96.1 264.7 102.6 274.9 100 276z" fill="#00ffff"/>
<path d="M113.1 270 115.7 269.2 122.1 278.9 119.5 279.8z" fill="#00ffff"/>
<path d="M132.6 274.8 135.2 274.1 141.7 280.2 139.1 280.9z" fill="#00ffff"/>
<path d="M152.2 280.4 154.8 279 161.2 283.7 158.6 285.2z" fill="#00ffff"/>
<path d="M171.7 272.1 174.4 270.8 180.8 274.1 178.2 275.4z" fill="#00ffff"/>
<path d="M191.3 265 193.9 259.1 200.4 260.6 197.7 266.8z" fill="#00ffff"/>
<path d="M71.3 260.9 74 261 80.4 269.8 77.8 270.3z" fill="#00ffff"/>
<path d="M90.9 266.4 93.5 265.5 100 276 97.3 277.3z" fill="#00ffff"/>
<path d="M110.4 271 113.1 270 119.5 279.8 116.9 281.2z" fill="#00ffff"/>
<path d="M130 276 132.6 274.8 139.1 280.9 136.4 282.3z" fill="#00ffff"/>
<path d="M149.6 279.2 152.2 280.4 158.6 285.2 156 283.8z" fill="#00ffff"/>
<path d="M169.1 275.5 171.7 272.1 178.2 275.4 175.6 279.3z" fill="#00ffff"/>
<path d="M188.7 265.9 191.3 265 197.7 266.8 195.1 267.6z" fill="#00ffff"/>
<path d="M68.7 260.2 71.3 260.9 77.8 270.3 75.2 269.9z" fill="#00ffff"/>
<path d="M88.3 267.4 90.9 266.4 97.3 277.3 94.7 278.8z" fill="#00ffff"/>
<path d="M107.8 272.2 110.4 271 116.9 281.2 114.3 283z" fill="#00ffff"/>
<path d="M127.4 277.3 130 276 136.4 282.3 133.8 283.9z" fill="#00ffff"/>
<path d="M146.9 279.4 149.6 279.2 156 283.8 153.4 284z" fill="#00ffff"/>
<path d="M166.5 278.9 169.1 275.5 175.6 279.3 172.9 282.9z" fill="#00ffff"/>
<path d="M186 268.9 188.7 265.9 195.1 267.6 192.5 270.8z" fill="#00ffff"/>
<path d="M66.1 259.3 68.7 260.2 75.2 269.9 72.5 269.2z" fill="#00ffff"/>
<path d="M85.6 268.2 88.3 267.4 94.7 278.8 92.1 280z" fill="#00ffff"/>
<path d="M105.2 273.6 107.8 272.2 114.3 283 111.7 284.9z" fill="#00ffff"/>
<path d="M124.8 278.1 127.4 277.3 133.8 283.9 131.2 284.9z" fill="#00ffff"/>
<path d="M144.3 280.1 146.9 279.4 153.4 284 150.8 284.7z" fill="#00ffff"/>
<path d="M163.9 282.1 166.5 278.9 172.9 282.9 170.3 286.5z" fill="#00ffff"/>
<path d="M183.4 270.7 186 268.9 192.5 270.8 189.9 272.6z" fill="#00ffff"/>
<path d="M63.5 258.5 66.1 259.3 72.5 269.2 69.9 268.5z" fill="#00ffff"/>
<path d="M83 269 85.6 268.2 92.1 280 89.5 281.1z" fill="#00ffff"/>
<path d="M102.6 274.9 105.2 273.6 111.7 284.9 109 286.8z" fill="#00ffff"/>
<path d="M122.1 278.9 124.8 278.1 131.2 284.9 128.6 285.7z" fill="#00ffff"/>
<path d="M141.7 280.2 144.3 280.1 150.8 284.7 148.1 284.8z" fill="#00ffff"/>
<path d="M161.2 283.7 163.9 282.1 170.3 286.5 167.7 288.2z" fill="#00ffff"/>
<path d="M180.8 274.1 183.4 270.7 189.9 272.6 187.3 276.1z" fill="#00ffff"/>
<path d="M60.9 257.8 63.5 258.5 69.9 268.5 67.3 268.2z" fill="#00ffff"/>
<path d="M80.4 269.8 83 269 89.5 281.1 86.9 282.3z" fill="#00ffff"/>
<path d="M100 276 102.6 274.9 109 286.8 106.4 288.3z" fill="#00ffff"/>
<path d="M119.5 279.8 122.1 278.9 128.6 285.7 126 286.8z" fill="#00ffff"/>
<path d="M139.1 280.9 141.7 280.2 148.1 284.8 145.5 285.5z" fill="#00ffff"/>
<path d="M158.6 285.2 161.2 283.7 167.7 288.2 165.1 289.8z" fill="#00ffff"/>
<path d="M178.2 275.4 180.8 274.1 187.3 276.1 184.6 277.4z" fill="#00ffff"/>
<path d="M77.8 270.3 80.4 269.8 86.9 282.3 84.2 283.8z" fill="#00ffff"/>
<path d="M97.3 277.3 100 276 106.4 288.3 103.8 290.2z" fill="#00ffff"/>
<path d="M116.9 281.2 119.5 279.8 126 286.8 123.3 288.4z" fill="#00ffff"/>
<path d="M136.4 282.3 139.1 280.9 145.5 285.5 142.9 287.1z" fill="#00ffff"/>
<path d="M156 283.8 158.6 285.2 165.1 289.8 162.5 288.2z" fill="#00ffff"/>
<path d="M175.6 279.3 178.2 275.4 184.6 277.4 182 281.4z" fill="#00ffff"/>
<path d="M75.2 269.9 77.8 270.3 84.2 283.8 81.6 284z" fill="#00ffff"/>
<path d="M94.7 278.8 97.3 277.3 103.8 290.2 101.2 292.4z" fill="#00ffff"/>
<path d="M114.3 283 116.9 281.2 123.3 288.4 120.7 290.5z" fill="#00ffff"/>
<path d="M133.8 283.9 136.4 282.3 142.9 287.1 140.3 288.8z" fill="#00ffff"/>
<path d="M153.4 284 156 283.8 162.5 288.2 159.8 288.3z" fill="#00ffff"/>
<path d="M172.9 282.9 175.6 279.3 182 281.4 179.4 285.2z" fill="#00ffff"/>
<path d="M72.5 269.2 75.2 269.9 81.6 284 79 283.6z" fill="#00ffff"/>
<path d="M92.1 280 94.7 278.8 101.2 292.4 98.5 294.1z" fill="#00ffff"/>
<path d="M111.7 284.9 114.3 283 120.7 290.5 118.1 292.8z" fill="#00ffff"/>
<path d="M131.2 284.9 133.8 283.9 140.3 288.8 137.7 289.9z" fill="#00ffff"/>
<path d="M150.8 284.7 153.4 284 159.8 288.3 157.2 289.1z" fill="#00ffff"/>
<path d="M170.3 286.5 172.9 282.9 179.4 285.2 176.8 288.9z" fill="#00ffff"/>
<path d="M69.9 268.5 72.5 269.2 79 283.6 76.4 283.2z" fill="#00ffff"/>
<path d="M89.5 281.1 92.1 280 98.5 294.1 95.9 295.8z" fill="#00ffff"/>
<path d="M109 286.8 111.7 284.9 118.1 292.8 115.5 295z" fill="#00ffff"/>
<path d="M128.6 285.7 131.2 284.9 137.7 289.9 135 290.7z" fill="#00ffff"/>
<path d="M148.1 284.8 150.8 284.7 157.2 289.1 154.6 289.1z" fill="#00ffff"/>
<path d="M167.7 288.2 170.3 286.5 176.8 288.9 174.1 290.7z" fill="#00ffff"/>
<path d="M67.3 268.2 69.9 268.5 76.4 283.2 73.8 283.4z" fill="#00ffff"/>
<path d="M86.9 282.3 89.5 281.1 95.9 295.8 93.3 297.6z" fill="#00ffff"/>
<path d="M106.4 288.3 109 286.8 115.5 295 112.9 296.9z" fill="#00ffff"/>
<path d="M126 286.8 128.6 285.7 135 290.7 132.4 291.9z" fill="#00ffff"/>
<path d="M145.5 285.5 148.1 284.8 154.6 289.1 152 289.9z" fill="#00ffff"/>
<path d="M165.1 289.8 167.7 288.2 174.1 290.7 171.5 292.3z" fill="#00ffff"/>
<path d="M84.2 283.8 86.9 282.3 93.3 297.6 90.7 300.4z" fill="#00ffff"/>
<path d="M103.8 290.2 106.4 288.3 112.9 296.9 110.2 299.2z" fill="#00ffff"/>
<path d="M123.3 288.4 126 286.8 132.4 291.9 129.8 293.7z" fill="#00ffff"/>
<path d="M142.9 287.1 145.5 285.5 152 289.9 149.3 291.6z" fill="#00ffff"/>
<path d="M162.5 288.2 165.1 289.8 171.5 292.3 168.9 290.6z" fill="#00ffff"/>
<path d="M81.6 284 84.2 283.8 90.7 300.4 88.1 301.5z" fill="#00ffff"/>
<path d="M101.2 292.4 103.8 290.2 110.2 299.2 107.6 301.9z" fill="#00ffff"/>
<path d="M120.7 290.5 123.3 288.4 129.8 293.7 127.2 296.1z" fill="#00ffff"/>
<path d="M140.3 288.8 142.9 287.1 149.3 291.6 146.7 293.6z" fill="#00ffff"/>
<path d="M159.8 288.3 162.5 288.2 168.9 290.6 166.3 290.7z" fill="#00ffff"/>
<path d="M79 283.6 81.6 284 88.1 301.5 85.4 301.6z" fill="#00ffff"/>
<path d="M98.5 294.1 101.2 292.4 107.6 301.9 105 304z" fill="#00ffff"/>
<path d="M118.1 292.8 120.7 290.5 127.2 296.1 124.6 298.7z" fill="#00ffff"/>
<path d="M137.7 289.9 140.3 288.8 146.7 293.6 144.1 294.6z" fill="#00ffff"/>
<path d="M157.2 289.1 159.8 288.3 166.3 290.7 163.7 291.5z" fill="#00ffff"/>
<path d="M76.4 283.2 79 283.6 85.4 301.6 82.8 301.5z" fill="#00ffff"/>
<path d="M95.9 295.8 98.5 294.1 105 304 102.4 306.1z" fill="#00ffff"/>
<path d="M115.5 295 118.1 292.8 124.6 298.7 121.9 301.1z" fill="#00ffff"/>
<path d="M135 290.7 137.7 289.9 144.1 294.6 141.5 295.5z" fill="#00ffff"/>
<path d="M154.6 289.1 157.2 289.1 163.7 291.5 161 291.5z" fill="#00ffff"/>
<path d="M73.8 283.4 76.4 283.2 82.8 301.5 80.2 302.7z" fill="#00ffff"/>
<path d="M93.3 297.6 95.9 295.8 102.4 306.1 99.8 308.1z" fill="#00ffff"/>
<path d="M112.9 296.9 115.5 295 121.9 301.1 119.3 303.2z" fill="#00ffff"/>
<path d="M132.4 291.9 135 290.7 141.5 295.5 138.9 296.8z" fill="#00ffff"/>
<path d="M152 289.9 154.6 289.1 161 291.5 158.4 292.3z" fill="#00ffff"/>
<path d="M90.7 300.4 93.3 297.6 99.8 308.1 97.1 311.9z" fill="#00ffff"/>
<path d="M110.2 299.2 112.9 296.9 119.3 303.2 116.7 305.8z" fill="#00ffff"/>
<path d="M129.8 293.7 132.4 291.9 138.9 296.8 136.2 298.7z" fill="#00ffff"/>
<path d="M149.3 291.6 152 289.9 158.4 292.3 155.8 294z" fill="#00ffff"/>
<path d="M88.1 301.5 90.7 300.4 97.1 311.9 94.5 313.6z" fill="#00ffff"/>
<path d="M107.6 301.9 110.2 299.2 116.7 305.8 114.1 308.9z" fill="#00ffff"/>
<path d="M127.2 296.1 129.8 293.7 136.2 298.7 133.6 301.3z" fill="#00ffff"/>
<path d="M146.7 293.6 149.3 291.6 155.8 294 153.2 296z" fill="#00ffff"/>
<path d="M85.4 301.6 88.1 301.5 94.5 313.6 91.9 314z" fill="#00ffff"/>
<path d="M105 304 107.6 301.9 114.1 308.9 111.4 311.2z" fill="#00ffff"/>
<path d="M124.6 298.7 127.2 296.1 133.6 301.3 131 304.2z" fill="#00ffff"/>
<path d="M144.1 294.6 146.7 293.6 153.2 296 150.6 297.2z" fill="#00ffff"/>
<path d="M82.8 301.5 85.4 301.6 91.9 314 89.3 314.2z" fill="#00ffff"/>
<path d="M102.4 306.1 105 304 111.4 311.2 108.8 313.5z" fill="#00ffff"/>
<path d="M121.9 301.1 124.6 298.7 131 304.2 128.4 306.9z" fill="#00ffff"/>
<path d="M141.5 295.5 144.1 294.6 150.6 297.2 147.9 298.1z" fill="#00ffff"/>
<path d="M80.2 302.7 82.8 301.5 89.3 314.2 86.7 316z" fill="#00ffff"/>
<path d="M99.8 308.1 102.4 306.1 108.8 313.5 106.2 315.8z" fill="#00ffff"/>
<path d="M119.3 303.2 121.9 301.1 128.4 306.9 125.8 309.1z" fill="#00ffff"/>
<path d="M138.9 296.8 141.5 295.5 147.9 298.1 145.3 299.4z" fill="#00ffff"/>
<path d="M97.1 311.9 99.8 308.1 106.2 315.8 103.6 320.3z" fill="#00ffff"/>
<path d="M116.7 305.8 119.3 303.2 125.8 309.1 123.1 312z" fill="#00ffff"/>
<path d="M136.2 298.7 138.9 296.8 145.3 299.4 142.7 301.3z" fill="#00ffff"/>
<path d="M94.5 313.6 97.1 311.9 103.6 320.3 101 322.4z" fill="#00ffff"/>
<path d="M114.1 308.9 116.7 305.8 123.1 312 120.5 315.4z" fill="#00ffff"/>
<path d="M133.6 301.3 136.2 298.7 142.7 301.3 140.1 304z" fill="#00ffff"/>
<path d="M91.9 314 94.5 313.6 101 322.4 98.3 323z" fill="#00ffff"/>
<path d="M111.4 311.2 114.1 308.9 120.5 315.4 117.9 317.9z" fill="#00ffff"/>
<path d="M131 304.2 133.6 301.3 140.1 304 137.5 307z" fill="#00ffff"/>
<path d="M89.3 314.2 91.9 314 98.3 323 95.7 323.4z" fill="#00ffff"/>
<path d="M108.8 313.5 111.4 311.2 117.9 317.9 115.3 320.5z" fill="#00ffff"/>
<path d="M128.4 306.9 131 304.2 137.5 307 134.8 309.8z" fill="#00ffff"/>
<path d="M86.7 316 89.3 314.2 95.7 323.4 93.1 325.6z" fill="#00ffff"/>
<path d="M106.2 315.8 108.8 313.5 115.3 320.5 112.7 323z" fill="#00ffff"/>
<path d="M125.8 309.1 128.4 306.9 134.8 309.8 132.2 312z" fill="#00ffff"/>
<path d="M103.6 320.3 106.2 315.8 112.7 323 110 328.1z" fill="#00ffff"/>
<path d="M123.1 312 125.8 309.1 132.2 312 129.6 315.1z" fill="#00ffff"/>
<path d="M101 322.4 103.6 320.3 110 328.1 107.4 330.6z" fill="#00ffff"/>
<path d="M120.5 315.4 123.1 312 129.6 315.1 127 318.5z" fill="#00ffff"/>
<path d="M98.3 323 101 322.4 107.4 330.6 104.8 331.3z" fill="#00ffff"/>
<path d="M117.9 317.9 120.5 315.4 127 318.5 124.3 321.2z" fill="#00ffff"/>
<path d="M95.7 323.4 98.3 323 104.8 331.3 102.2 332z" fill="#00ffff"/>
<path d="M115.3 320.5 117.9 317.9 124.3 321.2 121.7 323.8z" fill="#00ffff"/>
<path d="M93.1 325.6 95.7 323.4 102.2 332 99.6 334.5z" fill="#00ffff"/>
<path d="M112.7 323 115.3 320.5 121.7 323.8 119.1 326.4z" fill="#00ffff"/>
<path d="M110 328.1 112.7 323 119.1 326.4 116.5 331.7z" fill="#00ffff"/>
<path d="M107.4 330.6 110 328.1 116.5 331.7 113.9 334.3z" fill="#00ffff"/>
<path d="M104.8 331.3 107.4 330.6 113.9 334.3 111.2 335.1z" fill="#00ffff"/>
<path d="M102.2 332 104.8 331.3 111.2 335.1 108.6 335.8z" fill="#00ffff"/>
<path d="M99.6 334.5 102.2 332 108.6 335.8 106 338.5z" fill="#00ffff"/>
</g>


<text x="1.2" y="195.9" class="lt">D</text>
<text x="117" y="206.1" text-anchor="middle" class="tt" textLength="22.9" lengthAdjust="spacingAndGlyphs">K-SFM</text>
<text x="115.8" y="217.1" text-anchor="middle" class="tt" textLength="43.2" lengthAdjust="spacingAndGlyphs">30,000 cells</text>
<path d="M271.2 236.3V317.2L349.9 354.5L454.7 326.2" fill="none" stroke="#444" stroke-width="0.65"/>
<text transform="translate(266.9 237.9) scale(0.85 1)" text-anchor="end" class="tl">0.02</text>
<text transform="translate(266.9 251.3) scale(0.85 1)" text-anchor="end" class="tl">0</text>
<text transform="translate(266.9 264.8) scale(0.85 1)" text-anchor="end" class="tl">-0.02</text>
<text transform="translate(266.9 278.3) scale(0.85 1)" text-anchor="end" class="tl">-0.04</text>
<text transform="translate(266.9 291.8) scale(0.85 1)" text-anchor="end" class="tl">-0.06</text>
<text transform="translate(266.9 305.3) scale(0.85 1)" text-anchor="end" class="tl">-0.08</text>
<text transform="translate(266.9 318.8) scale(0.85 1)" text-anchor="end" class="tl">-0.1</text>
<path d="M271.2 236.3h-1.5 M271.2 249.8h-1.5 M271.2 263.3h-1.5 M271.2 276.8h-1.5 M271.2 290.2h-1.5 M271.2 303.7h-1.5 M271.2 317.2h-1.5" stroke="#333" stroke-width="0.4"/>
<path d="M281 321.9l1.5 -0.4 M290.9 326.5l1.5 -0.4 M300.7 331.2l1.5 -0.4 M310.5 335.9l1.5 -0.4 M320.4 340.5l1.5 -0.4 M330.2 345.2l1.5 -0.4 M340.1 349.8l1.5 -0.4 M363 351l-1.4 -0.7 M376.1 347.4l-1.4 -0.7 M389.2 343.9l-1.4 -0.7 M402.3 340.4l-1.4 -0.7 M415.4 336.8l-1.4 -0.7 M428.5 333.3l-1.4 -0.7 M441.6 329.7l-1.4 -0.7" stroke="#333" stroke-width="0.4"/>
<text transform="translate(266.2 322.8) scale(0.85 1)" text-anchor="middle" class="tl">2</text>
<text transform="translate(277.7 329.1) scale(0.85 1)" text-anchor="middle" class="tl">2.5</text>
<text transform="translate(292.8 335.1) scale(0.85 1)" text-anchor="middle" class="tl">3</text>
<text transform="translate(304.6 341.4) scale(0.85 1)" text-anchor="middle" class="tl">3.5</text>
<text transform="translate(318.9 347.7) scale(0.85 1)" text-anchor="middle" class="tl">4</text>
<text transform="translate(330.2 353.7) scale(0.85 1)" text-anchor="middle" class="tl">4.5</text>
<text transform="translate(345 358.9) scale(0.85 1)" text-anchor="middle" class="tl">6</text>
<text transform="translate(356.8 360.4) scale(0.85 1)" text-anchor="middle" class="tl">-14</text>
<text transform="translate(369.4 356.4) scale(0.85 1)" text-anchor="middle" class="tl">-12</text>
<text transform="translate(381.9 352.9) scale(0.85 1)" text-anchor="middle" class="tl">-10</text>
<text transform="translate(394.5 349.7) scale(0.85 1)" text-anchor="middle" class="tl">-8</text>
<text transform="translate(407 345.9) scale(0.85 1)" text-anchor="middle" class="tl">-6</text>
<text transform="translate(419.6 342.9) scale(0.85 1)" text-anchor="middle" class="tl">-4</text>
<text transform="translate(432.9 338.9) scale(0.85 1)" text-anchor="middle" class="tl">-2</text>
<text transform="translate(444.7 335.4) scale(0.85 1)" text-anchor="middle" class="tl">0</text>
<text transform="translate(457.2 332.1) scale(0.85 1)" text-anchor="middle" class="tl">2</text>
<text x="291.3" y="362" text-anchor="middle" class="al">Log. Frequency (Hz)</text>
<text x="405.8" y="363.8" text-anchor="middle" class="al">Time (hrs)</text>
<text transform="translate(255.7 277.5) rotate(-90)" text-anchor="middle" class="al">Log. Norm. Impedance</text>
<g stroke="#000" stroke-width="0.28" stroke-linejoin="round">
<path d="M379.7 229.2 382.1 228.4 388.5 231.2 386.2 232.1z" fill="#89f550"/>
<path d="M377.4 230 379.7 229.2 386.2 232.1 383.8 232.9z" fill="#89f550"/>
<path d="M375 230.8 377.4 230 383.8 232.9 381.4 233.7z" fill="#89f550"/>
<path d="M372.7 231.6 375 230.8 381.4 233.7 379.1 234.6z" fill="#89f550"/>
<path d="M370.3 232.4 372.7 231.6 379.1 234.6 376.7 235.5z" fill="#89f550"/>
<path d="M367.9 232.9 370.3 232.4 376.7 235.5 374.4 236.1z" fill="#89f550"/>
<path d="M386.2 232.1 388.5 231.2 394.9 234 392.6 235z" fill="#89f550"/>
<path d="M365.6 233.3 367.9 232.9 374.4 236.1 372 236.5z" fill="#89f550"/>
<path d="M383.8 232.9 386.2 232.1 392.6 235 390.2 235.9z" fill="#89f550"/>
<path d="M363.2 233.7 365.6 233.3 372 236.5 369.6 237z" fill="#89f550"/>
<path d="M381.4 233.7 383.8 232.9 390.2 235.9 387.8 236.8z" fill="#89f550"/>
<path d="M360.9 234.1 363.2 233.7 369.6 237 367.3 237.4z" fill="#88f551"/>
<path d="M379.1 234.6 381.4 233.7 387.8 236.8 385.5 237.7z" fill="#88f552"/>
<path d="M358.5 234.5 360.9 234.1 367.3 237.4 364.9 237.9z" fill="#87f553"/>
<path d="M376.7 235.5 379.1 234.6 385.5 237.7 383.1 238.7z" fill="#82f558"/>
<path d="M356.1 234.9 358.5 234.5 364.9 237.9 362.6 238.3z" fill="#86f554"/>
<path d="M374.4 236.1 376.7 235.5 383.1 238.7 380.8 239.5z" fill="#7ef55c"/>
<path d="M353.8 235.3 356.1 234.9 362.6 238.3 360.2 238.8z" fill="#85f555"/>
<path d="M392.6 235 394.9 234 401.3 236.8 399 238.1z" fill="#89f550"/>
<path d="M372 236.5 374.4 236.1 380.8 239.5 378.4 240z" fill="#7cf55e"/>
<path d="M351.4 235.8 353.8 235.3 360.2 238.8 357.8 239.2z" fill="#83f557"/>
<path d="M390.2 235.9 392.6 235 399 238.1 396.6 238.9z" fill="#89f550"/>
<path d="M369.6 237 372 236.5 378.4 240 376 240.6z" fill="#7bf560"/>
<path d="M349.1 236.2 351.4 235.8 357.8 239.2 355.5 239.7z" fill="#83f558"/>
<path d="M387.8 236.8 390.2 235.9 396.6 238.9 394.3 239.9z" fill="#85f555"/>
<path d="M367.3 237.4 369.6 237 376 240.6 373.7 241.1z" fill="#79f562"/>
<path d="M346.7 236.6 349.1 236.2 355.5 239.7 353.1 240.2z" fill="#82f558"/>
<path d="M385.5 237.7 387.8 236.8 394.3 239.9 391.9 240.9z" fill="#80f55b"/>
<path d="M364.9 237.9 367.3 237.4 373.7 241.1 371.3 241.6z" fill="#78f563"/>
<path d="M344.3 237 346.7 236.6 353.1 240.2 350.8 240.6z" fill="#82f558"/>
<path d="M383.1 238.7 385.5 237.7 391.9 240.9 389.5 242.1z" fill="#7af561"/>
<path d="M362.6 238.3 364.9 237.9 371.3 241.6 369 242.1z" fill="#77f565"/>
<path d="M342 237.4 344.3 237 350.8 240.6 348.4 241.1z" fill="#82f559"/>
<path d="M380.8 239.5 383.1 238.7 389.5 242.1 387.2 243.1z" fill="#74f567"/>
<path d="M360.2 238.8 362.6 238.3 369 242.1 366.6 242.5z" fill="#75f566"/>
<path d="M399 238.1 401.3 236.8 407.7 239.2 405.4 240.7z" fill="#89f550"/>
<path d="M339.6 237.8 342 237.4 348.4 241.1 346 241.6z" fill="#81f559"/>
<path d="M378.4 240 380.8 239.5 387.2 243.1 384.8 243.7z" fill="#70f56c"/>
<path d="M357.8 239.2 360.2 238.8 366.6 242.5 364.2 243.1z" fill="#74f568"/>
<path d="M396.6 238.9 399 238.1 405.4 240.7 403 241.6z" fill="#83f557"/>
<path d="M337.3 238.2 339.6 237.8 346 241.6 343.7 242z" fill="#81f559"/>
<path d="M376 240.6 378.4 240 384.8 243.7 382.5 244.4z" fill="#6cf570"/>
<path d="M355.5 239.7 357.8 239.2 364.2 243.1 361.9 243.6z" fill="#72f569"/>
<path d="M394.3 239.9 396.6 238.9 403 241.6 400.7 242.7z" fill="#7ef55d"/>
<path d="M334.9 238.7 337.3 238.2 343.7 242 341.3 242.5z" fill="#81f55a"/>
<path d="M373.7 241.1 376 240.6 382.5 244.4 380.1 244.9z" fill="#69f573"/>
<path d="M353.1 240.2 355.5 239.7 361.9 243.6 359.5 244.1z" fill="#71f56b"/>
<path d="M391.9 240.9 394.3 239.9 400.7 242.7 398.3 243.8z" fill="#78f563"/>
<path d="M332.6 239.1 334.9 238.7 341.3 242.5 339 243z" fill="#80f55a"/>
<path d="M371.3 241.6 373.7 241.1 380.1 244.9 377.7 245.5z" fill="#66f677"/>
<path d="M350.8 240.6 353.1 240.2 359.5 244.1 357.2 244.7z" fill="#6ff56c"/>
<path d="M389.5 242.1 391.9 240.9 398.3 243.8 395.9 245.3z" fill="#72f56a"/>
<path d="M330.2 239.5 332.6 239.1 339 243 336.6 243.5z" fill="#80f55b"/>
<path d="M369 242.1 371.3 241.6 377.7 245.5 375.4 246.1z" fill="#63f67b"/>
<path d="M348.4 241.1 350.8 240.6 357.2 244.7 354.8 245.2z" fill="#6ef56d"/>
<path d="M387.2 243.1 389.5 242.1 395.9 245.3 393.6 246.5z" fill="#6bf571"/>
<path d="M327.8 239.9 330.2 239.5 336.6 243.5 334.2 244z" fill="#7ff55b"/>
<path d="M366.6 242.5 369 242.1 375.4 246.1 373 246.6z" fill="#60f77f"/>
<path d="M405.4 240.7 407.7 239.2 414.2 241.5 411.8 243.3z" fill="#84f556"/>
<path d="M346 241.6 348.4 241.1 354.8 245.2 352.4 245.7z" fill="#6ef56e"/>
<path d="M384.8 243.7 387.2 243.1 393.6 246.5 391.2 247.3z" fill="#63f67b"/>
<path d="M325.5 240.3 327.8 239.9 334.2 244 331.9 244.5z" fill="#7ff55c"/>
<path d="M364.2 243.1 366.6 242.5 373 246.6 370.7 247.2z" fill="#5df884"/>
<path d="M403 241.6 405.4 240.7 411.8 243.3 409.4 244.2z" fill="#7df55d"/>
<path d="M343.7 242 346 241.6 352.4 245.7 350.1 246.2z" fill="#6df56f"/>
<path d="M382.5 244.4 384.8 243.7 391.2 247.3 388.9 248z" fill="#5cf885"/>
<path d="M323.1 240.8 325.5 240.3 331.9 244.5 329.5 245z" fill="#7ef55c"/>
<path d="M361.9 243.6 364.2 243.1 370.7 247.2 368.3 247.8z" fill="#59f989"/>
<path d="M400.7 242.7 403 241.6 409.4 244.2 407.1 245.3z" fill="#78f563"/>
<path d="M341.3 242.5 343.7 242 350.1 246.2 347.7 246.8z" fill="#6df56f"/>
<path d="M380.1 244.9 382.5 244.4 388.9 248 386.5 248.7z" fill="#55fa8f"/>
<path d="M320.8 241.2 323.1 240.8 329.5 245 327.2 245.4z" fill="#7ef55d"/>
<path d="M359.5 244.1 361.9 243.6 368.3 247.8 365.9 248.4z" fill="#54fa8f"/>
<path d="M398.3 243.8 400.7 242.7 407.1 245.3 404.7 246.6z" fill="#72f56a"/>
<path d="M339 243 341.3 242.5 347.7 246.8 345.4 247.4z" fill="#6cf570"/>
<path d="M377.7 245.5 380.1 244.9 386.5 248.7 384.1 249.3z" fill="#4efc97"/>
<path d="M318.4 241.6 320.8 241.2 327.2 245.4 324.8 245.9z" fill="#7df55d"/>
<path d="M357.2 244.7 359.5 244.1 365.9 248.4 363.6 249z" fill="#4ffc96"/>
<path d="M395.9 245.3 398.3 243.8 404.7 246.6 402.4 248.3z" fill="#6af572"/>
<path d="M336.6 243.5 339 243 345.4 247.4 343 248z" fill="#6bf571"/>
<path d="M375.4 246.1 377.7 245.5 384.1 249.3 381.8 250z" fill="#48fea0"/>
<path d="M316 242.1 318.4 241.6 324.8 245.9 322.4 246.5z" fill="#7cf55e"/>
<path d="M354.8 245.2 357.2 244.7 363.6 249 361.2 249.7z" fill="#4afd9e"/>
<path d="M393.6 246.5 395.9 245.3 402.4 248.3 400 249.9z" fill="#60f77f"/>
<path d="M334.2 244 336.6 243.5 343 248 340.7 248.7z" fill="#6af572"/>
<path d="M373 246.6 375.4 246.1 381.8 250 379.4 250.5z" fill="#43ffa6"/>
<path d="M411.8 243.3 414.2 241.5 420.6 243.4 418.2 245.5z" fill="#80f55b"/>
<path d="M313.7 242.6 316 242.1 322.4 246.5 320.1 247z" fill="#7bf55f"/>
<path d="M352.4 245.7 354.8 245.2 361.2 249.7 358.9 250.3z" fill="#44ffa5"/>
<path d="M391.2 247.3 393.6 246.5 400 249.9 397.6 250.8z" fill="#56fa8d"/>
<path d="M331.9 244.5 334.2 244 340.7 248.7 338.3 249.4z" fill="#69f574"/>
<path d="M370.7 247.2 373 246.6 379.4 250.5 377.1 251.2z" fill="#3fffac"/>
<path d="M409.4 244.2 411.8 243.3 418.2 245.5 415.8 246.4z" fill="#78f563"/>
<path d="M311.3 243.2 313.7 242.6 320.1 247 317.7 247.6z" fill="#7bf560"/>
<path d="M350.1 246.2 352.4 245.7 358.9 250.3 356.5 250.8z" fill="#3effae"/>
<path d="M388.9 248 391.2 247.3 397.6 250.8 395.3 251.7z" fill="#4bfd9c"/>
<path d="M329.5 245 331.9 244.5 338.3 249.4 335.9 250.1z" fill="#67f677"/>
<path d="M368.3 247.8 370.7 247.2 377.1 251.2 374.7 252z" fill="#39ffb4"/>
<path d="M407.1 245.3 409.4 244.2 415.8 246.4 413.5 247.7z" fill="#73f569"/>
<path d="M309 243.7 311.3 243.2 317.7 247.6 315.4 248.1z" fill="#7af561"/>
<path d="M347.7 246.8 350.1 246.2 356.5 250.8 354.1 251.5z" fill="#3bffb1"/>
<path d="M386.5 248.7 388.9 248 395.3 251.7 392.9 252.4z" fill="#40ffab"/>
<path d="M327.2 245.4 329.5 245 335.9 250.1 333.6 250.5z" fill="#65f678"/>
<path d="M365.9 248.4 368.3 247.8 374.7 252 372.3 252.7z" fill="#00ffff"/>
<path d="M404.7 246.6 407.1 245.3 413.5 247.7 411.1 249.1z" fill="#6cf570"/>
<path d="M306.6 244.2 309 243.7 315.4 248.1 313 248.6z" fill="#79f562"/>
<path d="M345.4 247.4 347.7 246.8 354.1 251.5 351.8 252.2z" fill="#38ffb6"/>
<path d="M384.1 249.3 386.5 248.7 392.9 252.4 390.6 253.2z" fill="#38ffb5"/>
<path d="M324.8 245.9 327.2 245.4 333.6 250.5 331.2 251.1z" fill="#64f67a"/>
<path d="M363.6 249 365.9 248.4 372.3 252.7 370 253.5z" fill="#00ffff"/>
<path d="M402.4 248.3 404.7 246.6 411.1 249.1 408.8 251.1z" fill="#63f67b"/>
<path d="M304.2 244.6 306.6 244.2 313 248.6 310.6 249z" fill="#78f563"/>
<path d="M343 248 345.4 247.4 351.8 252.2 349.4 253z" fill="#00ffff"/>
<path d="M381.8 250 384.1 249.3 390.6 253.2 388.2 253.9z" fill="#00ffff"/>
<path d="M322.4 246.5 324.8 245.9 331.2 251.1 328.9 251.8z" fill="#61f77e"/>
<path d="M361.2 249.7 363.6 249 370 253.5 367.6 254.2z" fill="#00ffff"/>
<path d="M400 249.9 402.4 248.3 408.8 251.1 406.4 253z" fill="#59f989"/>
<path d="M301.9 245 304.2 244.6 310.6 249 308.3 249.4z" fill="#78f563"/>
<path d="M340.7 248.7 343 248 349.4 253 347.1 254.1z" fill="#00ffff"/>
<path d="M379.4 250.5 381.8 250 388.2 253.9 385.8 254.5z" fill="#00ffff"/>
<path d="M418.2 245.5 420.6 243.4 427 245.3 424.6 247.7z" fill="#7bf560"/>
<path d="M320.1 247 322.4 246.5 328.9 251.8 326.5 252.5z" fill="#5ef883"/>
<path d="M358.9 250.3 361.2 249.7 367.6 254.2 365.3 254.9z" fill="#00ffff"/>
<path d="M397.6 250.8 400 249.9 406.4 253 404 254z" fill="#4ffc96"/>
<path d="M299.5 245.4 301.9 245 308.3 249.4 305.9 249.8z" fill="#77f565"/>
<path d="M338.3 249.4 340.7 248.7 347.1 254.1 344.7 255.1z" fill="#00ffff"/>
<path d="M377.1 251.2 379.4 250.5 385.8 254.5 383.5 255.3z" fill="#00ffff"/>
<path d="M415.8 246.4 418.2 245.5 424.6 247.7 422.3 248.6z" fill="#74f568"/>
<path d="M317.7 247.6 320.1 247 326.5 252.5 324.1 253.2z" fill="#5af988"/>
<path d="M356.5 250.8 358.9 250.3 365.3 254.9 362.9 255.5z" fill="#00ffff"/>
<path d="M395.3 251.7 397.6 250.8 404 254 401.7 255z" fill="#45fea3"/>
<path d="M297.2 245.8 299.5 245.4 305.9 249.8 303.6 250.1z" fill="#74f568"/>
<path d="M335.9 250.1 338.3 249.4 344.7 255.1 342.3 256z" fill="#00ffff"/>
<path d="M374.7 252 377.1 251.2 383.5 255.3 381.1 256.2z" fill="#00ffff"/>
<path d="M413.5 247.7 415.8 246.4 422.3 248.6 419.9 250z" fill="#6ef56e"/>
<path d="M315.4 248.1 317.7 247.6 324.1 253.2 321.8 253.8z" fill="#57fa8c"/>
<path d="M354.1 251.5 356.5 250.8 362.9 255.5 360.5 256.4z" fill="#00ffff"/>
<path d="M392.9 252.4 395.3 251.7 401.7 255 399.3 255.9z" fill="#3affb3"/>
<path d="M294.8 246.2 297.2 245.8 303.6 250.1 301.2 250.5z" fill="#71f56b"/>
<path d="M333.6 250.5 335.9 250.1 342.3 256 340 256.5z" fill="#00ffff"/>
<path d="M372.3 252.7 374.7 252 381.1 256.2 378.8 257.1z" fill="#00ffff"/>
<path d="M411.1 249.1 413.5 247.7 419.9 250 417.5 251.5z" fill="#67f677"/>
<path d="M313 248.6 315.4 248.1 321.8 253.8 319.4 254.4z" fill="#54fa90"/>
<path d="M351.8 252.2 354.1 251.5 360.5 256.4 358.2 257.3z" fill="#00ffff"/>
<path d="M390.6 253.2 392.9 252.4 399.3 255.9 397 256.8z" fill="#00ffff"/>
<path d="M292.4 246.6 294.8 246.2 301.2 250.5 298.8 250.9z" fill="#6ef56e"/>
<path d="M331.2 251.1 333.6 250.5 340 256.5 337.6 257.4z" fill="#00ffff"/>
<path d="M370 253.5 372.3 252.7 378.8 257.1 376.4 257.9z" fill="#00ffff"/>
<path d="M408.8 251.1 411.1 249.1 417.5 251.5 415.2 253.8z" fill="#5df883"/>
<path d="M310.6 249 313 248.6 319.4 254.4 317.1 254.9z" fill="#51fb93"/>
<path d="M349.4 253 351.8 252.2 358.2 257.3 355.8 258.4z" fill="#00ffff"/>
<path d="M388.2 253.9 390.6 253.2 397 256.8 394.6 257.6z" fill="#00ffff"/>
<path d="M290.1 247 292.4 246.6 298.8 250.9 296.5 251.2z" fill="#6bf571"/>
<path d="M328.9 251.8 331.2 251.1 337.6 257.4 335.3 258.3z" fill="#00ffff"/>
<path d="M367.6 254.2 370 253.5 376.4 257.9 374 258.8z" fill="#00ffff"/>
<path d="M406.4 253 408.8 251.1 415.2 253.8 412.8 256z" fill="#52fb92"/>
<path d="M308.3 249.4 310.6 249 317.1 254.9 314.7 255.3z" fill="#4ffc96"/>
<path d="M347.1 254.1 349.4 253 355.8 258.4 353.5 260z" fill="#00ffff"/>
<path d="M385.8 254.5 388.2 253.9 394.6 257.6 392.2 258.3z" fill="#00ffff"/>
<path d="M424.6 247.7 427 245.3 433.4 247.2 431 249.8z" fill="#76f566"/>
<path d="M287.7 245.9 290.1 247 296.5 251.2 294.1 250.2z" fill="#6bf571"/>
<path d="M326.5 252.5 328.9 251.8 335.3 258.3 332.9 259.4z" fill="#00ffff"/>
<path d="M365.3 254.9 367.6 254.2 374 258.8 371.7 259.6z" fill="#00ffff"/>
<path d="M404 254 406.4 253 412.8 256 410.5 257.1z" fill="#49fd9f"/>
<path d="M305.9 249.8 308.3 249.4 314.7 255.3 312.3 255.8z" fill="#4efc98"/>
<path d="M344.7 255.1 347.1 254.1 353.5 260 351.1 261.5z" fill="#00ffff"/>
<path d="M383.5 255.3 385.8 254.5 392.2 258.3 389.9 259.1z" fill="#00ffff"/>
<path d="M422.3 248.6 424.6 247.7 431 249.8 428.7 250.7z" fill="#6ef56e"/>
<path d="M285.4 244.6 287.7 245.9 294.1 250.2 291.8 248.9z" fill="#6df56f"/>
<path d="M324.1 253.2 326.5 252.5 332.9 259.4 330.5 260.5z" fill="#00ffff"/>
<path d="M362.9 255.5 365.3 254.9 371.7 259.6 369.3 260.4z" fill="#00ffff"/>
<path d="M401.7 255 404 254 410.5 257.1 408.1 258.3z" fill="#41ffa9"/>
<path d="M303.6 250.1 305.9 249.8 312.3 255.8 310 256.2z" fill="#4cfc9a"/>
<path d="M342.3 256 344.7 255.1 351.1 261.5 348.8 262.8z" fill="#00ffff"/>
<path d="M381.1 256.2 383.5 255.3 389.9 259.1 387.5 260.1z" fill="#00ffff"/>
<path d="M419.9 250 422.3 248.6 428.7 250.7 426.3 252.2z" fill="#68f574"/>
<path d="M283 243.4 285.4 244.6 291.8 248.9 289.4 247.5z" fill="#6ef56e"/>
<path d="M321.8 253.8 324.1 253.2 330.5 260.5 328.2 261.3z" fill="#00ffff"/>
<path d="M360.5 256.4 362.9 255.5 369.3 260.4 367 261.3z" fill="#00ffff"/>
<path d="M399.3 255.9 401.7 255 408.1 258.3 405.7 259.2z" fill="#39ffb4"/>
<path d="M301.2 250.5 303.6 250.1 310 256.2 307.6 256.6z" fill="#4bfd9c"/>
<path d="M340 256.5 342.3 256 348.8 262.8 346.4 263.6z" fill="#00ffff"/>
<path d="M378.8 257.1 381.1 256.2 387.5 260.1 385.2 261.2z" fill="#00ffff"/>
<path d="M417.5 251.5 419.9 250 426.3 252.2 423.9 253.9z" fill="#61f77e"/>
<path d="M319.4 254.4 321.8 253.8 328.2 261.3 325.8 262.1z" fill="#00ffff"/>
<path d="M358.2 257.3 360.5 256.4 367 261.3 364.6 262.4z" fill="#00ffff"/>
<path d="M397 256.8 399.3 255.9 405.7 259.2 403.4 260.2z" fill="#00ffff"/>
<path d="M298.8 250.9 301.2 250.5 307.6 256.6 305.3 257.1z" fill="#3effad"/>
<path d="M337.6 257.4 340 256.5 346.4 263.6 344 264.9z" fill="#00ffff"/>
<path d="M376.4 257.9 378.8 257.1 385.2 261.2 382.8 262.2z" fill="#00ffff"/>
<path d="M415.2 253.8 417.5 251.5 423.9 253.9 421.6 256.3z" fill="#58f98a"/>
<path d="M317.1 254.9 319.4 254.4 325.8 262.1 323.5 262.8z" fill="#00ffff"/>
<path d="M355.8 258.4 358.2 257.3 364.6 262.4 362.2 264z" fill="#00ffff"/>
<path d="M394.6 257.6 397 256.8 403.4 260.2 401 261.1z" fill="#00ffff"/>
<path d="M296.5 251.2 298.8 250.9 305.3 257.1 302.9 257.6z" fill="#00ffff"/>
<path d="M335.3 258.3 337.6 257.4 344 264.9 341.7 266.4z" fill="#00ffff"/>
<path d="M374 258.8 376.4 257.9 382.8 262.2 380.4 263.2z" fill="#00ffff"/>
<path d="M412.8 256 415.2 253.8 421.6 256.3 419.2 258.7z" fill="#4cfd9b"/>
<path d="M314.7 255.3 317.1 254.9 323.5 262.8 321.1 263.5z" fill="#00ffff"/>
<path d="M353.5 260 355.8 258.4 362.2 264 359.9 266.2z" fill="#00ffff"/>
<path d="M392.2 258.3 394.6 257.6 401 261.1 398.7 261.8z" fill="#00ffff"/>
<path d="M431 249.8 433.4 247.2 439.8 249 437.4 251.8z" fill="#70f56b"/>
<path d="M294.1 250.2 296.5 251.2 302.9 257.6 300.5 256.7z" fill="#00ffff"/>
<path d="M332.9 259.4 335.3 258.3 341.7 266.4 339.3 268.2z" fill="#00ffff"/>
<path d="M371.7 259.6 374 258.8 380.4 263.2 378.1 264.1z" fill="#00ffff"/>
<path d="M410.5 257.1 412.8 256 419.2 258.7 416.9 260z" fill="#42ffa8"/>
<path d="M312.3 255.8 314.7 255.3 321.1 263.5 318.7 264.2z" fill="#00ffff"/>
<path d="M351.1 261.5 353.5 260 359.9 266.2 357.5 268.2z" fill="#00ffff"/>
<path d="M389.9 259.1 392.2 258.3 398.7 261.8 396.3 262.8z" fill="#00ffff"/>
<path d="M428.7 250.7 431 249.8 437.4 251.8 435.1 252.7z" fill="#68f574"/>
<path d="M291.8 248.9 294.1 250.2 300.5 256.7 298.2 255.5z" fill="#00ffff"/>
<path d="M330.5 260.5 332.9 259.4 339.3 268.2 337 269.8z" fill="#00ffff"/>
<path d="M369.3 260.4 371.7 259.6 378.1 264.1 375.7 264.9z" fill="#00ffff"/>
<path d="M408.1 258.3 410.5 257.1 416.9 260 414.5 261.2z" fill="#3affb3"/>
<path d="M310 256.2 312.3 255.8 318.7 264.2 316.4 264.9z" fill="#00ffff"/>
<path d="M348.8 262.8 351.1 261.5 357.5 268.2 355.2 270.2z" fill="#00ffff"/>
<path d="M387.5 260.1 389.9 259.1 396.3 262.8 393.9 263.9z" fill="#00ffff"/>
<path d="M426.3 252.2 428.7 250.7 435.1 252.7 432.7 254.3z" fill="#63f67b"/>
<path d="M289.4 247.5 291.8 248.9 298.2 255.5 295.8 254.2z" fill="#00ffff"/>
<path d="M328.2 261.3 330.5 260.5 337 269.8 334.6 271.1z" fill="#00ffff"/>
<path d="M367 261.3 369.3 260.4 375.7 264.9 373.4 266.1z" fill="#00ffff"/>
<path d="M405.7 259.2 408.1 258.3 414.5 261.2 412.1 262.3z" fill="#00ffff"/>
<path d="M307.6 256.6 310 256.2 316.4 264.9 314 265.6z" fill="#00ffff"/>
<path d="M346.4 263.6 348.8 262.8 355.2 270.2 352.8 271.3z" fill="#00ffff"/>
<path d="M385.2 261.2 387.5 260.1 393.9 263.9 391.6 265.1z" fill="#00ffff"/>
<path d="M423.9 253.9 426.3 252.2 432.7 254.3 430.4 256z" fill="#5cf885"/>
<path d="M325.8 262.1 328.2 261.3 334.6 271.1 332.2 272.5z" fill="#00ffff"/>
<path d="M364.6 262.4 367 261.3 373.4 266.1 371 267.4z" fill="#00ffff"/>
<path d="M403.4 260.2 405.7 259.2 412.1 262.3 409.8 263.3z" fill="#00ffff"/>
<path d="M305.3 257.1 307.6 256.6 314 265.6 311.7 266.4z" fill="#00ffff"/>
<path d="M344 264.9 346.4 263.6 352.8 271.3 350.4 273z" fill="#00ffff"/>
<path d="M382.8 262.2 385.2 261.2 391.6 265.1 389.2 266.2z" fill="#00ffff"/>
<path d="M421.6 256.3 423.9 253.9 430.4 256 428 258.7z" fill="#53fb91"/>
<path d="M323.5 262.8 325.8 262.1 332.2 272.5 329.9 273.7z" fill="#00ffff"/>
<path d="M362.2 264 364.6 262.4 371 267.4 368.7 269.3z" fill="#00ffff"/>
<path d="M401 261.1 403.4 260.2 409.8 263.3 407.4 264.3z" fill="#00ffff"/>
<path d="M302.9 257.6 305.3 257.1 311.7 266.4 309.3 267.3z" fill="#00ffff"/>
<path d="M341.7 266.4 344 264.9 350.4 273 348.1 275.2z" fill="#00ffff"/>
<path d="M380.4 263.2 382.8 262.2 389.2 266.2 386.9 267.4z" fill="#00ffff"/>
<path d="M419.2 258.7 421.6 256.3 428 258.7 425.6 261.4z" fill="#47fea2"/>
<path d="M321.1 263.5 323.5 262.8 329.9 273.7 327.5 275z" fill="#00ffff"/>
<path d="M359.9 266.2 362.2 264 368.7 269.3 366.3 272.1z" fill="#00ffff"/>
<path d="M398.7 261.8 401 261.1 407.4 264.3 405.1 265.1z" fill="#00ffff"/>
<path d="M437.4 251.8 439.8 249 446.2 250.7 443.8 253.7z" fill="#6cf571"/>
<path d="M300.5 256.7 302.9 257.6 309.3 267.3 306.9 266.9z" fill="#00ffff"/>
<path d="M339.3 268.2 341.7 266.4 348.1 275.2 345.7 277.8z" fill="#00ffff"/>
<path d="M378.1 264.1 380.4 263.2 386.9 267.4 384.5 268.3z" fill="#00ffff"/>
<path d="M416.9 260 419.2 258.7 425.6 261.4 423.3 262.7z" fill="#3cffb0"/>
<path d="M318.7 264.2 321.1 263.5 327.5 275 325.2 276.3z" fill="#00ffff"/>
<path d="M357.5 268.2 359.9 266.2 366.3 272.1 363.9 274.7z" fill="#00ffff"/>
<path d="M396.3 262.8 398.7 261.8 405.1 265.1 402.7 266.1z" fill="#00ffff"/>
<path d="M435.1 252.7 437.4 251.8 443.8 253.7 441.5 254.7z" fill="#63f77b"/>
<path d="M298.2 255.5 300.5 256.7 306.9 266.9 304.6 266.1z" fill="#00ffff"/>
<path d="M337 269.8 339.3 268.2 345.7 277.8 343.4 280.1z" fill="#00ffff"/>
<path d="M375.7 264.9 378.1 264.1 384.5 268.3 382.1 269.3z" fill="#00ffff"/>
<path d="M414.5 261.2 416.9 260 423.3 262.7 420.9 264z" fill="#00ffff"/>
<path d="M316.4 264.9 318.7 264.2 325.2 276.3 322.8 277.5z" fill="#00ffff"/>
<path d="M355.2 270.2 357.5 268.2 363.9 274.7 361.6 277.2z" fill="#00ffff"/>
<path d="M393.9 263.9 396.3 262.8 402.7 266.1 400.3 267.4z" fill="#00ffff"/>
<path d="M432.7 254.3 435.1 252.7 441.5 254.7 439.1 256.3z" fill="#5ef882"/>
<path d="M295.8 254.2 298.2 255.5 304.6 266.1 302.2 265.2z" fill="#00ffff"/>
<path d="M334.6 271.1 337 269.8 343.4 280.1 341 282z" fill="#00ffff"/>
<path d="M373.4 266.1 375.7 264.9 382.1 269.3 379.8 270.6z" fill="#00ffff"/>
<path d="M412.1 262.3 414.5 261.2 420.9 264 418.6 265.2z" fill="#00ffff"/>
<path d="M314 265.6 316.4 264.9 322.8 277.5 320.4 278.8z" fill="#00ffff"/>
<path d="M352.8 271.3 355.2 270.2 361.6 277.2 359.2 278.6z" fill="#00ffff"/>
<path d="M391.6 265.1 393.9 263.9 400.3 267.4 398 268.6z" fill="#00ffff"/>
<path d="M430.4 256 432.7 254.3 439.1 256.3 436.8 258.1z" fill="#58fa8b"/>
<path d="M332.2 272.5 334.6 271.1 341 282 338.6 284z" fill="#00ffff"/>
<path d="M371 267.4 373.4 266.1 379.8 270.6 377.4 272.1z" fill="#00ffff"/>
<path d="M409.8 263.3 412.1 262.3 418.6 265.2 416.2 266.3z" fill="#00ffff"/>
<path d="M311.7 266.4 314 265.6 320.4 278.8 318.1 280.4z" fill="#00ffff"/>
<path d="M350.4 273 352.8 271.3 359.2 278.6 356.9 280.8z" fill="#00ffff"/>
<path d="M389.2 266.2 391.6 265.1 398 268.6 395.6 269.8z" fill="#00ffff"/>
<path d="M428 258.7 430.4 256 436.8 258.1 434.4 260.9z" fill="#4ffc97"/>
<path d="M329.9 273.7 332.2 272.5 338.6 284 336.3 285.9z" fill="#00ffff"/>
<path d="M368.7 269.3 371 267.4 377.4 272.1 375.1 274.3z" fill="#00ffff"/>
<path d="M407.4 264.3 409.8 263.3 416.2 266.3 413.8 267.3z" fill="#00ffff"/>
<path d="M309.3 267.3 311.7 266.4 318.1 280.4 315.7 282.2z" fill="#00ffff"/>
<path d="M348.1 275.2 350.4 273 356.9 280.8 354.5 283.6z" fill="#00ffff"/>
<path d="M386.9 267.4 389.2 266.2 395.6 269.8 393.3 271.1z" fill="#00ffff"/>
<path d="M425.6 261.4 428 258.7 434.4 260.9 432 263.8z" fill="#43ffa7"/>
<path d="M327.5 275 329.9 273.7 336.3 285.9 333.9 287.8z" fill="#00ffff"/>
<path d="M366.3 272.1 368.7 269.3 375.1 274.3 372.7 277.6z" fill="#00ffff"/>
<path d="M405.1 265.1 407.4 264.3 413.8 267.3 411.5 268.1z" fill="#00ffff"/>
<path d="M306.9 266.9 309.3 267.3 315.7 282.2 313.4 282.7z" fill="#00ffff"/>
<path d="M345.7 277.8 348.1 275.2 354.5 283.6 352.1 286.9z" fill="#00ffff"/>
<path d="M384.5 268.3 386.9 267.4 393.3 271.1 390.9 272.1z" fill="#00ffff"/>
<path d="M423.3 262.7 425.6 261.4 432 263.8 429.7 265.2z" fill="#38ffb5"/>
<path d="M325.2 276.3 327.5 275 333.9 287.8 331.6 289.8z" fill="#00ffff"/>
<path d="M363.9 274.7 366.3 272.1 372.7 277.6 370.3 280.6z" fill="#00ffff"/>
<path d="M402.7 266.1 405.1 265.1 411.5 268.1 409.1 269.3z" fill="#00ffff"/>
<path d="M304.6 266.1 306.9 266.9 313.4 282.7 311 282.8z" fill="#00ffff"/>
<path d="M343.4 280.1 345.7 277.8 352.1 286.9 349.8 290z" fill="#00ffff"/>
<path d="M382.1 269.3 384.5 268.3 390.9 272.1 388.5 273.2z" fill="#00ffff"/>
<path d="M420.9 264 423.3 262.7 429.7 265.2 427.3 266.6z" fill="#00ffff"/>
<path d="M322.8 277.5 325.2 276.3 331.6 289.8 329.2 291.7z" fill="#00ffff"/>
<path d="M361.6 277.2 363.9 274.7 370.3 280.6 368 283.5z" fill="#00ffff"/>
<path d="M400.3 267.4 402.7 266.1 409.1 269.3 406.8 270.6z" fill="#00ffff"/>
<path d="M302.2 265.2 304.6 266.1 311 282.8 308.6 282.7z" fill="#00ffff"/>
<path d="M341 282 343.4 280.1 349.8 290 347.4 292.5z" fill="#00ffff"/>
<path d="M379.8 270.6 382.1 269.3 388.5 273.2 386.2 274.6z" fill="#00ffff"/>
<path d="M418.6 265.2 420.9 264 427.3 266.6 425 267.8z" fill="#00ffff"/>
<path d="M320.4 278.8 322.8 277.5 329.2 291.7 326.8 293.7z" fill="#00ffff"/>
<path d="M359.2 278.6 361.6 277.2 368 283.5 365.6 285.1z" fill="#00ffff"/>
<path d="M398 268.6 400.3 267.4 406.8 270.6 404.4 271.9z" fill="#00ffff"/>
<path d="M338.6 284 341 282 347.4 292.5 345.1 295z" fill="#00ffff"/>
<path d="M377.4 272.1 379.8 270.6 386.2 274.6 383.8 276.2z" fill="#00ffff"/>
<path d="M416.2 266.3 418.6 265.2 425 267.8 422.6 269z" fill="#00ffff"/>
<path d="M318.1 280.4 320.4 278.8 326.8 293.7 324.5 296.2z" fill="#00ffff"/>
<path d="M356.9 280.8 359.2 278.6 365.6 285.1 363.3 287.7z" fill="#00ffff"/>
<path d="M395.6 269.8 398 268.6 404.4 271.9 402 273.3z" fill="#00ffff"/>
<path d="M336.3 285.9 338.6 284 345.1 295 342.7 297.5z" fill="#00ffff"/>
<path d="M375.1 274.3 377.4 272.1 383.8 276.2 381.5 278.6z" fill="#00ffff"/>
<path d="M413.8 267.3 416.2 266.3 422.6 269 420.2 270.1z" fill="#00ffff"/>
<path d="M315.7 282.2 318.1 280.4 324.5 296.2 322.1 299.1z" fill="#00ffff"/>
<path d="M354.5 283.6 356.9 280.8 363.3 287.7 360.9 290.9z" fill="#00ffff"/>
<path d="M393.3 271.1 395.6 269.8 402 273.3 399.7 274.6z" fill="#00ffff"/>
<path d="M333.9 287.8 336.3 285.9 342.7 297.5 340.3 300z" fill="#00ffff"/>
<path d="M372.7 277.6 375.1 274.3 381.5 278.6 379.1 282.1z" fill="#00ffff"/>
<path d="M411.5 268.1 413.8 267.3 420.2 270.1 417.9 270.9z" fill="#00ffff"/>
<path d="M313.4 282.7 315.7 282.2 322.1 299.1 319.8 300.9z" fill="#00ffff"/>
<path d="M352.1 286.9 354.5 283.6 360.9 290.9 358.5 294.8z" fill="#00ffff"/>
<path d="M390.9 272.1 393.3 271.1 399.7 274.6 397.3 275.7z" fill="#00ffff"/>
<path d="M331.6 289.8 333.9 287.8 340.3 300 338 302.7z" fill="#00ffff"/>
<path d="M370.3 280.6 372.7 277.6 379.1 282.1 376.8 285.4z" fill="#00ffff"/>
<path d="M409.1 269.3 411.5 268.1 417.9 270.9 415.5 272.1z" fill="#00ffff"/>
<path d="M311 282.8 313.4 282.7 319.8 300.9 317.4 302.1z" fill="#00ffff"/>
<path d="M349.8 290 352.1 286.9 358.5 294.8 356.2 298.4z" fill="#00ffff"/>
<path d="M388.5 273.2 390.9 272.1 397.3 275.7 395 276.9z" fill="#00ffff"/>
<path d="M329.2 291.7 331.6 289.8 338 302.7 335.6 305.3z" fill="#00ffff"/>
<path d="M368 283.5 370.3 280.6 376.8 285.4 374.4 288.4z" fill="#00ffff"/>
<path d="M406.8 270.6 409.1 269.3 415.5 272.1 413.2 273.5z" fill="#00ffff"/>
<path d="M308.6 282.7 311 282.8 317.4 302.1 315.1 303z" fill="#00ffff"/>
<path d="M347.4 292.5 349.8 290 356.2 298.4 353.8 301.2z" fill="#00ffff"/>
<path d="M386.2 274.6 388.5 273.2 395 276.9 392.6 278.4z" fill="#00ffff"/>
<path d="M326.8 293.7 329.2 291.7 335.6 305.3 333.3 307.9z" fill="#00ffff"/>
<path d="M365.6 285.1 368 283.5 374.4 288.4 372 290z" fill="#00ffff"/>
<path d="M404.4 271.9 406.8 270.6 413.2 273.5 410.8 275z" fill="#00ffff"/>
<path d="M345.1 295 347.4 292.5 353.8 301.2 351.5 304.1z" fill="#00ffff"/>
<path d="M383.8 276.2 386.2 274.6 392.6 278.4 390.2 280.2z" fill="#00ffff"/>
<path d="M324.5 296.2 326.8 293.7 333.3 307.9 330.9 311.3z" fill="#00ffff"/>
<path d="M363.3 287.7 365.6 285.1 372 290 369.7 292.6z" fill="#00ffff"/>
<path d="M402 273.3 404.4 271.9 410.8 275 408.4 276.4z" fill="#00ffff"/>
<path d="M342.7 297.5 345.1 295 351.5 304.1 349.1 307z" fill="#00ffff"/>
<path d="M381.5 278.6 383.8 276.2 390.2 280.2 387.9 282.6z" fill="#00ffff"/>
<path d="M322.1 299.1 324.5 296.2 330.9 311.3 328.5 315.1z" fill="#00ffff"/>
<path d="M360.9 290.9 363.3 287.7 369.7 292.6 367.3 296z" fill="#00ffff"/>
<path d="M399.7 274.6 402 273.3 408.4 276.4 406.1 277.8z" fill="#00ffff"/>
<path d="M340.3 300 342.7 297.5 349.1 307 346.7 310z" fill="#00ffff"/>
<path d="M379.1 282.1 381.5 278.6 387.9 282.6 385.5 286.3z" fill="#00ffff"/>
<path d="M319.8 300.9 322.1 299.1 328.5 315.1 326.2 318.1z" fill="#00ffff"/>
<path d="M358.5 294.8 360.9 290.9 367.3 296 365 300z" fill="#00ffff"/>
<path d="M397.3 275.7 399.7 274.6 406.1 277.8 403.7 279z" fill="#00ffff"/>
<path d="M338 302.7 340.3 300 346.7 310 344.4 313z" fill="#00ffff"/>
<path d="M376.8 285.4 379.1 282.1 385.5 286.3 383.2 289.7z" fill="#00ffff"/>
<path d="M317.4 302.1 319.8 300.9 326.2 318.1 323.8 320.3z" fill="#00ffff"/>
<path d="M356.2 298.4 358.5 294.8 365 300 362.6 303.7z" fill="#00ffff"/>
<path d="M395 276.9 397.3 275.7 403.7 279 401.4 280.2z" fill="#00ffff"/>
<path d="M335.6 305.3 338 302.7 344.4 313 342 316z" fill="#00ffff"/>
<path d="M374.4 288.4 376.8 285.4 383.2 289.7 380.8 292.7z" fill="#00ffff"/>
<path d="M315.1 303 317.4 302.1 323.8 320.3 321.5 322.1z" fill="#00ffff"/>
<path d="M353.8 301.2 356.2 298.4 362.6 303.7 360.2 306.5z" fill="#00ffff"/>
<path d="M392.6 278.4 395 276.9 401.4 280.2 399 281.8z" fill="#00ffff"/>
<path d="M333.3 307.9 335.6 305.3 342 316 339.7 319.1z" fill="#00ffff"/>
<path d="M372 290 374.4 288.4 380.8 292.7 378.4 294.2z" fill="#00ffff"/>
<path d="M351.5 304.1 353.8 301.2 360.2 306.5 357.9 309.4z" fill="#00ffff"/>
<path d="M390.2 280.2 392.6 278.4 399 281.8 396.7 283.7z" fill="#00ffff"/>
<path d="M330.9 311.3 333.3 307.9 339.7 319.1 337.3 323z" fill="#00ffff"/>
<path d="M369.7 292.6 372 290 378.4 294.2 376.1 296.8z" fill="#00ffff"/>
<path d="M349.1 307 351.5 304.1 357.9 309.4 355.5 312.3z" fill="#00ffff"/>
<path d="M387.9 282.6 390.2 280.2 396.7 283.7 394.3 286.1z" fill="#00ffff"/>
<path d="M328.5 315.1 330.9 311.3 337.3 323 334.9 327.5z" fill="#00ffff"/>
<path d="M367.3 296 369.7 292.6 376.1 296.8 373.7 300.2z" fill="#00ffff"/>
<path d="M346.7 310 349.1 307 355.5 312.3 353.2 315.3z" fill="#00ffff"/>
<path d="M385.5 286.3 387.9 282.6 394.3 286.1 391.9 289.8z" fill="#00ffff"/>
<path d="M326.2 318.1 328.5 315.1 334.9 327.5 332.6 331.3z" fill="#00ffff"/>
<path d="M365 300 367.3 296 373.7 300.2 371.4 304.2z" fill="#00ffff"/>
<path d="M344.4 313 346.7 310 353.2 315.3 350.8 318.3z" fill="#00ffff"/>
<path d="M383.2 289.7 385.5 286.3 391.9 289.8 389.6 293.1z" fill="#00ffff"/>
<path d="M323.8 320.3 326.2 318.1 332.6 331.3 330.2 334.1z" fill="#00ffff"/>
<path d="M362.6 303.7 365 300 371.4 304.2 369 307.8z" fill="#00ffff"/>
<path d="M342 316 344.4 313 350.8 318.3 348.4 321.3z" fill="#00ffff"/>
<path d="M380.8 292.7 383.2 289.7 389.6 293.1 387.2 296z" fill="#00ffff"/>
<path d="M321.5 322.1 323.8 320.3 330.2 334.1 327.9 336.5z" fill="#00ffff"/>
<path d="M360.2 306.5 362.6 303.7 369 307.8 366.6 310.6z" fill="#00ffff"/>
<path d="M339.7 319.1 342 316 348.4 321.3 346.1 324.3z" fill="#00ffff"/>
<path d="M378.4 294.2 380.8 292.7 387.2 296 384.9 297.2z" fill="#00ffff"/>
<path d="M357.9 309.4 360.2 306.5 366.6 310.6 364.3 313.3z" fill="#00ffff"/>
<path d="M337.3 323 339.7 319.1 346.1 324.3 343.7 328.2z" fill="#00ffff"/>
<path d="M376.1 296.8 378.4 294.2 384.9 297.2 382.5 299.6z" fill="#00ffff"/>
<path d="M355.5 312.3 357.9 309.4 364.3 313.3 361.9 316.1z" fill="#00ffff"/>
<path d="M334.9 327.5 337.3 323 343.7 328.2 341.4 332.7z" fill="#00ffff"/>
<path d="M373.7 300.2 376.1 296.8 382.5 299.6 380.1 302.7z" fill="#00ffff"/>
<path d="M353.2 315.3 355.5 312.3 361.9 316.1 359.6 318.9z" fill="#00ffff"/>
<path d="M332.6 331.3 334.9 327.5 341.4 332.7 339 336.5z" fill="#00ffff"/>
<path d="M371.4 304.2 373.7 300.2 380.1 302.7 377.8 306.5z" fill="#00ffff"/>
<path d="M350.8 318.3 353.2 315.3 359.6 318.9 357.2 321.7z" fill="#00ffff"/>
<path d="M330.2 334.1 332.6 331.3 339 336.5 336.6 339.3z" fill="#00ffff"/>
<path d="M369 307.8 371.4 304.2 377.8 306.5 375.4 309.8z" fill="#00ffff"/>
<path d="M348.4 321.3 350.8 318.3 357.2 321.7 354.8 324.5z" fill="#00ffff"/>
<path d="M327.9 336.5 330.2 334.1 336.6 339.3 334.3 341.5z" fill="#00ffff"/>
<path d="M366.6 310.6 369 307.8 375.4 309.8 373.1 312.1z" fill="#00ffff"/>
<path d="M346.1 324.3 348.4 321.3 354.8 324.5 352.5 327.3z" fill="#00ffff"/>
<path d="M364.3 313.3 366.6 310.6 373.1 312.1 370.7 314.5z" fill="#00ffff"/>
<path d="M343.7 328.2 346.1 324.3 352.5 327.3 350.1 331z" fill="#00ffff"/>
<path d="M361.9 316.1 364.3 313.3 370.7 314.5 368.3 316.8z" fill="#00ffff"/>
<path d="M341.4 332.7 343.7 328.2 350.1 331 347.8 335.2z" fill="#00ffff"/>
<path d="M359.6 318.9 361.9 316.1 368.3 316.8 366 319.1z" fill="#00ffff"/>
<path d="M339 336.5 341.4 332.7 347.8 335.2 345.4 338.7z" fill="#00ffff"/>
<path d="M357.2 321.7 359.6 318.9 366 319.1 363.6 321.5z" fill="#00ffff"/>
<path d="M336.6 339.3 339 336.5 345.4 338.7 343 341.2z" fill="#00ffff"/>
<path d="M354.8 324.5 357.2 321.7 363.6 321.5 361.3 323.7z" fill="#00ffff"/>
<path d="M334.3 341.5 336.6 339.3 343 341.2 340.7 343.1z" fill="#00ffff"/>
<path d="M352.5 327.3 354.8 324.5 361.3 323.7 358.9 326z" fill="#00ffff"/>
<path d="M350.1 331 352.5 327.3 358.9 326 356.5 329z" fill="#00ffff"/>
<path d="M347.8 335.2 350.1 331 356.5 329 354.2 332.5z" fill="#00ffff"/>
<path d="M345.4 338.7 347.8 335.2 354.2 332.5 351.8 335.2z" fill="#00ffff"/>
<path d="M343 341.2 345.4 338.7 351.8 335.2 349.5 336.9z" fill="#00ffff"/>
<path d="M340.7 343.1 343 341.2 349.5 336.9 347.1 338z" fill="#00ffff"/>
</g>

<g transform="translate(405.4 282.8) rotate(35.4)"><path d="M0 0L4 -3.1L4 -1.5L8.5 -1.5L8.5 1.5L4 1.5L4 3.1z" fill="#000"/></g>
<text x="237.8" y="194" class="lt">E</text>
<text x="358.2" y="207.1" text-anchor="middle" class="tt" textLength="23.2" lengthAdjust="spacingAndGlyphs">K-SFM</text>
<text x="358.2" y="218.2" text-anchor="middle" class="tt" textLength="43.2" lengthAdjust="spacingAndGlyphs">60,000 cells</text>
<path d="M495.9 231.8V314.9L576 353.8L679.7 324.2" fill="none" stroke="#444" stroke-width="0.65"/>
<text transform="translate(491.6 233.4) scale(0.85 1)" text-anchor="end" class="tl">0.05</text>
<text transform="translate(491.6 250) scale(0.85 1)" text-anchor="end" class="tl">0</text>
<text transform="translate(491.6 266.6) scale(0.85 1)" text-anchor="end" class="tl">-0.05</text>
<text transform="translate(491.6 283.2) scale(0.85 1)" text-anchor="end" class="tl">-0.1</text>
<text transform="translate(491.6 299.8) scale(0.85 1)" text-anchor="end" class="tl">-0.15</text>
<text transform="translate(491.6 316.4) scale(0.85 1)" text-anchor="end" class="tl">-0.2</text>
<path d="M495.9 231.8h-1.5 M495.9 248.4h-1.5 M495.9 265h-1.5 M495.9 281.7h-1.5 M495.9 298.3h-1.5 M495.9 314.9h-1.5" stroke="#333" stroke-width="0.4"/>
<path d="M505.9 319.8l1.5 -0.4 M515.9 324.6l1.5 -0.4 M525.9 329.5l1.5 -0.4 M536 334.4l1.5 -0.4 M546 339.2l1.5 -0.4 M556 344.1l1.5 -0.4 M566 348.9l1.5 -0.4 M589 350.1l-1.4 -0.7 M601.9 346.4l-1.4 -0.7 M614.9 342.7l-1.4 -0.7 M627.9 339l-1.4 -0.7 M640.8 335.3l-1.4 -0.7 M653.8 331.6l-1.4 -0.7 M666.7 327.9l-1.4 -0.7" stroke="#333" stroke-width="0.4"/>
<text transform="translate(490.9 321.2) scale(0.85 1)" text-anchor="middle" class="tl">2</text>
<text transform="translate(502.7 327.8) scale(0.85 1)" text-anchor="middle" class="tl">2.5</text>
<text transform="translate(517.8 333.8) scale(0.85 1)" text-anchor="middle" class="tl">3</text>
<text transform="translate(529.6 340.4) scale(0.85 1)" text-anchor="middle" class="tl">3.5</text>
<text transform="translate(543.6 346.6) scale(0.85 1)" text-anchor="middle" class="tl">4</text>
<text transform="translate(555.4 352.7) scale(0.85 1)" text-anchor="middle" class="tl">4.5</text>
<text transform="translate(571.3 359.2) scale(0.85 1)" text-anchor="middle" class="tl">6</text>
<text transform="translate(581.3 359.7) scale(0.85 1)" text-anchor="middle" class="tl">-14</text>
<text transform="translate(594.6 355.9) scale(0.85 1)" text-anchor="middle" class="tl">-12</text>
<text transform="translate(607.7 352.2) scale(0.85 1)" text-anchor="middle" class="tl">-10</text>
<text transform="translate(619.7 348.9) scale(0.85 1)" text-anchor="middle" class="tl">-8</text>
<text transform="translate(632.8 344.6) scale(0.85 1)" text-anchor="middle" class="tl">-6</text>
<text transform="translate(645.3 341.4) scale(0.85 1)" text-anchor="middle" class="tl">-4</text>
<text transform="translate(658.4 337.6) scale(0.85 1)" text-anchor="middle" class="tl">-2</text>
<text transform="translate(670.4 334.1) scale(0.85 1)" text-anchor="middle" class="tl">0</text>
<text transform="translate(683 330.1) scale(0.85 1)" text-anchor="middle" class="tl">2</text>
<text x="516.5" y="361.5" text-anchor="middle" class="al">Log. Frequency (Hz)</text>
<text x="631" y="363.3" text-anchor="middle" class="al">Time (hrs)</text>
<text transform="translate(481.4 274.5) rotate(-90)" text-anchor="middle" class="al">Log. Norm. Impedance</text>
<g stroke="#000" stroke-width="0.28" stroke-linejoin="round">
<path d="M605.8 225.9 607.9 225.4 614.3 227.9 612.2 228.4z" fill="#7ff55c"/>
<path d="M603.8 226.5 605.8 225.9 612.2 228.4 610.2 229z" fill="#7ff55c"/>
<path d="M601.7 227 603.8 226.5 610.2 229 608.1 229.6z" fill="#7ff55c"/>
<path d="M599.6 227.5 601.7 227 608.1 229.6 606 230.1z" fill="#7ff55c"/>
<path d="M597.5 228.1 599.6 227.5 606 230.1 603.9 230.7z" fill="#7ff55c"/>
<path d="M595.5 228.6 597.5 228.1 603.9 230.7 601.9 231.2z" fill="#7ff55c"/>
<path d="M593.4 229.1 595.5 228.6 601.9 231.2 599.8 231.8z" fill="#7ff55c"/>
<path d="M612.2 228.4 614.3 227.9 620.7 230.4 618.6 231z" fill="#7ff55c"/>
<path d="M591.3 229.6 593.4 229.1 599.8 231.8 597.7 232.3z" fill="#7ff55c"/>
<path d="M610.2 229 612.2 228.4 618.6 231 616.6 231.6z" fill="#7ff55c"/>
<path d="M589.2 230.2 591.3 229.6 597.7 232.3 595.6 232.9z" fill="#7ff55c"/>
<path d="M608.1 229.6 610.2 229 616.6 231.6 614.5 232.2z" fill="#7ff55c"/>
<path d="M587.1 230.7 589.2 230.2 595.6 232.9 593.6 233.4z" fill="#7ff55c"/>
<path d="M606 230.1 608.1 229.6 614.5 232.2 612.4 232.8z" fill="#7ff55c"/>
<path d="M585.1 231.2 587.1 230.7 593.6 233.4 591.5 234z" fill="#7ff55c"/>
<path d="M603.9 230.7 606 230.1 612.4 232.8 610.3 233.4z" fill="#7ff55c"/>
<path d="M583 231.8 585.1 231.2 591.5 234 589.4 234.5z" fill="#7ff55c"/>
<path d="M601.9 231.2 603.9 230.7 610.3 233.4 608.3 233.9z" fill="#7ff55c"/>
<path d="M580.9 232.3 583 231.8 589.4 234.5 587.3 235.1z" fill="#7df55d"/>
<path d="M599.8 231.8 601.9 231.2 608.3 233.9 606.2 234.5z" fill="#7ff55c"/>
<path d="M618.6 231 620.7 230.4 627.1 232.8 625.1 233.5z" fill="#7ff55c"/>
<path d="M578.9 232.8 580.9 232.3 587.3 235.1 585.3 235.6z" fill="#7bf560"/>
<path d="M597.7 232.3 599.8 231.8 606.2 234.5 604.1 235.1z" fill="#7ff55c"/>
<path d="M616.6 231.6 618.6 231 625.1 233.5 623 234.2z" fill="#7ff55c"/>
<path d="M576.8 233.4 578.9 232.8 585.3 235.6 583.2 236.2z" fill="#79f562"/>
<path d="M595.6 232.9 597.7 232.3 604.1 235.1 602 235.7z" fill="#7ff55c"/>
<path d="M614.5 232.2 616.6 231.6 623 234.2 620.9 234.9z" fill="#7ff55c"/>
<path d="M574.7 233.9 576.8 233.4 583.2 236.2 581.1 236.7z" fill="#77f564"/>
<path d="M593.6 233.4 595.6 232.9 602 235.7 600 236.2z" fill="#7ff55c"/>
<path d="M612.4 232.8 614.5 232.2 620.9 234.9 618.8 235.5z" fill="#7ff55c"/>
<path d="M572.6 234.4 574.7 233.9 581.1 236.7 579 237.3z" fill="#76f565"/>
<path d="M591.5 234 593.6 233.4 600 236.2 597.9 236.8z" fill="#7df55e"/>
<path d="M610.3 233.4 612.4 232.8 618.8 235.5 616.8 236.1z" fill="#7ff55c"/>
<path d="M570.5 235 572.6 234.4 579 237.3 577 237.8z" fill="#75f566"/>
<path d="M589.4 234.5 591.5 234 597.9 236.8 595.8 237.4z" fill="#7bf560"/>
<path d="M608.3 233.9 610.3 233.4 616.8 236.1 614.7 236.7z" fill="#7ff55c"/>
<path d="M568.5 235.4 570.5 235 577 237.8 574.9 238.3z" fill="#74f567"/>
<path d="M587.3 235.1 589.4 234.5 595.8 237.4 593.7 238z" fill="#78f563"/>
<path d="M606.2 234.5 608.3 233.9 614.7 236.7 612.6 237.3z" fill="#7ff55c"/>
<path d="M566.4 235.7 568.5 235.4 574.9 238.3 572.8 238.7z" fill="#74f568"/>
<path d="M625.1 233.5 627.1 232.8 633.5 235.7 631.5 236.5z" fill="#7ff55c"/>
<path d="M585.3 235.6 587.3 235.1 593.7 238 591.7 238.5z" fill="#76f565"/>
<path d="M604.1 235.1 606.2 234.5 612.6 237.3 610.5 237.9z" fill="#7ff55c"/>
<path d="M564.3 236.1 566.4 235.7 572.8 238.7 570.7 239.1z" fill="#73f568"/>
<path d="M623 234.2 625.1 233.5 631.5 236.5 629.4 237.2z" fill="#7ff55c"/>
<path d="M583.2 236.2 585.3 235.6 591.7 238.5 589.6 239.1z" fill="#74f568"/>
<path d="M602 235.7 604.1 235.1 610.5 237.9 608.5 238.5z" fill="#7cf55e"/>
<path d="M562.2 236.4 564.3 236.1 570.7 239.1 568.7 239.5z" fill="#73f569"/>
<path d="M620.9 234.9 623 234.2 629.4 237.2 627.3 238z" fill="#7ff55c"/>
<path d="M581.1 236.7 583.2 236.2 589.6 239.1 587.5 239.7z" fill="#71f56a"/>
<path d="M600 236.2 602 235.7 608.5 238.5 606.4 239.1z" fill="#7af561"/>
<path d="M560.2 236.8 562.2 236.4 568.7 239.5 566.6 239.9z" fill="#73f569"/>
<path d="M618.8 235.5 620.9 234.9 627.3 238 625.2 238.7z" fill="#7ff55c"/>
<path d="M579 237.3 581.1 236.7 587.5 239.7 585.4 240.3z" fill="#6ff56d"/>
<path d="M597.9 236.8 600 236.2 606.4 239.1 604.3 239.8z" fill="#78f563"/>
<path d="M558.1 237.1 560.2 236.8 566.6 239.9 564.5 240.3z" fill="#72f56a"/>
<path d="M616.8 236.1 618.8 235.5 625.2 238.7 623.2 239.3z" fill="#7ff55c"/>
<path d="M577 237.8 579 237.3 585.4 240.3 583.4 240.9z" fill="#6df56f"/>
<path d="M595.8 237.4 597.9 236.8 604.3 239.8 602.2 240.4z" fill="#75f566"/>
<path d="M556 237.5 558.1 237.1 564.5 240.3 562.4 240.7z" fill="#72f56a"/>
<path d="M614.7 236.7 616.8 236.1 623.2 239.3 621.1 240z" fill="#7ff55c"/>
<path d="M574.9 238.3 577 237.8 583.4 240.9 581.3 241.4z" fill="#6bf572"/>
<path d="M593.7 238 595.8 237.4 602.2 240.4 600.2 241z" fill="#73f568"/>
<path d="M554 237.9 556 237.5 562.4 240.7 560.4 241.2z" fill="#72f56a"/>
<path d="M612.6 237.3 614.7 236.7 621.1 240 619 240.6z" fill="#7ff55c"/>
<path d="M572.8 238.7 574.9 238.3 581.3 241.4 579.2 241.9z" fill="#6af572"/>
<path d="M631.5 236.5 633.5 235.7 639.9 238.6 637.9 239.4z" fill="#7ff55c"/>
<path d="M591.7 238.5 593.7 238 600.2 241 598.1 241.6z" fill="#71f56b"/>
<path d="M551.9 238.4 554 237.9 560.4 241.2 558.3 241.7z" fill="#72f569"/>
<path d="M610.5 237.9 612.6 237.3 619 240.6 616.9 241.3z" fill="#7cf55f"/>
<path d="M570.7 239.1 572.8 238.7 579.2 241.9 577.1 242.3z" fill="#69f573"/>
<path d="M629.4 237.2 631.5 236.5 637.9 239.4 635.8 240.3z" fill="#7ff55c"/>
<path d="M589.6 239.1 591.7 238.5 598.1 241.6 596 242.2z" fill="#6ef56e"/>
<path d="M549.8 238.8 551.9 238.4 558.3 241.7 556.2 242.2z" fill="#73f569"/>
<path d="M608.5 238.5 610.5 237.9 616.9 241.3 614.9 241.9z" fill="#79f562"/>
<path d="M568.7 239.5 570.7 239.1 577.1 242.3 575.1 242.8z" fill="#69f574"/>
<path d="M627.3 238 629.4 237.2 635.8 240.3 633.7 241.1z" fill="#7ff55c"/>
<path d="M587.5 239.7 589.6 239.1 596 242.2 593.9 242.8z" fill="#6cf570"/>
<path d="M547.7 239.3 549.8 238.8 556.2 242.2 554.1 242.7z" fill="#73f568"/>
<path d="M606.4 239.1 608.5 238.5 614.9 241.9 612.8 242.6z" fill="#76f566"/>
<path d="M566.6 239.9 568.7 239.5 575.1 242.8 573 243.3z" fill="#68f575"/>
<path d="M625.2 238.7 627.3 238 633.7 241.1 631.6 241.8z" fill="#7ff55c"/>
<path d="M585.4 240.3 587.5 239.7 593.9 242.8 591.9 243.5z" fill="#69f573"/>
<path d="M545.6 239.7 547.7 239.3 554.1 242.7 552.1 243.2z" fill="#74f568"/>
<path d="M604.3 239.8 606.4 239.1 612.8 242.6 610.7 243.2z" fill="#73f569"/>
<path d="M564.5 240.3 566.6 239.9 573 243.3 570.9 243.9z" fill="#67f576"/>
<path d="M623.2 239.3 625.2 238.7 631.6 241.8 629.6 242.5z" fill="#7ff55c"/>
<path d="M583.4 240.9 585.4 240.3 591.9 243.5 589.8 244.1z" fill="#67f676"/>
<path d="M543.6 240.2 545.6 239.7 552.1 243.2 550 243.7z" fill="#74f567"/>
<path d="M602.2 240.4 604.3 239.8 610.7 243.2 608.6 243.9z" fill="#6ff56c"/>
<path d="M562.4 240.7 564.5 240.3 570.9 243.9 568.8 244.4z" fill="#66f677"/>
<path d="M621.1 240 623.2 239.3 629.6 242.5 627.5 243.2z" fill="#7ef55c"/>
<path d="M581.3 241.4 583.4 240.9 589.8 244.1 587.7 244.7z" fill="#65f67a"/>
<path d="M541.5 240.6 543.6 240.2 550 243.7 547.9 244.1z" fill="#74f567"/>
<path d="M600.2 241 602.2 240.4 608.6 243.9 606.6 244.5z" fill="#6df56f"/>
<path d="M560.4 241.2 562.4 240.7 568.8 244.4 566.8 244.9z" fill="#65f678"/>
<path d="M619 240.6 621.1 240 627.5 243.2 625.4 243.9z" fill="#7bf560"/>
<path d="M579.2 241.9 581.3 241.4 587.7 244.7 585.6 245.3z" fill="#62f77d"/>
<path d="M637.9 239.4 639.9 238.6 646.4 241.5 644.3 242.4z" fill="#7ff55c"/>
<path d="M539.4 241.1 541.5 240.6 547.9 244.1 545.8 244.6z" fill="#75f567"/>
<path d="M598.1 241.6 600.2 241 606.6 244.5 604.5 245.2z" fill="#6af572"/>
<path d="M558.3 241.7 560.4 241.2 566.8 244.9 564.7 245.5z" fill="#64f67a"/>
<path d="M616.9 241.3 619 240.6 625.4 243.9 623.3 244.6z" fill="#78f563"/>
<path d="M577.1 242.3 579.2 241.9 585.6 245.3 583.6 245.8z" fill="#60f77f"/>
<path d="M635.8 240.3 637.9 239.4 644.3 242.4 642.2 243.3z" fill="#7ff55c"/>
<path d="M537.4 241.5 539.4 241.1 545.8 244.6 543.8 245.1z" fill="#75f566"/>
<path d="M596 242.2 598.1 241.6 604.5 245.2 602.4 245.8z" fill="#68f575"/>
<path d="M556.2 242.2 558.3 241.7 564.7 245.5 562.6 246.1z" fill="#63f77c"/>
<path d="M614.9 241.9 616.9 241.3 623.3 244.6 621.3 245.3z" fill="#75f567"/>
<path d="M575.1 242.8 577.1 242.3 583.6 245.8 581.5 246.5z" fill="#5ef882"/>
<path d="M633.7 241.1 635.8 240.3 642.2 243.3 640.1 244.2z" fill="#7ff55c"/>
<path d="M535.3 242 537.4 241.5 543.8 245.1 541.7 245.7z" fill="#75f567"/>
<path d="M593.9 242.8 596 242.2 602.4 245.8 600.3 246.5z" fill="#65f678"/>
<path d="M554.1 242.7 556.2 242.2 562.6 246.1 560.5 246.7z" fill="#63f77c"/>
<path d="M612.8 242.6 614.9 241.9 621.3 245.3 619.2 246z" fill="#71f56a"/>
<path d="M573 243.3 575.1 242.8 581.5 246.5 579.4 247.1z" fill="#5df884"/>
<path d="M631.6 241.8 633.7 241.1 640.1 244.2 638.1 245z" fill="#7ff55c"/>
<path d="M533.2 242.5 535.3 242 541.7 245.7 539.6 246.2z" fill="#74f567"/>
<path d="M591.9 243.5 593.9 242.8 600.3 246.5 598.3 247.2z" fill="#63f77c"/>
<path d="M552.1 243.2 554.1 242.7 560.5 246.7 558.5 247.2z" fill="#63f77c"/>
<path d="M610.7 243.2 612.8 242.6 619.2 246 617.1 246.7z" fill="#6ef56e"/>
<path d="M570.9 243.9 573 243.3 579.4 247.1 577.3 247.8z" fill="#5bf986"/>
<path d="M629.6 242.5 631.6 241.8 638.1 245 636 245.7z" fill="#7ef55c"/>
<path d="M531.1 243 533.2 242.5 539.6 246.2 537.5 246.7z" fill="#74f567"/>
<path d="M589.8 244.1 591.9 243.5 598.3 247.2 596.2 248z" fill="#60f780"/>
<path d="M550 243.7 552.1 243.2 558.5 247.2 556.4 247.8z" fill="#63f77c"/>
<path d="M608.6 243.9 610.7 243.2 617.1 246.7 615 247.3z" fill="#6bf571"/>
<path d="M568.8 244.4 570.9 243.9 577.3 247.8 575.3 248.4z" fill="#5af988"/>
<path d="M627.5 243.2 629.6 242.5 636 245.7 633.9 246.5z" fill="#7bf560"/>
<path d="M529 243.5 531.1 243 537.5 246.7 535.5 247.2z" fill="#74f568"/>
<path d="M587.7 244.7 589.8 244.1 596.2 248 594.1 248.7z" fill="#5df883"/>
<path d="M547.9 244.1 550 243.7 556.4 247.8 554.3 248.4z" fill="#62f77c"/>
<path d="M606.6 244.5 608.6 243.9 615 247.3 613 248z" fill="#68f575"/>
<path d="M566.8 244.9 568.8 244.4 575.3 248.4 573.2 249.1z" fill="#58f98a"/>
<path d="M625.4 243.9 627.5 243.2 633.9 246.5 631.8 247.2z" fill="#77f564"/>
<path d="M527 244 529 243.5 535.5 247.2 533.4 247.8z" fill="#73f568"/>
<path d="M585.6 245.3 587.7 244.7 594.1 248.7 592 249.3z" fill="#5bf987"/>
<path d="M644.3 242.4 646.4 241.5 652.8 244.7 650.7 245.7z" fill="#7ff55c"/>
<path d="M545.8 244.6 547.9 244.1 554.3 248.4 552.2 249z" fill="#62f77d"/>
<path d="M604.5 245.2 606.6 244.5 613 248 610.9 248.8z" fill="#64f67a"/>
<path d="M564.7 245.5 566.8 244.9 573.2 249.1 571.1 249.9z" fill="#56fa8d"/>
<path d="M623.3 244.6 625.4 243.9 631.8 247.2 629.8 247.9z" fill="#74f568"/>
<path d="M524.9 244.5 527 244 533.4 247.8 531.3 248.3z" fill="#73f569"/>
<path d="M583.6 245.8 585.6 245.3 592 249.3 590 250z" fill="#58f98a"/>
<path d="M642.2 243.3 644.3 242.4 650.7 245.7 648.6 246.6z" fill="#7ff55c"/>
<path d="M543.8 245.1 545.8 244.6 552.2 249 550.2 249.6z" fill="#62f77d"/>
<path d="M602.4 245.8 604.5 245.2 610.9 248.8 608.8 249.5z" fill="#61f77e"/>
<path d="M562.6 246.1 564.7 245.5 571.1 249.9 569 250.6z" fill="#55fa8f"/>
<path d="M621.3 245.3 623.3 244.6 629.8 247.9 627.7 248.7z" fill="#70f56b"/>
<path d="M522.8 245 524.9 244.5 531.3 248.3 529.2 248.8z" fill="#73f569"/>
<path d="M581.5 246.5 583.6 245.8 590 250 587.9 250.7z" fill="#56fa8e"/>
<path d="M640.1 244.2 642.2 243.3 648.6 246.6 646.5 247.6z" fill="#7ff55c"/>
<path d="M541.7 245.7 543.8 245.1 550.2 249.6 548.1 250.3z" fill="#62f77e"/>
<path d="M600.3 246.5 602.4 245.8 608.8 249.5 606.8 250.2z" fill="#5ef882"/>
<path d="M560.5 246.7 562.6 246.1 569 250.6 567 251.3z" fill="#52fb92"/>
<path d="M619.2 246 621.3 245.3 627.7 248.7 625.6 249.4z" fill="#6df56f"/>
<path d="M520.8 245.5 522.8 245 529.2 248.8 527.2 249.3z" fill="#72f569"/>
<path d="M579.4 247.1 581.5 246.5 587.9 250.7 585.8 251.6z" fill="#53fb91"/>
<path d="M638.1 245 640.1 244.2 646.5 247.6 644.5 248.5z" fill="#7ef55c"/>
<path d="M539.6 246.2 541.7 245.7 548.1 250.3 546 250.9z" fill="#61f77e"/>
<path d="M598.3 247.2 600.3 246.5 606.8 250.2 604.7 250.9z" fill="#5bf986"/>
<path d="M558.5 247.2 560.5 246.7 567 251.3 564.9 252.1z" fill="#50fb95"/>
<path d="M617.1 246.7 619.2 246 625.6 249.4 623.5 250.1z" fill="#6af573"/>
<path d="M518.7 246 520.8 245.5 527.2 249.3 525.1 249.9z" fill="#72f56a"/>
<path d="M577.3 247.8 579.4 247.1 585.8 251.6 583.7 252.4z" fill="#50fc95"/>
<path d="M636 245.7 638.1 245 644.5 248.5 642.4 249.2z" fill="#7bf560"/>
<path d="M537.5 246.7 539.6 246.2 546 250.9 543.9 251.6z" fill="#60f780"/>
<path d="M596.2 248 598.3 247.2 604.7 250.9 602.6 251.8z" fill="#58f98a"/>
<path d="M556.4 247.8 558.5 247.2 564.9 252.1 562.8 252.9z" fill="#4efc98"/>
<path d="M615 247.3 617.1 246.7 623.5 250.1 621.5 250.8z" fill="#66f677"/>
<path d="M516.6 246.5 518.7 246 525.1 249.9 523 250.5z" fill="#71f56a"/>
<path d="M575.3 248.4 577.3 247.8 583.7 252.4 581.7 253.3z" fill="#4dfc99"/>
<path d="M633.9 246.5 636 245.7 642.4 249.2 640.3 250z" fill="#77f564"/>
<path d="M535.5 247.2 537.5 246.7 543.9 251.6 541.9 252.2z" fill="#5ef882"/>
<path d="M594.1 248.7 596.2 248 602.6 251.8 600.5 252.6z" fill="#55fa8e"/>
<path d="M554.3 248.4 556.4 247.8 562.8 252.9 560.7 253.6z" fill="#4cfd9b"/>
<path d="M613 248 615 247.3 621.5 250.8 619.4 251.6z" fill="#63f77c"/>
<path d="M514.5 247 516.6 246.5 523 250.5 520.9 251z" fill="#71f56b"/>
<path d="M573.2 249.1 575.3 248.4 581.7 253.3 579.6 254.2z" fill="#4bfd9c"/>
<path d="M631.8 247.2 633.9 246.5 640.3 250 638.2 250.8z" fill="#74f568"/>
<path d="M533.4 247.8 535.5 247.2 541.9 252.2 539.8 252.8z" fill="#5cf885"/>
<path d="M592 249.3 594.1 248.7 600.5 252.6 598.4 253.3z" fill="#52fb92"/>
<path d="M650.7 245.7 652.8 244.7 659.2 247.9 657.1 248.9z" fill="#7ff55c"/>
<path d="M552.2 249 554.3 248.4 560.7 253.6 558.7 254.5z" fill="#4afd9e"/>
<path d="M610.9 248.8 613 248 619.4 251.6 617.3 252.4z" fill="#60f780"/>
<path d="M512.5 247.6 514.5 247 520.9 251 518.9 251.6z" fill="#71f56b"/>
<path d="M571.1 249.9 573.2 249.1 579.6 254.2 577.5 255.2z" fill="#48fea0"/>
<path d="M629.8 247.9 631.8 247.2 638.2 250.8 636.2 251.5z" fill="#70f56c"/>
<path d="M531.3 248.3 533.4 247.8 539.8 252.8 537.7 253.4z" fill="#5af988"/>
<path d="M590 250 592 249.3 598.4 253.3 596.4 254.1z" fill="#4ffc96"/>
<path d="M648.6 246.6 650.7 245.7 657.1 248.9 655 250z" fill="#7ff55c"/>
<path d="M550.2 249.6 552.2 249 558.7 254.5 556.6 255.3z" fill="#47fea1"/>
<path d="M608.8 249.5 610.9 248.8 617.3 252.4 615.2 253.1z" fill="#5cf885"/>
<path d="M510.4 248.1 512.5 247.6 518.9 251.6 516.8 252.1z" fill="#70f56c"/>
<path d="M569 250.6 571.1 249.9 577.5 255.2 575.4 256.2z" fill="#45fea4"/>
<path d="M627.7 248.7 629.8 247.9 636.2 251.5 634.1 252.3z" fill="#6cf570"/>
<path d="M529.2 248.8 531.3 248.3 537.7 253.4 535.6 254.1z" fill="#57fa8c"/>
<path d="M587.9 250.7 590 250 596.4 254.1 594.3 255z" fill="#4cfc9a"/>
<path d="M646.5 247.6 648.6 246.6 655 250 653 251z" fill="#7bf55f"/>
<path d="M548.1 250.3 550.2 249.6 556.6 255.3 554.5 256.2z" fill="#44ffa6"/>
<path d="M606.8 250.2 608.8 249.5 615.2 253.1 613.2 253.9z" fill="#59f98a"/>
<path d="M508.3 248.6 510.4 248.1 516.8 252.1 514.7 252.6z" fill="#6df56f"/>
<path d="M567 251.3 569 250.6 575.4 256.2 573.4 257.2z" fill="#42ffa8"/>
<path d="M625.6 249.4 627.7 248.7 634.1 252.3 632 253.1z" fill="#69f574"/>
<path d="M527.2 249.3 529.2 248.8 535.6 254.1 533.6 254.8z" fill="#54fb90"/>
<path d="M585.8 251.6 587.9 250.7 594.3 255 592.2 256z" fill="#49fd9f"/>
<path d="M644.5 248.5 646.5 247.6 653 251 650.9 251.9z" fill="#78f563"/>
<path d="M546 250.9 548.1 250.3 554.5 256.2 552.4 257.1z" fill="#40ffab"/>
<path d="M604.7 250.9 606.8 250.2 613.2 253.9 611.1 254.7z" fill="#55fa8f"/>
<path d="M564.9 252.1 567 251.3 573.4 257.2 571.3 258.2z" fill="#3fffac"/>
<path d="M623.5 250.1 625.6 249.4 632 253.1 629.9 253.8z" fill="#65f679"/>
<path d="M525.1 249.9 527.2 249.3 533.6 254.8 531.5 255.6z" fill="#4ffc97"/>
<path d="M583.7 252.4 585.8 251.6 592.2 256 590.1 256.9z" fill="#45fea4"/>
<path d="M642.4 249.2 644.5 248.5 650.9 251.9 648.8 252.7z" fill="#75f566"/>
<path d="M543.9 251.6 546 250.9 552.4 257.1 550.4 258z" fill="#3cffb0"/>
<path d="M602.6 251.8 604.7 250.9 611.1 254.7 609 255.6z" fill="#51fb94"/>
<path d="M562.8 252.9 564.9 252.1 571.3 258.2 569.2 259.3z" fill="#3bffb1"/>
<path d="M621.5 250.8 623.5 250.1 629.9 253.8 627.9 254.6z" fill="#61f77e"/>
<path d="M523 250.5 525.1 249.9 531.5 255.6 529.4 256.4z" fill="#4afd9e"/>
<path d="M581.7 253.3 583.7 252.4 590.1 256.9 588.1 258z" fill="#42ffa8"/>
<path d="M640.3 250 642.4 249.2 648.8 252.7 646.7 253.5z" fill="#72f56a"/>
<path d="M541.9 252.2 543.9 251.6 550.4 258 548.3 258.9z" fill="#00ffff"/>
<path d="M600.5 252.6 602.6 251.8 609 255.6 606.9 256.5z" fill="#4efc99"/>
<path d="M560.7 253.6 562.8 252.9 569.2 259.3 567.1 260.4z" fill="#00ffff"/>
<path d="M619.4 251.6 621.5 250.8 627.9 254.6 625.8 255.4z" fill="#5ef882"/>
<path d="M520.9 251 523 250.5 529.4 256.4 527.3 257.2z" fill="#43ffa6"/>
<path d="M579.6 254.2 581.7 253.3 588.1 258 586 259.2z" fill="#3effad"/>
<path d="M638.2 250.8 640.3 250 646.7 253.5 644.7 254.3z" fill="#6ff56d"/>
<path d="M539.8 252.8 541.9 252.2 548.3 258.9 546.2 259.8z" fill="#00ffff"/>
<path d="M598.4 253.3 600.5 252.6 606.9 256.5 604.9 257.3z" fill="#4afd9d"/>
<path d="M657.1 248.9 659.2 247.9 665.6 251.2 663.5 252.2z" fill="#7bf55f"/>
<path d="M558.7 254.5 560.7 253.6 567.1 260.4 565.1 261.6z" fill="#00ffff"/>
<path d="M617.3 252.4 619.4 251.6 625.8 255.4 623.7 256.2z" fill="#5bf987"/>
<path d="M518.9 251.6 520.9 251 527.3 257.2 525.3 258z" fill="#3bffb1"/>
<path d="M577.5 255.2 579.6 254.2 586 259.2 583.9 260.4z" fill="#3affb2"/>
<path d="M636.2 251.5 638.2 250.8 644.7 254.3 642.6 255.1z" fill="#6cf570"/>
<path d="M537.7 253.4 539.8 252.8 546.2 259.8 544.1 260.7z" fill="#00ffff"/>
<path d="M596.4 254.1 598.4 253.3 604.9 257.3 602.8 258.2z" fill="#47fea1"/>
<path d="M655 250 657.1 248.9 663.5 252.2 661.4 253.3z" fill="#79f562"/>
<path d="M556.6 255.3 558.7 254.5 565.1 261.6 563 262.9z" fill="#00ffff"/>
<path d="M615.2 253.1 617.3 252.4 623.7 256.2 621.6 257z" fill="#57fa8c"/>
<path d="M516.8 252.1 518.9 251.6 525.3 258 523.2 258.8z" fill="#00ffff"/>
<path d="M575.4 256.2 577.5 255.2 583.9 260.4 581.8 261.6z" fill="#00ffff"/>
<path d="M634.1 252.3 636.2 251.5 642.6 255.1 640.5 255.9z" fill="#68f575"/>
<path d="M535.6 254.1 537.7 253.4 544.1 260.7 542.1 261.6z" fill="#00ffff"/>
<path d="M594.3 255 596.4 254.1 602.8 258.2 600.7 259.3z" fill="#43ffa6"/>
<path d="M653 251 655 250 661.4 253.3 659.4 254.4z" fill="#75f566"/>
<path d="M554.5 256.2 556.6 255.3 563 262.9 560.9 264.2z" fill="#00ffff"/>
<path d="M613.2 253.9 615.2 253.1 621.6 257 619.6 257.8z" fill="#53fb91"/>
<path d="M514.7 252.6 516.8 252.1 523.2 258.8 521.1 259.4z" fill="#00ffff"/>
<path d="M573.4 257.2 575.4 256.2 581.8 261.6 579.8 262.8z" fill="#00ffff"/>
<path d="M632 253.1 634.1 252.3 640.5 255.9 638.4 256.6z" fill="#64f67a"/>
<path d="M533.6 254.8 535.6 254.1 542.1 261.6 540 262.8z" fill="#00ffff"/>
<path d="M592.2 256 594.3 255 600.7 259.3 598.6 260.4z" fill="#3fffac"/>
<path d="M650.9 251.9 653 251 659.4 254.4 657.3 255.3z" fill="#72f56a"/>
<path d="M552.4 257.1 554.5 256.2 560.9 264.2 558.8 265.5z" fill="#00ffff"/>
<path d="M611.1 254.7 613.2 253.9 619.6 257.8 617.5 258.6z" fill="#50fc96"/>
<path d="M571.3 258.2 573.4 257.2 579.8 262.8 577.7 264.1z" fill="#00ffff"/>
<path d="M629.9 253.8 632 253.1 638.4 256.6 636.4 257.4z" fill="#60f780"/>
<path d="M531.5 255.6 533.6 254.8 540 262.8 537.9 264z" fill="#00ffff"/>
<path d="M590.1 256.9 592.2 256 598.6 260.4 596.6 261.5z" fill="#3bffb1"/>
<path d="M648.8 252.7 650.9 251.9 657.3 255.3 655.2 256.1z" fill="#6ff56d"/>
<path d="M550.4 258 552.4 257.1 558.8 265.5 556.8 266.8z" fill="#00ffff"/>
<path d="M609 255.6 611.1 254.7 617.5 258.6 615.4 259.6z" fill="#4bfd9b"/>
<path d="M569.2 259.3 571.3 258.2 577.7 264.1 575.6 265.4z" fill="#00ffff"/>
<path d="M627.9 254.6 629.9 253.8 636.4 257.4 634.3 258.2z" fill="#5cf885"/>
<path d="M529.4 256.4 531.5 255.6 537.9 264 535.8 265.3z" fill="#00ffff"/>
<path d="M588.1 258 590.1 256.9 596.6 261.5 594.5 262.8z" fill="#00ffff"/>
<path d="M646.7 253.5 648.8 252.7 655.2 256.1 653.1 256.9z" fill="#6cf571"/>
<path d="M548.3 258.9 550.4 258 556.8 266.8 554.7 268.2z" fill="#00ffff"/>
<path d="M606.9 256.5 609 255.6 615.4 259.6 613.3 260.6z" fill="#47fea1"/>
<path d="M567.1 260.4 569.2 259.3 575.6 265.4 573.5 266.8z" fill="#00ffff"/>
<path d="M625.8 255.4 627.9 254.6 634.3 258.2 632.2 259.1z" fill="#59f98a"/>
<path d="M527.3 257.2 529.4 256.4 535.8 265.3 533.8 266.6z" fill="#00ffff"/>
<path d="M586 259.2 588.1 258 594.5 262.8 592.4 264.2z" fill="#00ffff"/>
<path d="M644.7 254.3 646.7 253.5 653.1 256.9 651.1 257.7z" fill="#68f575"/>
<path d="M546.2 259.8 548.3 258.9 554.7 268.2 552.6 269.5z" fill="#00ffff"/>
<path d="M604.9 257.3 606.9 256.5 613.3 260.6 611.3 261.6z" fill="#43ffa7"/>
<path d="M663.5 252.2 665.6 251.2 672 254.5 669.9 255.6z" fill="#48fda0"/>
<path d="M565.1 261.6 567.1 260.4 573.5 266.8 571.5 268.3z" fill="#00ffff"/>
<path d="M623.7 256.2 625.8 255.4 632.2 259.1 630.1 259.9z" fill="#55fa8f"/>
<path d="M525.3 258 527.3 257.2 533.8 266.6 531.7 268.1z" fill="#00ffff"/>
<path d="M583.9 260.4 586 259.2 592.4 264.2 590.3 265.6z" fill="#00ffff"/>
<path d="M642.6 255.1 644.7 254.3 651.1 257.7 649 258.6z" fill="#64f67a"/>
<path d="M544.1 260.7 546.2 259.8 552.6 269.5 550.5 270.9z" fill="#00ffff"/>
<path d="M602.8 258.2 604.9 257.3 611.3 261.6 609.2 262.5z" fill="#3effad"/>
<path d="M661.4 253.3 663.5 252.2 669.9 255.6 667.8 256.7z" fill="#48fda0"/>
<path d="M563 262.9 565.1 261.6 571.5 268.3 569.4 269.9z" fill="#00ffff"/>
<path d="M621.6 257 623.7 256.2 630.1 259.9 628.1 260.7z" fill="#51fb94"/>
<path d="M523.2 258.8 525.3 258 531.7 268.1 529.6 269.6z" fill="#00ffff"/>
<path d="M581.8 261.6 583.9 260.4 590.3 265.6 588.3 267z" fill="#00ffff"/>
<path d="M640.5 255.9 642.6 255.1 649 258.6 646.9 259.4z" fill="#61f77f"/>
<path d="M542.1 261.6 544.1 260.7 550.5 270.9 548.5 272.3z" fill="#00ffff"/>
<path d="M600.7 259.3 602.8 258.2 609.2 262.5 607.1 263.7z" fill="#3affb3"/>
<path d="M659.4 254.4 661.4 253.3 667.8 256.7 665.8 257.8z" fill="#48fda0"/>
<path d="M560.9 264.2 563 262.9 569.4 269.9 567.3 271.5z" fill="#00ffff"/>
<path d="M619.6 257.8 621.6 257 628.1 260.7 626 261.6z" fill="#4efc98"/>
<path d="M521.1 259.4 523.2 258.8 529.6 269.6 527.5 270.6z" fill="#00ffff"/>
<path d="M579.8 262.8 581.8 261.6 588.3 267 586.2 268.4z" fill="#00ffff"/>
<path d="M638.4 256.6 640.5 255.9 646.9 259.4 644.8 260.2z" fill="#5ef883"/>
<path d="M540 262.8 542.1 261.6 548.5 272.3 546.4 274.3z" fill="#00ffff"/>
<path d="M598.6 260.4 600.7 259.3 607.1 263.7 605 265z" fill="#00ffff"/>
<path d="M657.3 255.3 659.4 254.4 665.8 257.8 663.7 258.7z" fill="#48fda0"/>
<path d="M558.8 265.5 560.9 264.2 567.3 271.5 565.2 273.2z" fill="#00ffff"/>
<path d="M617.5 258.6 619.6 257.8 626 261.6 623.9 262.4z" fill="#4afd9d"/>
<path d="M577.7 264.1 579.8 262.8 586.2 268.4 584.1 269.9z" fill="#00ffff"/>
<path d="M636.4 257.4 638.4 256.6 644.8 260.2 642.8 261z" fill="#5bf987"/>
<path d="M537.9 264 540 262.8 546.4 274.3 544.3 276.4z" fill="#00ffff"/>
<path d="M596.6 261.5 598.6 260.4 605 265 603 266.3z" fill="#00ffff"/>
<path d="M655.2 256.1 657.3 255.3 663.7 258.7 661.6 259.5z" fill="#48fda0"/>
<path d="M556.8 266.8 558.8 265.5 565.2 273.2 563.2 274.9z" fill="#00ffff"/>
<path d="M615.4 259.6 617.5 258.6 623.9 262.4 621.8 263.5z" fill="#46fea3"/>
<path d="M575.6 265.4 577.7 264.1 584.1 269.9 582 271.5z" fill="#00ffff"/>
<path d="M634.3 258.2 636.4 257.4 642.8 261 640.7 261.8z" fill="#57fa8c"/>
<path d="M535.8 265.3 537.9 264 544.3 276.4 542.2 278.6z" fill="#00ffff"/>
<path d="M594.5 262.8 596.6 261.5 603 266.3 600.9 267.8z" fill="#00ffff"/>
<path d="M653.1 256.9 655.2 256.1 661.6 259.5 659.5 260.4z" fill="#48fda0"/>
<path d="M554.7 268.2 556.8 266.8 563.2 274.9 561.1 276.6z" fill="#00ffff"/>
<path d="M613.3 260.6 615.4 259.6 621.8 263.5 619.8 264.5z" fill="#41ffa9"/>
<path d="M573.5 266.8 575.6 265.4 582 271.5 580 273.1z" fill="#00ffff"/>
<path d="M632.2 259.1 634.3 258.2 640.7 261.8 638.6 262.7z" fill="#53fb91"/>
<path d="M533.8 266.6 535.8 265.3 542.2 278.6 540.2 280.9z" fill="#00ffff"/>
<path d="M592.4 264.2 594.5 262.8 600.9 267.8 598.8 269.3z" fill="#00ffff"/>
<path d="M651.1 257.7 653.1 256.9 659.5 260.4 657.5 261.2z" fill="#48fda0"/>
<path d="M552.6 269.5 554.7 268.2 561.1 276.6 559 278.4z" fill="#00ffff"/>
<path d="M611.3 261.6 613.3 260.6 619.8 264.5 617.7 265.6z" fill="#3dffaf"/>
<path d="M571.5 268.3 573.5 266.8 580 273.1 577.9 275z" fill="#00ffff"/>
<path d="M630.1 259.9 632.2 259.1 638.6 262.7 636.5 263.5z" fill="#4ffc97"/>
<path d="M531.7 268.1 533.8 266.6 540.2 280.9 538.1 283.6z" fill="#00ffff"/>
<path d="M590.3 265.6 592.4 264.2 598.8 269.3 596.7 270.8z" fill="#00ffff"/>
<path d="M649 258.6 651.1 257.7 657.5 261.2 655.4 262z" fill="#48fda0"/>
<path d="M550.5 270.9 552.6 269.5 559 278.4 556.9 280.1z" fill="#00ffff"/>
<path d="M609.2 262.5 611.3 261.6 617.7 265.6 615.6 266.6z" fill="#38ffb5"/>
<path d="M569.4 269.9 571.5 268.3 577.9 275 575.8 276.9z" fill="#00ffff"/>
<path d="M628.1 260.7 630.1 259.9 636.5 263.5 634.5 264.4z" fill="#4bfd9c"/>
<path d="M529.6 269.6 531.7 268.1 538.1 283.6 536 286.1z" fill="#00ffff"/>
<path d="M588.3 267 590.3 265.6 596.7 270.8 594.7 272.4z" fill="#00ffff"/>
<path d="M646.9 259.4 649 258.6 655.4 262 653.3 262.8z" fill="#48fda0"/>
<path d="M548.5 272.3 550.5 270.9 556.9 280.1 554.9 282z" fill="#00ffff"/>
<path d="M607.1 263.7 609.2 262.5 615.6 266.6 613.5 267.9z" fill="#00ffff"/>
<path d="M567.3 271.5 569.4 269.9 575.8 276.9 573.7 278.9z" fill="#00ffff"/>
<path d="M626 261.6 628.1 260.7 634.5 264.4 632.4 265.2z" fill="#47fea1"/>
<path d="M527.5 270.6 529.6 269.6 536 286.1 533.9 287.8z" fill="#00ffff"/>
<path d="M586.2 268.4 588.3 267 594.7 272.4 592.6 274z" fill="#00ffff"/>
<path d="M644.8 260.2 646.9 259.4 653.3 262.8 651.2 263.7z" fill="#48fda0"/>
<path d="M546.4 274.3 548.5 272.3 554.9 282 552.8 284.7z" fill="#00ffff"/>
<path d="M605 265 607.1 263.7 613.5 267.9 611.5 269.3z" fill="#00ffff"/>
<path d="M565.2 273.2 567.3 271.5 573.7 278.9 571.7 280.9z" fill="#00ffff"/>
<path d="M623.9 262.4 626 261.6 632.4 265.2 630.3 266.1z" fill="#44ffa6"/>
<path d="M584.1 269.9 586.2 268.4 592.6 274 590.5 275.8z" fill="#00ffff"/>
<path d="M642.8 261 644.8 260.2 651.2 263.7 649.2 264.5z" fill="#48fda0"/>
<path d="M544.3 276.4 546.4 274.3 552.8 284.7 550.7 287.5z" fill="#00ffff"/>
<path d="M603 266.3 605 265 611.5 269.3 609.4 270.6z" fill="#00ffff"/>
<path d="M563.2 274.9 565.2 273.2 571.7 280.9 569.6 283z" fill="#00ffff"/>
<path d="M621.8 263.5 623.9 262.4 630.3 266.1 628.2 267.2z" fill="#40ffab"/>
<path d="M582 271.5 584.1 269.9 590.5 275.8 588.4 277.6z" fill="#00ffff"/>
<path d="M640.7 261.8 642.8 261 649.2 264.5 647.1 265.3z" fill="#48fda0"/>
<path d="M542.2 278.6 544.3 276.4 550.7 287.5 548.6 290.5z" fill="#00ffff"/>
<path d="M600.9 267.8 603 266.3 609.4 270.6 607.3 272.2z" fill="#00ffff"/>
<path d="M561.1 276.6 563.2 274.9 569.6 283 567.5 285z" fill="#00ffff"/>
<path d="M619.8 264.5 621.8 263.5 628.2 267.2 626.2 268.3z" fill="#3cffb1"/>
<path d="M580 273.1 582 271.5 588.4 277.6 586.4 279.4z" fill="#00ffff"/>
<path d="M638.6 262.7 640.7 261.8 647.1 265.3 645 266.2z" fill="#48fda0"/>
<path d="M540.2 280.9 542.2 278.6 548.6 290.5 546.6 293.5z" fill="#00ffff"/>
<path d="M598.8 269.3 600.9 267.8 607.3 272.2 605.2 273.8z" fill="#00ffff"/>
<path d="M559 278.4 561.1 276.6 567.5 285 565.4 287.2z" fill="#00ffff"/>
<path d="M617.7 265.6 619.8 264.5 626.2 268.3 624.1 269.4z" fill="#00ffff"/>
<path d="M577.9 275 580 273.1 586.4 279.4 584.3 281.5z" fill="#00ffff"/>
<path d="M636.5 263.5 638.6 262.7 645 266.2 643 267z" fill="#48fda0"/>
<path d="M538.1 283.6 540.2 280.9 546.6 293.5 544.5 297.1z" fill="#00ffff"/>
<path d="M596.7 270.8 598.8 269.3 605.2 273.8 603.2 275.5z" fill="#00ffff"/>
<path d="M556.9 280.1 559 278.4 565.4 287.2 563.4 289.3z" fill="#00ffff"/>
<path d="M615.6 266.6 617.7 265.6 624.1 269.4 622 270.5z" fill="#00ffff"/>
<path d="M575.8 276.9 577.9 275 584.3 281.5 582.2 283.7z" fill="#00ffff"/>
<path d="M634.5 264.4 636.5 263.5 643 267 640.9 267.9z" fill="#48fda0"/>
<path d="M536 286.1 538.1 283.6 544.5 297.1 542.4 300.6z" fill="#00ffff"/>
<path d="M594.7 272.4 596.7 270.8 603.2 275.5 601.1 277.1z" fill="#00ffff"/>
<path d="M554.9 282 556.9 280.1 563.4 289.3 561.3 291.5z" fill="#00ffff"/>
<path d="M613.5 267.9 615.6 266.6 622 270.5 619.9 271.8z" fill="#00ffff"/>
<path d="M573.7 278.9 575.8 276.9 582.2 283.7 580.1 286z" fill="#00ffff"/>
<path d="M632.4 265.2 634.5 264.4 640.9 267.9 638.8 268.8z" fill="#48fda0"/>
<path d="M533.9 287.8 536 286.1 542.4 300.6 540.4 302.9z" fill="#00ffff"/>
<path d="M592.6 274 594.7 272.4 601.1 277.1 599 278.8z" fill="#00ffff"/>
<path d="M552.8 284.7 554.9 282 561.3 291.5 559.2 294.9z" fill="#00ffff"/>
<path d="M611.5 269.3 613.5 267.9 619.9 271.8 617.9 273.3z" fill="#00ffff"/>
<path d="M571.7 280.9 573.7 278.9 580.1 286 578.1 288.3z" fill="#00ffff"/>
<path d="M630.3 266.1 632.4 265.2 638.8 268.8 636.7 269.7z" fill="#48fda0"/>
<path d="M590.5 275.8 592.6 274 599 278.8 596.9 280.6z" fill="#00ffff"/>
<path d="M550.7 287.5 552.8 284.7 559.2 294.9 557.1 298.4z" fill="#00ffff"/>
<path d="M609.4 270.6 611.5 269.3 617.9 273.3 615.8 274.7z" fill="#00ffff"/>
<path d="M569.6 283 571.7 280.9 578.1 288.3 576 290.7z" fill="#00ffff"/>
<path d="M628.2 267.2 630.3 266.1 636.7 269.7 634.6 270.8z" fill="#48fda0"/>
<path d="M588.4 277.6 590.5 275.8 596.9 280.6 594.9 282.5z" fill="#00ffff"/>
<path d="M548.6 290.5 550.7 287.5 557.1 298.4 555.1 302.1z" fill="#00ffff"/>
<path d="M607.3 272.2 609.4 270.6 615.8 274.7 613.7 276.3z" fill="#00ffff"/>
<path d="M567.5 285 569.6 283 576 290.7 573.9 293.1z" fill="#00ffff"/>
<path d="M626.2 268.3 628.2 267.2 634.6 270.8 632.6 271.9z" fill="#48fda0"/>
<path d="M586.4 279.4 588.4 277.6 594.9 282.5 592.8 284.5z" fill="#00ffff"/>
<path d="M546.6 293.5 548.6 290.5 555.1 302.1 553 305.9z" fill="#00ffff"/>
<path d="M605.2 273.8 607.3 272.2 613.7 276.3 611.6 278z" fill="#00ffff"/>
<path d="M565.4 287.2 567.5 285 573.9 293.1 571.8 295.5z" fill="#00ffff"/>
<path d="M624.1 269.4 626.2 268.3 632.6 271.9 630.5 273z" fill="#48fda0"/>
<path d="M584.3 281.5 586.4 279.4 592.8 284.5 590.7 286.7z" fill="#00ffff"/>
<path d="M544.5 297.1 546.6 293.5 553 305.9 550.9 310.4z" fill="#00ffff"/>
<path d="M603.2 275.5 605.2 273.8 611.6 278 609.6 279.6z" fill="#00ffff"/>
<path d="M563.4 289.3 565.4 287.2 571.8 295.5 569.8 298z" fill="#00ffff"/>
<path d="M622 270.5 624.1 269.4 630.5 273 628.4 274.2z" fill="#48fda0"/>
<path d="M582.2 283.7 584.3 281.5 590.7 286.7 588.6 289z" fill="#00ffff"/>
<path d="M542.4 300.6 544.5 297.1 550.9 310.4 548.8 314.8z" fill="#00ffff"/>
<path d="M601.1 277.1 603.2 275.5 609.6 279.6 607.5 281.2z" fill="#00ffff"/>
<path d="M561.3 291.5 563.4 289.3 569.8 298 567.7 300.5z" fill="#00ffff"/>
<path d="M619.9 271.8 622 270.5 628.4 274.2 626.3 275.6z" fill="#48fda0"/>
<path d="M580.1 286 582.2 283.7 588.6 289 586.6 291.4z" fill="#00ffff"/>
<path d="M540.4 302.9 542.4 300.6 548.8 314.8 546.8 317.7z" fill="#00ffff"/>
<path d="M599 278.8 601.1 277.1 607.5 281.2 605.4 282.9z" fill="#00ffff"/>
<path d="M559.2 294.9 561.3 291.5 567.7 300.5 565.6 304.5z" fill="#00ffff"/>
<path d="M617.9 273.3 619.9 271.8 626.3 275.6 624.3 277.1z" fill="#48fda0"/>
<path d="M578.1 288.3 580.1 286 586.6 291.4 584.5 293.8z" fill="#00ffff"/>
<path d="M596.9 280.6 599 278.8 605.4 282.9 603.3 284.7z" fill="#00ffff"/>
<path d="M557.1 298.4 559.2 294.9 565.6 304.5 563.5 308.5z" fill="#00ffff"/>
<path d="M615.8 274.7 617.9 273.3 624.3 277.1 622.2 278.6z" fill="#48fda0"/>
<path d="M576 290.7 578.1 288.3 584.5 293.8 582.4 296.2z" fill="#00ffff"/>
<path d="M594.9 282.5 596.9 280.6 603.3 284.7 601.3 286.5z" fill="#00ffff"/>
<path d="M555.1 302.1 557.1 298.4 563.5 308.5 561.5 312.8z" fill="#00ffff"/>
<path d="M613.7 276.3 615.8 274.7 622.2 278.6 620.1 280.1z" fill="#48fda0"/>
<path d="M573.9 293.1 576 290.7 582.4 296.2 580.3 298.7z" fill="#00ffff"/>
<path d="M592.8 284.5 594.9 282.5 601.3 286.5 599.2 288.4z" fill="#00ffff"/>
<path d="M553 305.9 555.1 302.1 561.5 312.8 559.4 317.2z" fill="#00ffff"/>
<path d="M611.6 278 613.7 276.3 620.1 280.1 618 281.7z" fill="#48fda0"/>
<path d="M571.8 295.5 573.9 293.1 580.3 298.7 578.3 301.2z" fill="#00ffff"/>
<path d="M590.7 286.7 592.8 284.5 599.2 288.4 597.1 290.6z" fill="#00ffff"/>
<path d="M550.9 310.4 553 305.9 559.4 317.2 557.3 322.6z" fill="#00ffff"/>
<path d="M609.6 279.6 611.6 278 618 281.7 616 283.3z" fill="#48fda0"/>
<path d="M569.8 298 571.8 295.5 578.3 301.2 576.2 303.7z" fill="#00ffff"/>
<path d="M588.6 289 590.7 286.7 597.1 290.6 595 292.8z" fill="#00ffff"/>
<path d="M548.8 314.8 550.9 310.4 557.3 322.6 555.2 327.7z" fill="#00ffff"/>
<path d="M607.5 281.2 609.6 279.6 616 283.3 613.9 284.8z" fill="#48fda0"/>
<path d="M567.7 300.5 569.8 298 576.2 303.7 574.1 306.4z" fill="#00ffff"/>
<path d="M586.6 291.4 588.6 289 595 292.8 593 295.1z" fill="#00ffff"/>
<path d="M546.8 317.7 548.8 314.8 555.2 327.7 553.2 331z" fill="#00ffff"/>
<path d="M605.4 282.9 607.5 281.2 613.9 284.8 611.8 286.4z" fill="#48fda0"/>
<path d="M565.6 304.5 567.7 300.5 574.1 306.4 572 310.5z" fill="#00ffff"/>
<path d="M584.5 293.8 586.6 291.4 593 295.1 590.9 297.4z" fill="#00ffff"/>
<path d="M603.3 284.7 605.4 282.9 611.8 286.4 609.8 288z" fill="#48fda0"/>
<path d="M563.5 308.5 565.6 304.5 572 310.5 570 314.7z" fill="#00ffff"/>
<path d="M582.4 296.2 584.5 293.8 590.9 297.4 588.8 299.8z" fill="#00ffff"/>
<path d="M601.3 286.5 603.3 284.7 609.8 288 607.7 289.8z" fill="#48fda0"/>
<path d="M561.5 312.8 563.5 308.5 570 314.7 567.9 319.1z" fill="#00ffff"/>
<path d="M580.3 298.7 582.4 296.2 588.8 299.8 586.7 302.1z" fill="#00ffff"/>
<path d="M599.2 288.4 601.3 286.5 607.7 289.8 605.6 291.5z" fill="#48fda0"/>
<path d="M559.4 317.2 561.5 312.8 567.9 319.1 565.8 323.7z" fill="#00ffff"/>
<path d="M578.3 301.2 580.3 298.7 586.7 302.1 584.7 304.5z" fill="#00ffff"/>
<path d="M597.1 290.6 599.2 288.4 605.6 291.5 603.5 293.5z" fill="#48fda0"/>
<path d="M557.3 322.6 559.4 317.2 565.8 323.7 563.7 329.3z" fill="#00ffff"/>
<path d="M576.2 303.7 578.3 301.2 584.7 304.5 582.6 306.9z" fill="#00ffff"/>
<path d="M595 292.8 597.1 290.6 603.5 293.5 601.5 295.6z" fill="#48fda0"/>
<path d="M555.2 327.7 557.3 322.6 563.7 329.3 561.7 334.6z" fill="#00ffff"/>
<path d="M574.1 306.4 576.2 303.7 582.6 306.9 580.5 309.4z" fill="#00ffff"/>
<path d="M593 295.1 595 292.8 601.5 295.6 599.4 297.6z" fill="#48fda0"/>
<path d="M553.2 331 555.2 327.7 561.7 334.6 559.6 337.9z" fill="#00ffff"/>
<path d="M572 310.5 574.1 306.4 580.5 309.4 578.4 313.3z" fill="#00ffff"/>
<path d="M590.9 297.4 593 295.1 599.4 297.6 597.3 299.7z" fill="#48fda0"/>
<path d="M570 314.7 572 310.5 578.4 313.3 576.4 317.3z" fill="#00ffff"/>
<path d="M588.8 299.8 590.9 297.4 597.3 299.7 595.2 301.8z" fill="#48fda0"/>
<path d="M567.9 319.1 570 314.7 576.4 317.3 574.3 321.5z" fill="#00ffff"/>
<path d="M586.7 302.1 588.8 299.8 595.2 301.8 593.1 303.9z" fill="#48fda0"/>
<path d="M565.8 323.7 567.9 319.1 574.3 321.5 572.2 325.8z" fill="#00ffff"/>
<path d="M584.7 304.5 586.7 302.1 593.1 303.9 591.1 305.9z" fill="#48fda0"/>
<path d="M563.7 329.3 565.8 323.7 572.2 325.8 570.1 331z" fill="#00ffff"/>
<path d="M582.6 306.9 584.7 304.5 591.1 305.9 589 308z" fill="#48fda0"/>
<path d="M561.7 334.6 563.7 329.3 570.1 331 568.1 336z" fill="#00ffff"/>
<path d="M580.5 309.4 582.6 306.9 589 308 586.9 310.1z" fill="#48fda0"/>
<path d="M559.6 337.9 561.7 334.6 568.1 336 566 339z" fill="#00ffff"/>
<path d="M578.4 313.3 580.5 309.4 586.9 310.1 584.8 313.6z" fill="#48fda0"/>
<path d="M576.4 317.3 578.4 313.3 584.8 313.6 582.8 317z" fill="#00ffff"/>
<path d="M574.3 321.5 576.4 317.3 582.8 317 580.7 320.7z" fill="#00ffff"/>
<path d="M572.2 325.8 574.3 321.5 580.7 320.7 578.6 324.4z" fill="#00ffff"/>
<path d="M570.1 331 572.2 325.8 578.6 324.4 576.5 328.9z" fill="#00ffff"/>
<path d="M568.1 336 570.1 331 576.5 328.9 574.5 333.1z" fill="#00ffff"/>
<path d="M566 339 568.1 336 574.5 333.1 572.4 335.5z" fill="#00ffff"/>
</g>

<g transform="translate(624.7 283.3) rotate(39.0)"><path d="M0 0L4 -3.1L4 -1.5L8.7 -1.5L8.7 1.5L4 1.5L4 3.1z" fill="#000"/></g>
<text x="470.2" y="195.9" class="lt">F</text>
<text x="584" y="207.1" text-anchor="middle" class="tt" textLength="23.3" lengthAdjust="spacingAndGlyphs">K-SFM</text>
<text x="582.7" y="218.2" text-anchor="middle" class="tt" textLength="47.4" lengthAdjust="spacingAndGlyphs">100,000 cells</text>
</svg></body></html>
